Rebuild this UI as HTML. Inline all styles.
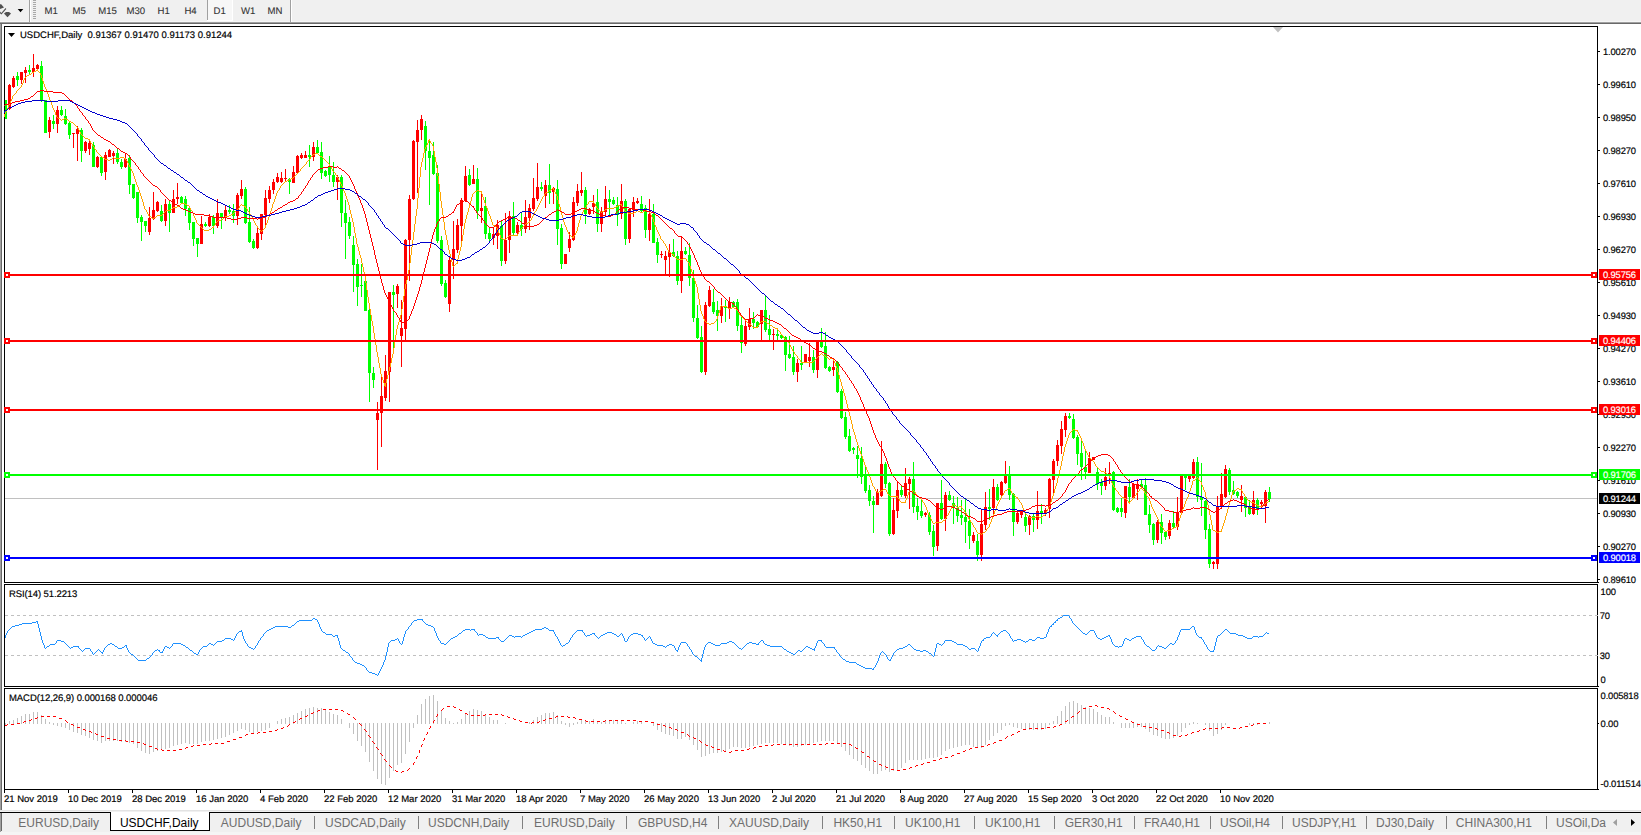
<!DOCTYPE html><html><head><meta charset="utf-8"><title>USDCHF,Daily</title>
<style>
html,body{margin:0;padding:0;background:#fff;}
body{width:1641px;height:835px;overflow:hidden;position:relative;font-family:"Liberation Sans",sans-serif;}
.t{position:absolute;white-space:nowrap;font-size:9.5px;line-height:11px;color:#000;text-rendering:geometricPrecision;}
.tb{position:absolute;white-space:nowrap;font-size:9.6px;line-height:11px;color:#333;top:6px;text-rendering:geometricPrecision;}
.ax{position:absolute;white-space:nowrap;font-size:9.4px;line-height:11px;color:#000;left:1603px;text-rendering:geometricPrecision;letter-spacing:-0.15px;}
.lb{position:absolute;left:1599px;width:41px;height:11px;color:#fff;font-size:9.4px;line-height:11px;white-space:nowrap;overflow:hidden;text-rendering:geometricPrecision;letter-spacing:-0.15px;}
.lb span{position:absolute;left:4px;top:0;}
.tab{position:absolute;top:816px;white-space:nowrap;font-size:12px;line-height:14px;color:#6e6e6e;}
.dt{position:absolute;top:794px;white-space:nowrap;font-size:9.5px;line-height:11px;color:#000;text-rendering:geometricPrecision;}
svg{position:absolute;left:0;top:0;}
.t,.ax,.dt{-webkit-text-stroke:0.18px #000;}
.lb{-webkit-text-stroke:0.18px #fff;}
.tb{-webkit-text-stroke:0.1px #333;}
</style></head><body>
<svg width="1641" height="835" viewBox="0 0 1641 835" shape-rendering="crispEdges">
<rect x="0" y="0" width="1641" height="22" fill="#f0f0f0"/>
<rect x="0" y="21" width="1641" height="1" fill="#f6f6f6"/>
<rect x="0" y="22" width="1641" height="1" fill="#a0a0a0"/>
<rect x="0" y="23" width="1641" height="1" fill="#696969"/>
<g fill="#505050" shape-rendering="auto"><polygon points="0,4.2 1.2,4.2 4,7.6 0,8.9"/><polygon points="0,11.4 1.3,13.1 5.6,8.1 6.3,8.9 1.4,14.6 0,13.2"/><polygon points="4,13.4 6,12 9,12 11,13.4 7.5,17.2"/></g>
<polygon points="17.7,8.9 23.3,8.9 20.5,12.2" fill="#000" shape-rendering="auto"/>
<rect x="29" y="0" width="1" height="22" fill="#a0a0a0"/><rect x="30" y="0" width="1" height="22" fill="#fff"/>
<rect x="33" y="0" width="3" height="1" fill="#a8a8a8"/>
<rect x="33" y="2" width="3" height="1" fill="#a8a8a8"/>
<rect x="33" y="4" width="3" height="1" fill="#a8a8a8"/>
<rect x="33" y="6" width="3" height="1" fill="#a8a8a8"/>
<rect x="33" y="8" width="3" height="1" fill="#a8a8a8"/>
<rect x="33" y="10" width="3" height="1" fill="#a8a8a8"/>
<rect x="33" y="12" width="3" height="1" fill="#a8a8a8"/>
<rect x="33" y="14" width="3" height="1" fill="#a8a8a8"/>
<rect x="33" y="16" width="3" height="1" fill="#a8a8a8"/>
<rect x="33" y="18" width="3" height="1" fill="#a8a8a8"/>
<rect x="208" y="0" width="24" height="20" fill="#f7f7f7"/><rect x="207" y="0" width="1" height="20" fill="#a0a0a0"/><rect x="207" y="20" width="26" height="1" fill="#fff"/><rect x="232" y="0" width="1" height="20" fill="#fff"/>
<rect x="290" y="0" width="1" height="22" fill="#a0a0a0"/><rect x="291" y="0" width="1" height="22" fill="#fff"/>
<rect x="0" y="24" width="1" height="786" fill="#a0a0a0"/><rect x="1" y="24" width="1" height="786" fill="#696969"/>
<rect x="4" y="26" width="1594" height="1" fill="#000"/>
<rect x="4" y="582" width="1595" height="1" fill="#000"/>
<rect x="4" y="26" width="1" height="557" fill="#000"/>
<rect x="1597" y="26" width="1" height="557" fill="#000"/>
<rect x="4" y="584" width="1594" height="1" fill="#000"/>
<rect x="4" y="686" width="1595" height="1" fill="#000"/>
<rect x="4" y="584" width="1" height="103" fill="#000"/>
<rect x="1597" y="584" width="1" height="103" fill="#000"/>
<rect x="4" y="688" width="1594" height="1" fill="#000"/>
<rect x="4" y="789" width="1595" height="1" fill="#000"/>
<rect x="4" y="688" width="1" height="102" fill="#000"/>
<rect x="1597" y="688" width="1" height="102" fill="#000"/>
<polygon points="1273,27 1283,27 1278,32.5" fill="#c0c0c0" shape-rendering="auto"/>
<rect x="1598" y="51" width="2" height="1" fill="#000"/>
<rect x="1598" y="84" width="2" height="1" fill="#000"/>
<rect x="1598" y="117" width="2" height="1" fill="#000"/>
<rect x="1598" y="150" width="2" height="1" fill="#000"/>
<rect x="1598" y="183" width="2" height="1" fill="#000"/>
<rect x="1598" y="216" width="2" height="1" fill="#000"/>
<rect x="1598" y="249" width="2" height="1" fill="#000"/>
<rect x="1598" y="282" width="2" height="1" fill="#000"/>
<rect x="1598" y="315" width="2" height="1" fill="#000"/>
<rect x="1598" y="348" width="2" height="1" fill="#000"/>
<rect x="1598" y="381" width="2" height="1" fill="#000"/>
<rect x="1598" y="414" width="2" height="1" fill="#000"/>
<rect x="1598" y="447" width="2" height="1" fill="#000"/>
<rect x="1598" y="480" width="2" height="1" fill="#000"/>
<rect x="1598" y="513" width="2" height="1" fill="#000"/>
<rect x="1598" y="546" width="2" height="1" fill="#000"/>
<rect x="1598" y="579" width="2" height="1" fill="#000"/>
<rect x="4" y="790" width="1" height="3" fill="#000"/>
<rect x="68" y="790" width="1" height="3" fill="#000"/>
<rect x="132" y="790" width="1" height="3" fill="#000"/>
<rect x="196" y="790" width="1" height="3" fill="#000"/>
<rect x="260" y="790" width="1" height="3" fill="#000"/>
<rect x="324" y="790" width="1" height="3" fill="#000"/>
<rect x="388" y="790" width="1" height="3" fill="#000"/>
<rect x="452" y="790" width="1" height="3" fill="#000"/>
<rect x="516" y="790" width="1" height="3" fill="#000"/>
<rect x="580" y="790" width="1" height="3" fill="#000"/>
<rect x="644" y="790" width="1" height="3" fill="#000"/>
<rect x="708" y="790" width="1" height="3" fill="#000"/>
<rect x="772" y="790" width="1" height="3" fill="#000"/>
<rect x="836" y="790" width="1" height="3" fill="#000"/>
<rect x="900" y="790" width="1" height="3" fill="#000"/>
<rect x="964" y="790" width="1" height="3" fill="#000"/>
<rect x="1028" y="790" width="1" height="3" fill="#000"/>
<rect x="1092" y="790" width="1" height="3" fill="#000"/>
<rect x="1156" y="790" width="1" height="3" fill="#000"/>
<rect x="1220" y="790" width="1" height="3" fill="#000"/>
<line x1="5" y1="615.5" x2="1598" y2="615.5" stroke="#c0c0c0" stroke-width="1" stroke-dasharray="3,3"/>
<line x1="5" y1="655.5" x2="1598" y2="655.5" stroke="#c0c0c0" stroke-width="1" stroke-dasharray="3,3"/>
<rect x="1598" y="723" width="1" height="1" fill="#000"/>
<rect x="5" y="498" width="1592" height="1" fill="#c0c0c0"/>
<rect x="5" y="100" width="1" height="19" fill="#00ff00"/><rect x="4" y="100" width="3" height="19" fill="#00ff00"/>
<rect x="9" y="84" width="1" height="26" fill="#ff0000"/><rect x="8" y="85" width="3" height="24" fill="#ff0000"/>
<rect x="13" y="76" width="1" height="12" fill="#ff0000"/><rect x="12" y="78" width="3" height="9" fill="#ff0000"/>
<rect x="17" y="72" width="1" height="14" fill="#00ff00"/><rect x="16" y="76" width="3" height="4" fill="#00ff00"/>
<rect x="21" y="72" width="1" height="12" fill="#ff0000"/><rect x="20" y="72" width="3" height="8" fill="#ff0000"/>
<rect x="25" y="67" width="1" height="16" fill="#ff0000"/><rect x="24" y="70" width="3" height="3" fill="#ff0000"/>
<rect x="29" y="65" width="1" height="9" fill="#00ff00"/><rect x="28" y="70" width="3" height="2" fill="#00ff00"/>
<rect x="33" y="54" width="1" height="23" fill="#ff0000"/><rect x="32" y="68" width="3" height="4" fill="#ff0000"/>
<rect x="37" y="64" width="1" height="5" fill="#ff0000"/><rect x="36" y="65" width="3" height="4" fill="#ff0000"/>
<rect x="41" y="61" width="1" height="41" fill="#00ff00"/><rect x="40" y="66" width="3" height="34" fill="#00ff00"/>
<rect x="45" y="100" width="1" height="33" fill="#00ff00"/><rect x="44" y="100" width="3" height="33" fill="#00ff00"/>
<rect x="49" y="117" width="1" height="21" fill="#ff0000"/><rect x="48" y="120" width="3" height="12" fill="#ff0000"/>
<rect x="53" y="115" width="1" height="14" fill="#00ff00"/><rect x="52" y="121" width="3" height="3" fill="#00ff00"/>
<rect x="57" y="106" width="1" height="27" fill="#ff0000"/><rect x="56" y="110" width="3" height="14" fill="#ff0000"/>
<rect x="61" y="106" width="1" height="10" fill="#00ff00"/><rect x="60" y="110" width="3" height="5" fill="#00ff00"/>
<rect x="65" y="109" width="1" height="16" fill="#00ff00"/><rect x="64" y="116" width="3" height="8" fill="#00ff00"/>
<rect x="69" y="122" width="1" height="17" fill="#00ff00"/><rect x="68" y="123" width="3" height="12" fill="#00ff00"/>
<rect x="73" y="133" width="1" height="15" fill="#ff0000"/><rect x="72" y="133" width="3" height="1" fill="#ff0000"/>
<rect x="77" y="126" width="1" height="35" fill="#ff0000"/><rect x="76" y="129" width="3" height="5" fill="#ff0000"/>
<rect x="81" y="128" width="1" height="34" fill="#00ff00"/><rect x="80" y="130" width="3" height="21" fill="#00ff00"/>
<rect x="85" y="141" width="1" height="12" fill="#ff0000"/><rect x="84" y="142" width="3" height="9" fill="#ff0000"/>
<rect x="89" y="140" width="1" height="15" fill="#ff0000"/><rect x="88" y="143" width="3" height="6" fill="#ff0000"/>
<rect x="93" y="142" width="1" height="25" fill="#00ff00"/><rect x="92" y="145" width="3" height="22" fill="#00ff00"/>
<rect x="97" y="156" width="1" height="12" fill="#ff0000"/><rect x="96" y="157" width="3" height="10" fill="#ff0000"/>
<rect x="101" y="157" width="1" height="19" fill="#00ff00"/><rect x="100" y="157" width="3" height="16" fill="#00ff00"/>
<rect x="105" y="152" width="1" height="28" fill="#ff0000"/><rect x="104" y="155" width="3" height="17" fill="#ff0000"/>
<rect x="109" y="149" width="1" height="8" fill="#ff0000"/><rect x="108" y="150" width="3" height="7" fill="#ff0000"/>
<rect x="113" y="151" width="1" height="13" fill="#ff0000"/><rect x="112" y="153" width="3" height="3" fill="#ff0000"/>
<rect x="117" y="149" width="1" height="15" fill="#00ff00"/><rect x="116" y="153" width="3" height="9" fill="#00ff00"/>
<rect x="121" y="159" width="1" height="10" fill="#00ff00"/><rect x="120" y="162" width="3" height="5" fill="#00ff00"/>
<rect x="125" y="154" width="1" height="14" fill="#ff0000"/><rect x="124" y="159" width="3" height="8" fill="#ff0000"/>
<rect x="129" y="155" width="1" height="39" fill="#00ff00"/><rect x="128" y="158" width="3" height="27" fill="#00ff00"/>
<rect x="133" y="184" width="1" height="15" fill="#00ff00"/><rect x="132" y="184" width="3" height="14" fill="#00ff00"/>
<rect x="137" y="192" width="1" height="31" fill="#00ff00"/><rect x="136" y="192" width="3" height="26" fill="#00ff00"/>
<rect x="141" y="215" width="1" height="26" fill="#00ff00"/><rect x="140" y="217" width="3" height="5" fill="#00ff00"/>
<rect x="145" y="221" width="1" height="11" fill="#00ff00"/><rect x="144" y="221" width="3" height="5" fill="#00ff00"/>
<rect x="149" y="207" width="1" height="28" fill="#ff0000"/><rect x="148" y="218" width="3" height="14" fill="#ff0000"/>
<rect x="153" y="192" width="1" height="28" fill="#ff0000"/><rect x="152" y="210" width="3" height="9" fill="#ff0000"/>
<rect x="157" y="201" width="1" height="11" fill="#ff0000"/><rect x="156" y="202" width="3" height="9" fill="#ff0000"/>
<rect x="161" y="205" width="1" height="17" fill="#00ff00"/><rect x="160" y="211" width="3" height="10" fill="#00ff00"/>
<rect x="165" y="199" width="1" height="27" fill="#ff0000"/><rect x="164" y="204" width="3" height="17" fill="#ff0000"/>
<rect x="169" y="200" width="1" height="32" fill="#00ff00"/><rect x="168" y="204" width="3" height="9" fill="#00ff00"/>
<rect x="173" y="190" width="1" height="23" fill="#ff0000"/><rect x="172" y="199" width="3" height="14" fill="#ff0000"/>
<rect x="177" y="183" width="1" height="21" fill="#ff0000"/><rect x="176" y="197" width="3" height="2" fill="#ff0000"/>
<rect x="181" y="196" width="1" height="8" fill="#00ff00"/><rect x="180" y="197" width="3" height="6" fill="#00ff00"/>
<rect x="185" y="196" width="1" height="20" fill="#00ff00"/><rect x="184" y="199" width="3" height="10" fill="#00ff00"/>
<rect x="189" y="208" width="1" height="22" fill="#00ff00"/><rect x="188" y="208" width="3" height="15" fill="#00ff00"/>
<rect x="193" y="222" width="1" height="24" fill="#00ff00"/><rect x="192" y="222" width="3" height="17" fill="#00ff00"/>
<rect x="197" y="238" width="1" height="19" fill="#00ff00"/><rect x="196" y="238" width="3" height="6" fill="#00ff00"/>
<rect x="201" y="216" width="1" height="28" fill="#ff0000"/><rect x="200" y="224" width="3" height="20" fill="#ff0000"/>
<rect x="205" y="222" width="1" height="5" fill="#00ff00"/><rect x="204" y="224" width="3" height="2" fill="#00ff00"/>
<rect x="209" y="214" width="1" height="13" fill="#ff0000"/><rect x="208" y="217" width="3" height="9" fill="#ff0000"/>
<rect x="213" y="215" width="1" height="19" fill="#00ff00"/><rect x="212" y="217" width="3" height="9" fill="#00ff00"/>
<rect x="217" y="199" width="1" height="29" fill="#ff0000"/><rect x="216" y="213" width="3" height="13" fill="#ff0000"/>
<rect x="221" y="213" width="1" height="16" fill="#00ff00"/><rect x="220" y="213" width="3" height="5" fill="#00ff00"/>
<rect x="225" y="205" width="1" height="16" fill="#ff0000"/><rect x="224" y="210" width="3" height="8" fill="#ff0000"/>
<rect x="229" y="205" width="1" height="9" fill="#00ff00"/><rect x="228" y="210" width="3" height="2" fill="#00ff00"/>
<rect x="233" y="204" width="1" height="19" fill="#00ff00"/><rect x="232" y="211" width="3" height="5" fill="#00ff00"/>
<rect x="237" y="193" width="1" height="32" fill="#ff0000"/><rect x="236" y="195" width="3" height="21" fill="#ff0000"/>
<rect x="241" y="180" width="1" height="19" fill="#ff0000"/><rect x="240" y="189" width="3" height="7" fill="#ff0000"/>
<rect x="245" y="187" width="1" height="37" fill="#00ff00"/><rect x="244" y="189" width="3" height="34" fill="#00ff00"/>
<rect x="249" y="207" width="1" height="36" fill="#00ff00"/><rect x="248" y="222" width="3" height="20" fill="#00ff00"/>
<rect x="253" y="239" width="1" height="10" fill="#00ff00"/><rect x="252" y="241" width="3" height="7" fill="#00ff00"/>
<rect x="257" y="228" width="1" height="21" fill="#ff0000"/><rect x="256" y="233" width="3" height="15" fill="#ff0000"/>
<rect x="261" y="214" width="1" height="26" fill="#ff0000"/><rect x="260" y="214" width="3" height="20" fill="#ff0000"/>
<rect x="265" y="190" width="1" height="35" fill="#ff0000"/><rect x="264" y="198" width="3" height="17" fill="#ff0000"/>
<rect x="269" y="186" width="1" height="17" fill="#ff0000"/><rect x="268" y="190" width="3" height="9" fill="#ff0000"/>
<rect x="273" y="179" width="1" height="15" fill="#ff0000"/><rect x="272" y="182" width="3" height="8" fill="#ff0000"/>
<rect x="277" y="173" width="1" height="10" fill="#ff0000"/><rect x="276" y="177" width="3" height="5" fill="#ff0000"/>
<rect x="281" y="172" width="1" height="11" fill="#ff0000"/><rect x="280" y="178" width="3" height="4" fill="#ff0000"/>
<rect x="285" y="169" width="1" height="12" fill="#ff0000"/><rect x="284" y="178" width="3" height="1" fill="#ff0000"/>
<rect x="289" y="178" width="1" height="16" fill="#00ff00"/><rect x="288" y="179" width="3" height="3" fill="#00ff00"/>
<rect x="293" y="166" width="1" height="17" fill="#ff0000"/><rect x="292" y="172" width="3" height="11" fill="#ff0000"/>
<rect x="297" y="155" width="1" height="19" fill="#ff0000"/><rect x="296" y="156" width="3" height="17" fill="#ff0000"/>
<rect x="301" y="153" width="1" height="6" fill="#ff0000"/><rect x="300" y="155" width="3" height="3" fill="#ff0000"/>
<rect x="305" y="151" width="1" height="7" fill="#ff0000"/><rect x="304" y="155" width="3" height="3" fill="#ff0000"/>
<rect x="309" y="145" width="1" height="22" fill="#00ff00"/><rect x="308" y="155" width="3" height="2" fill="#00ff00"/>
<rect x="313" y="142" width="1" height="19" fill="#ff0000"/><rect x="312" y="147" width="3" height="10" fill="#ff0000"/>
<rect x="317" y="140" width="1" height="14" fill="#00ff00"/><rect x="316" y="147" width="3" height="6" fill="#00ff00"/>
<rect x="321" y="142" width="1" height="37" fill="#00ff00"/><rect x="320" y="152" width="3" height="21" fill="#00ff00"/>
<rect x="325" y="170" width="1" height="7" fill="#00ff00"/><rect x="324" y="171" width="3" height="5" fill="#00ff00"/>
<rect x="329" y="156" width="1" height="26" fill="#00ff00"/><rect x="328" y="167" width="3" height="8" fill="#00ff00"/>
<rect x="333" y="162" width="1" height="25" fill="#00ff00"/><rect x="332" y="175" width="3" height="7" fill="#00ff00"/>
<rect x="337" y="175" width="1" height="25" fill="#ff0000"/><rect x="336" y="177" width="3" height="5" fill="#ff0000"/>
<rect x="341" y="175" width="1" height="52" fill="#00ff00"/><rect x="340" y="177" width="3" height="36" fill="#00ff00"/>
<rect x="345" y="200" width="1" height="59" fill="#00ff00"/><rect x="344" y="213" width="3" height="10" fill="#00ff00"/>
<rect x="349" y="217" width="1" height="22" fill="#00ff00"/><rect x="348" y="222" width="3" height="14" fill="#00ff00"/>
<rect x="353" y="236" width="1" height="56" fill="#00ff00"/><rect x="352" y="245" width="3" height="20" fill="#00ff00"/>
<rect x="357" y="259" width="1" height="47" fill="#00ff00"/><rect x="356" y="264" width="3" height="23" fill="#00ff00"/>
<rect x="361" y="264" width="1" height="33" fill="#00ff00"/><rect x="360" y="285" width="3" height="1" fill="#00ff00"/>
<rect x="365" y="280" width="1" height="31" fill="#00ff00"/><rect x="364" y="281" width="3" height="30" fill="#00ff00"/>
<rect x="369" y="309" width="1" height="93" fill="#00ff00"/><rect x="368" y="310" width="3" height="63" fill="#00ff00"/>
<rect x="373" y="367" width="1" height="21" fill="#00ff00"/><rect x="372" y="373" width="3" height="7" fill="#00ff00"/>
<rect x="377" y="402" width="1" height="68" fill="#ff0000"/><rect x="376" y="413" width="3" height="7" fill="#ff0000"/>
<rect x="381" y="376" width="1" height="71" fill="#ff0000"/><rect x="380" y="396" width="3" height="17" fill="#ff0000"/>
<rect x="385" y="355" width="1" height="46" fill="#ff0000"/><rect x="384" y="371" width="3" height="27" fill="#ff0000"/>
<rect x="389" y="292" width="1" height="110" fill="#ff0000"/><rect x="388" y="292" width="3" height="80" fill="#ff0000"/>
<rect x="393" y="285" width="1" height="64" fill="#00ff00"/><rect x="392" y="292" width="3" height="3" fill="#00ff00"/>
<rect x="397" y="284" width="1" height="24" fill="#ff0000"/><rect x="396" y="286" width="3" height="8" fill="#ff0000"/>
<rect x="401" y="300" width="1" height="67" fill="#ff0000"/><rect x="400" y="328" width="3" height="8" fill="#ff0000"/>
<rect x="405" y="239" width="1" height="101" fill="#ff0000"/><rect x="404" y="240" width="3" height="89" fill="#ff0000"/>
<rect x="409" y="195" width="1" height="86" fill="#ff0000"/><rect x="408" y="199" width="3" height="41" fill="#ff0000"/>
<rect x="413" y="140" width="1" height="60" fill="#ff0000"/><rect x="412" y="141" width="3" height="58" fill="#ff0000"/>
<rect x="417" y="120" width="1" height="73" fill="#ff0000"/><rect x="416" y="130" width="3" height="12" fill="#ff0000"/>
<rect x="421" y="115" width="1" height="25" fill="#ff0000"/><rect x="420" y="119" width="3" height="11" fill="#ff0000"/>
<rect x="425" y="121" width="1" height="49" fill="#00ff00"/><rect x="424" y="126" width="3" height="25" fill="#00ff00"/>
<rect x="429" y="140" width="1" height="65" fill="#00ff00"/><rect x="428" y="151" width="3" height="7" fill="#00ff00"/>
<rect x="433" y="142" width="1" height="33" fill="#00ff00"/><rect x="432" y="155" width="3" height="19" fill="#00ff00"/>
<rect x="437" y="165" width="1" height="78" fill="#00ff00"/><rect x="436" y="173" width="3" height="68" fill="#00ff00"/>
<rect x="441" y="236" width="1" height="50" fill="#00ff00"/><rect x="440" y="240" width="3" height="44" fill="#00ff00"/>
<rect x="445" y="280" width="1" height="18" fill="#00ff00"/><rect x="444" y="283" width="3" height="14" fill="#00ff00"/>
<rect x="449" y="257" width="1" height="55" fill="#ff0000"/><rect x="448" y="260" width="3" height="44" fill="#ff0000"/>
<rect x="453" y="221" width="1" height="58" fill="#ff0000"/><rect x="452" y="249" width="3" height="11" fill="#ff0000"/>
<rect x="457" y="219" width="1" height="34" fill="#ff0000"/><rect x="456" y="225" width="3" height="25" fill="#ff0000"/>
<rect x="461" y="198" width="1" height="43" fill="#ff0000"/><rect x="460" y="200" width="3" height="26" fill="#ff0000"/>
<rect x="465" y="166" width="1" height="36" fill="#ff0000"/><rect x="464" y="176" width="3" height="25" fill="#ff0000"/>
<rect x="469" y="169" width="1" height="17" fill="#00ff00"/><rect x="468" y="175" width="3" height="10" fill="#00ff00"/>
<rect x="473" y="165" width="1" height="19" fill="#ff0000"/><rect x="472" y="179" width="3" height="5" fill="#ff0000"/>
<rect x="477" y="168" width="1" height="51" fill="#00ff00"/><rect x="476" y="179" width="3" height="32" fill="#00ff00"/>
<rect x="481" y="193" width="1" height="30" fill="#ff0000"/><rect x="480" y="208" width="3" height="3" fill="#ff0000"/>
<rect x="485" y="197" width="1" height="42" fill="#00ff00"/><rect x="484" y="206" width="3" height="28" fill="#00ff00"/>
<rect x="489" y="228" width="1" height="13" fill="#00ff00"/><rect x="488" y="233" width="3" height="6" fill="#00ff00"/>
<rect x="493" y="227" width="1" height="18" fill="#ff0000"/><rect x="492" y="234" width="3" height="4" fill="#ff0000"/>
<rect x="497" y="220" width="1" height="29" fill="#ff0000"/><rect x="496" y="225" width="3" height="11" fill="#ff0000"/>
<rect x="501" y="221" width="1" height="45" fill="#00ff00"/><rect x="500" y="226" width="3" height="35" fill="#00ff00"/>
<rect x="505" y="213" width="1" height="51" fill="#ff0000"/><rect x="504" y="240" width="3" height="21" fill="#ff0000"/>
<rect x="509" y="211" width="1" height="42" fill="#ff0000"/><rect x="508" y="216" width="3" height="24" fill="#ff0000"/>
<rect x="513" y="202" width="1" height="33" fill="#00ff00"/><rect x="512" y="216" width="3" height="17" fill="#00ff00"/>
<rect x="517" y="222" width="1" height="12" fill="#ff0000"/><rect x="516" y="225" width="3" height="8" fill="#ff0000"/>
<rect x="521" y="213" width="1" height="23" fill="#00ff00"/><rect x="520" y="225" width="3" height="4" fill="#00ff00"/>
<rect x="525" y="200" width="1" height="33" fill="#ff0000"/><rect x="524" y="217" width="3" height="12" fill="#ff0000"/>
<rect x="529" y="204" width="1" height="26" fill="#ff0000"/><rect x="528" y="208" width="3" height="10" fill="#ff0000"/>
<rect x="533" y="178" width="1" height="33" fill="#ff0000"/><rect x="532" y="198" width="3" height="11" fill="#ff0000"/>
<rect x="537" y="163" width="1" height="38" fill="#ff0000"/><rect x="536" y="187" width="3" height="12" fill="#ff0000"/>
<rect x="541" y="182" width="1" height="9" fill="#00ff00"/><rect x="540" y="187" width="3" height="2" fill="#00ff00"/>
<rect x="545" y="180" width="1" height="28" fill="#ff0000"/><rect x="544" y="185" width="3" height="11" fill="#ff0000"/>
<rect x="549" y="164" width="1" height="40" fill="#00ff00"/><rect x="548" y="185" width="3" height="8" fill="#00ff00"/>
<rect x="553" y="187" width="1" height="17" fill="#ff0000"/><rect x="552" y="188" width="3" height="4" fill="#ff0000"/>
<rect x="557" y="180" width="1" height="65" fill="#00ff00"/><rect x="556" y="189" width="3" height="40" fill="#00ff00"/>
<rect x="561" y="224" width="1" height="45" fill="#00ff00"/><rect x="560" y="228" width="3" height="36" fill="#00ff00"/>
<rect x="565" y="254" width="1" height="10" fill="#ff0000"/><rect x="564" y="254" width="3" height="10" fill="#ff0000"/>
<rect x="569" y="232" width="1" height="20" fill="#ff0000"/><rect x="568" y="239" width="3" height="9" fill="#ff0000"/>
<rect x="573" y="197" width="1" height="44" fill="#ff0000"/><rect x="572" y="202" width="3" height="38" fill="#ff0000"/>
<rect x="577" y="184" width="1" height="22" fill="#ff0000"/><rect x="576" y="191" width="3" height="12" fill="#ff0000"/>
<rect x="581" y="172" width="1" height="24" fill="#ff0000"/><rect x="580" y="190" width="3" height="3" fill="#ff0000"/>
<rect x="585" y="187" width="1" height="37" fill="#00ff00"/><rect x="584" y="190" width="3" height="24" fill="#00ff00"/>
<rect x="589" y="208" width="1" height="7" fill="#ff0000"/><rect x="588" y="209" width="3" height="5" fill="#ff0000"/>
<rect x="593" y="195" width="1" height="19" fill="#ff0000"/><rect x="592" y="203" width="3" height="4" fill="#ff0000"/>
<rect x="597" y="189" width="1" height="43" fill="#00ff00"/><rect x="596" y="202" width="3" height="22" fill="#00ff00"/>
<rect x="601" y="207" width="1" height="25" fill="#ff0000"/><rect x="600" y="212" width="3" height="12" fill="#ff0000"/>
<rect x="605" y="186" width="1" height="29" fill="#ff0000"/><rect x="604" y="199" width="3" height="13" fill="#ff0000"/>
<rect x="609" y="190" width="1" height="25" fill="#00ff00"/><rect x="608" y="199" width="3" height="3" fill="#00ff00"/>
<rect x="613" y="197" width="1" height="8" fill="#00ff00"/><rect x="612" y="200" width="3" height="4" fill="#00ff00"/>
<rect x="617" y="197" width="1" height="29" fill="#00ff00"/><rect x="616" y="205" width="3" height="10" fill="#00ff00"/>
<rect x="621" y="184" width="1" height="35" fill="#ff0000"/><rect x="620" y="201" width="3" height="13" fill="#ff0000"/>
<rect x="625" y="199" width="1" height="46" fill="#00ff00"/><rect x="624" y="201" width="3" height="38" fill="#00ff00"/>
<rect x="629" y="208" width="1" height="35" fill="#ff0000"/><rect x="628" y="209" width="3" height="30" fill="#ff0000"/>
<rect x="633" y="197" width="1" height="20" fill="#ff0000"/><rect x="632" y="202" width="3" height="8" fill="#ff0000"/>
<rect x="637" y="198" width="1" height="6" fill="#ff0000"/><rect x="636" y="201" width="3" height="2" fill="#ff0000"/>
<rect x="641" y="196" width="1" height="16" fill="#00ff00"/><rect x="640" y="204" width="3" height="7" fill="#00ff00"/>
<rect x="645" y="205" width="1" height="33" fill="#00ff00"/><rect x="644" y="208" width="3" height="22" fill="#00ff00"/>
<rect x="649" y="199" width="1" height="42" fill="#ff0000"/><rect x="648" y="214" width="3" height="16" fill="#ff0000"/>
<rect x="653" y="204" width="1" height="39" fill="#00ff00"/><rect x="652" y="214" width="3" height="29" fill="#00ff00"/>
<rect x="657" y="238" width="1" height="25" fill="#00ff00"/><rect x="656" y="242" width="3" height="13" fill="#00ff00"/>
<rect x="661" y="251" width="1" height="7" fill="#ff0000"/><rect x="660" y="254" width="3" height="1" fill="#ff0000"/>
<rect x="665" y="251" width="1" height="24" fill="#ff0000"/><rect x="664" y="256" width="3" height="4" fill="#ff0000"/>
<rect x="669" y="244" width="1" height="33" fill="#ff0000"/><rect x="668" y="252" width="3" height="5" fill="#ff0000"/>
<rect x="673" y="239" width="1" height="18" fill="#00ff00"/><rect x="672" y="252" width="3" height="4" fill="#00ff00"/>
<rect x="677" y="251" width="1" height="34" fill="#00ff00"/><rect x="676" y="256" width="3" height="25" fill="#00ff00"/>
<rect x="681" y="237" width="1" height="56" fill="#ff0000"/><rect x="680" y="251" width="3" height="30" fill="#ff0000"/>
<rect x="685" y="247" width="1" height="8" fill="#00ff00"/><rect x="684" y="251" width="3" height="3" fill="#00ff00"/>
<rect x="689" y="243" width="1" height="43" fill="#00ff00"/><rect x="688" y="255" width="3" height="23" fill="#00ff00"/>
<rect x="693" y="270" width="1" height="52" fill="#00ff00"/><rect x="692" y="278" width="3" height="40" fill="#00ff00"/>
<rect x="697" y="305" width="1" height="34" fill="#00ff00"/><rect x="696" y="318" width="3" height="20" fill="#00ff00"/>
<rect x="701" y="326" width="1" height="47" fill="#00ff00"/><rect x="700" y="337" width="3" height="35" fill="#00ff00"/>
<rect x="705" y="302" width="1" height="73" fill="#ff0000"/><rect x="704" y="305" width="3" height="67" fill="#ff0000"/>
<rect x="709" y="286" width="1" height="21" fill="#ff0000"/><rect x="708" y="290" width="3" height="16" fill="#ff0000"/>
<rect x="713" y="289" width="1" height="25" fill="#00ff00"/><rect x="712" y="302" width="3" height="10" fill="#00ff00"/>
<rect x="717" y="301" width="1" height="30" fill="#00ff00"/><rect x="716" y="310" width="3" height="6" fill="#00ff00"/>
<rect x="721" y="298" width="1" height="25" fill="#ff0000"/><rect x="720" y="306" width="3" height="10" fill="#ff0000"/>
<rect x="725" y="300" width="1" height="22" fill="#00ff00"/><rect x="724" y="306" width="3" height="2" fill="#00ff00"/>
<rect x="729" y="297" width="1" height="22" fill="#ff0000"/><rect x="728" y="302" width="3" height="6" fill="#ff0000"/>
<rect x="733" y="301" width="1" height="7" fill="#00ff00"/><rect x="732" y="302" width="3" height="5" fill="#00ff00"/>
<rect x="737" y="299" width="1" height="32" fill="#00ff00"/><rect x="736" y="302" width="3" height="24" fill="#00ff00"/>
<rect x="741" y="316" width="1" height="37" fill="#00ff00"/><rect x="740" y="325" width="3" height="18" fill="#00ff00"/>
<rect x="745" y="319" width="1" height="27" fill="#ff0000"/><rect x="744" y="326" width="3" height="18" fill="#ff0000"/>
<rect x="749" y="308" width="1" height="22" fill="#ff0000"/><rect x="748" y="319" width="3" height="8" fill="#ff0000"/>
<rect x="753" y="312" width="1" height="17" fill="#00ff00"/><rect x="752" y="319" width="3" height="4" fill="#00ff00"/>
<rect x="757" y="321" width="1" height="7" fill="#00ff00"/><rect x="756" y="322" width="3" height="5" fill="#00ff00"/>
<rect x="761" y="310" width="1" height="30" fill="#ff0000"/><rect x="760" y="310" width="3" height="14" fill="#ff0000"/>
<rect x="765" y="295" width="1" height="37" fill="#00ff00"/><rect x="764" y="310" width="3" height="20" fill="#00ff00"/>
<rect x="769" y="315" width="1" height="25" fill="#00ff00"/><rect x="768" y="329" width="3" height="6" fill="#00ff00"/>
<rect x="773" y="329" width="1" height="21" fill="#ff0000"/><rect x="772" y="334" width="3" height="1" fill="#ff0000"/>
<rect x="777" y="328" width="1" height="12" fill="#00ff00"/><rect x="776" y="334" width="3" height="2" fill="#00ff00"/>
<rect x="781" y="334" width="1" height="5" fill="#00ff00"/><rect x="780" y="335" width="3" height="3" fill="#00ff00"/>
<rect x="785" y="336" width="1" height="35" fill="#00ff00"/><rect x="784" y="337" width="3" height="18" fill="#00ff00"/>
<rect x="789" y="336" width="1" height="23" fill="#00ff00"/><rect x="788" y="354" width="3" height="4" fill="#00ff00"/>
<rect x="793" y="346" width="1" height="29" fill="#00ff00"/><rect x="792" y="357" width="3" height="15" fill="#00ff00"/>
<rect x="797" y="359" width="1" height="23" fill="#ff0000"/><rect x="796" y="363" width="3" height="9" fill="#ff0000"/>
<rect x="801" y="346" width="1" height="24" fill="#00ff00"/><rect x="800" y="363" width="3" height="2" fill="#00ff00"/>
<rect x="805" y="354" width="1" height="9" fill="#ff0000"/><rect x="804" y="354" width="3" height="8" fill="#ff0000"/>
<rect x="809" y="343" width="1" height="24" fill="#ff0000"/><rect x="808" y="357" width="3" height="4" fill="#ff0000"/>
<rect x="813" y="350" width="1" height="23" fill="#00ff00"/><rect x="812" y="357" width="3" height="13" fill="#00ff00"/>
<rect x="817" y="341" width="1" height="37" fill="#ff0000"/><rect x="816" y="341" width="3" height="29" fill="#ff0000"/>
<rect x="821" y="328" width="1" height="20" fill="#00ff00"/><rect x="820" y="341" width="3" height="6" fill="#00ff00"/>
<rect x="825" y="332" width="1" height="37" fill="#00ff00"/><rect x="824" y="346" width="3" height="22" fill="#00ff00"/>
<rect x="829" y="366" width="1" height="6" fill="#00ff00"/><rect x="828" y="367" width="3" height="4" fill="#00ff00"/>
<rect x="833" y="359" width="1" height="17" fill="#ff0000"/><rect x="832" y="367" width="3" height="3" fill="#ff0000"/>
<rect x="837" y="361" width="1" height="32" fill="#00ff00"/><rect x="836" y="362" width="3" height="30" fill="#00ff00"/>
<rect x="841" y="389" width="1" height="30" fill="#00ff00"/><rect x="840" y="391" width="3" height="27" fill="#00ff00"/>
<rect x="845" y="412" width="1" height="27" fill="#00ff00"/><rect x="844" y="417" width="3" height="20" fill="#00ff00"/>
<rect x="849" y="429" width="1" height="23" fill="#00ff00"/><rect x="848" y="436" width="3" height="15" fill="#00ff00"/>
<rect x="853" y="447" width="1" height="7" fill="#00ff00"/><rect x="852" y="448" width="3" height="2" fill="#00ff00"/>
<rect x="857" y="446" width="1" height="32" fill="#00ff00"/><rect x="856" y="455" width="3" height="4" fill="#00ff00"/>
<rect x="861" y="447" width="1" height="37" fill="#00ff00"/><rect x="860" y="458" width="3" height="19" fill="#00ff00"/>
<rect x="865" y="467" width="1" height="26" fill="#00ff00"/><rect x="864" y="475" width="3" height="16" fill="#00ff00"/>
<rect x="869" y="485" width="1" height="21" fill="#00ff00"/><rect x="868" y="490" width="3" height="11" fill="#00ff00"/>
<rect x="873" y="496" width="1" height="37" fill="#00ff00"/><rect x="872" y="501" width="3" height="4" fill="#00ff00"/>
<rect x="877" y="489" width="1" height="16" fill="#ff0000"/><rect x="876" y="492" width="3" height="13" fill="#ff0000"/>
<rect x="881" y="441" width="1" height="56" fill="#ff0000"/><rect x="880" y="464" width="3" height="32" fill="#ff0000"/>
<rect x="885" y="462" width="1" height="26" fill="#00ff00"/><rect x="884" y="464" width="3" height="20" fill="#00ff00"/>
<rect x="889" y="482" width="1" height="54" fill="#00ff00"/><rect x="888" y="483" width="3" height="51" fill="#00ff00"/>
<rect x="893" y="498" width="1" height="37" fill="#ff0000"/><rect x="892" y="510" width="3" height="24" fill="#ff0000"/>
<rect x="897" y="481" width="1" height="37" fill="#ff0000"/><rect x="896" y="490" width="3" height="21" fill="#ff0000"/>
<rect x="901" y="486" width="1" height="11" fill="#00ff00"/><rect x="900" y="490" width="3" height="5" fill="#00ff00"/>
<rect x="905" y="468" width="1" height="30" fill="#ff0000"/><rect x="904" y="483" width="3" height="13" fill="#ff0000"/>
<rect x="909" y="477" width="1" height="32" fill="#ff0000"/><rect x="908" y="479" width="3" height="5" fill="#ff0000"/>
<rect x="913" y="462" width="1" height="51" fill="#00ff00"/><rect x="912" y="479" width="3" height="28" fill="#00ff00"/>
<rect x="917" y="498" width="1" height="22" fill="#00ff00"/><rect x="916" y="506" width="3" height="6" fill="#00ff00"/>
<rect x="921" y="499" width="1" height="19" fill="#00ff00"/><rect x="920" y="511" width="3" height="5" fill="#00ff00"/>
<rect x="925" y="512" width="1" height="5" fill="#ff0000"/><rect x="924" y="513" width="3" height="2" fill="#ff0000"/>
<rect x="929" y="512" width="1" height="23" fill="#00ff00"/><rect x="928" y="515" width="3" height="17" fill="#00ff00"/>
<rect x="933" y="525" width="1" height="31" fill="#00ff00"/><rect x="932" y="531" width="3" height="16" fill="#00ff00"/>
<rect x="937" y="503" width="1" height="48" fill="#ff0000"/><rect x="936" y="503" width="3" height="43" fill="#ff0000"/>
<rect x="941" y="480" width="1" height="40" fill="#00ff00"/><rect x="940" y="503" width="3" height="16" fill="#00ff00"/>
<rect x="945" y="492" width="1" height="39" fill="#ff0000"/><rect x="944" y="495" width="3" height="24" fill="#ff0000"/>
<rect x="949" y="491" width="1" height="10" fill="#00ff00"/><rect x="948" y="495" width="3" height="5" fill="#00ff00"/>
<rect x="953" y="496" width="1" height="28" fill="#00ff00"/><rect x="952" y="503" width="3" height="4" fill="#00ff00"/>
<rect x="957" y="497" width="1" height="25" fill="#00ff00"/><rect x="956" y="508" width="3" height="8" fill="#00ff00"/>
<rect x="961" y="500" width="1" height="25" fill="#00ff00"/><rect x="960" y="515" width="3" height="3" fill="#00ff00"/>
<rect x="965" y="499" width="1" height="44" fill="#00ff00"/><rect x="964" y="517" width="3" height="5" fill="#00ff00"/>
<rect x="969" y="509" width="1" height="40" fill="#00ff00"/><rect x="968" y="521" width="3" height="15" fill="#00ff00"/>
<rect x="973" y="532" width="1" height="11" fill="#ff0000"/><rect x="972" y="535" width="3" height="6" fill="#ff0000"/>
<rect x="977" y="534" width="1" height="27" fill="#00ff00"/><rect x="976" y="541" width="3" height="14" fill="#00ff00"/>
<rect x="981" y="509" width="1" height="52" fill="#ff0000"/><rect x="980" y="524" width="3" height="31" fill="#ff0000"/>
<rect x="985" y="492" width="1" height="38" fill="#ff0000"/><rect x="984" y="507" width="3" height="18" fill="#ff0000"/>
<rect x="989" y="489" width="1" height="31" fill="#00ff00"/><rect x="988" y="507" width="3" height="2" fill="#00ff00"/>
<rect x="993" y="479" width="1" height="36" fill="#ff0000"/><rect x="992" y="487" width="3" height="21" fill="#ff0000"/>
<rect x="997" y="484" width="1" height="17" fill="#00ff00"/><rect x="996" y="487" width="3" height="13" fill="#00ff00"/>
<rect x="1001" y="481" width="1" height="15" fill="#ff0000"/><rect x="1000" y="482" width="3" height="13" fill="#ff0000"/>
<rect x="1005" y="461" width="1" height="23" fill="#ff0000"/><rect x="1004" y="476" width="3" height="7" fill="#ff0000"/>
<rect x="1009" y="466" width="1" height="34" fill="#00ff00"/><rect x="1008" y="476" width="3" height="19" fill="#00ff00"/>
<rect x="1013" y="493" width="1" height="43" fill="#00ff00"/><rect x="1012" y="494" width="3" height="28" fill="#00ff00"/>
<rect x="1017" y="511" width="1" height="13" fill="#ff0000"/><rect x="1016" y="513" width="3" height="9" fill="#ff0000"/>
<rect x="1021" y="510" width="1" height="8" fill="#ff0000"/><rect x="1020" y="511" width="3" height="4" fill="#ff0000"/>
<rect x="1025" y="514" width="1" height="18" fill="#00ff00"/><rect x="1024" y="517" width="3" height="9" fill="#00ff00"/>
<rect x="1029" y="515" width="1" height="20" fill="#ff0000"/><rect x="1028" y="516" width="3" height="9" fill="#ff0000"/>
<rect x="1033" y="513" width="1" height="19" fill="#00ff00"/><rect x="1032" y="516" width="3" height="4" fill="#00ff00"/>
<rect x="1037" y="491" width="1" height="38" fill="#ff0000"/><rect x="1036" y="511" width="3" height="9" fill="#ff0000"/>
<rect x="1041" y="504" width="1" height="20" fill="#00ff00"/><rect x="1040" y="511" width="3" height="3" fill="#00ff00"/>
<rect x="1045" y="508" width="1" height="8" fill="#ff0000"/><rect x="1044" y="510" width="3" height="3" fill="#ff0000"/>
<rect x="1049" y="478" width="1" height="40" fill="#ff0000"/><rect x="1048" y="479" width="3" height="30" fill="#ff0000"/>
<rect x="1053" y="459" width="1" height="35" fill="#ff0000"/><rect x="1052" y="461" width="3" height="19" fill="#ff0000"/>
<rect x="1057" y="440" width="1" height="26" fill="#ff0000"/><rect x="1056" y="445" width="3" height="16" fill="#ff0000"/>
<rect x="1061" y="421" width="1" height="33" fill="#ff0000"/><rect x="1060" y="429" width="3" height="17" fill="#ff0000"/>
<rect x="1065" y="413" width="1" height="24" fill="#ff0000"/><rect x="1064" y="416" width="3" height="14" fill="#ff0000"/>
<rect x="1069" y="413" width="1" height="6" fill="#00ff00"/><rect x="1068" y="416" width="3" height="2" fill="#00ff00"/>
<rect x="1073" y="414" width="1" height="25" fill="#00ff00"/><rect x="1072" y="419" width="3" height="19" fill="#00ff00"/>
<rect x="1077" y="435" width="1" height="30" fill="#00ff00"/><rect x="1076" y="437" width="3" height="17" fill="#00ff00"/>
<rect x="1081" y="440" width="1" height="40" fill="#00ff00"/><rect x="1080" y="453" width="3" height="14" fill="#00ff00"/>
<rect x="1085" y="451" width="1" height="28" fill="#00ff00"/><rect x="1084" y="467" width="3" height="5" fill="#00ff00"/>
<rect x="1089" y="452" width="1" height="21" fill="#ff0000"/><rect x="1088" y="458" width="3" height="15" fill="#ff0000"/>
<rect x="1093" y="457" width="1" height="3" fill="#ff0000"/><rect x="1092" y="457" width="3" height="3" fill="#ff0000"/>
<rect x="1097" y="468" width="1" height="22" fill="#00ff00"/><rect x="1096" y="472" width="3" height="12" fill="#00ff00"/>
<rect x="1101" y="479" width="1" height="16" fill="#00ff00"/><rect x="1100" y="482" width="3" height="4" fill="#00ff00"/>
<rect x="1105" y="468" width="1" height="22" fill="#ff0000"/><rect x="1104" y="477" width="3" height="9" fill="#ff0000"/>
<rect x="1109" y="462" width="1" height="22" fill="#ff0000"/><rect x="1108" y="473" width="3" height="3" fill="#ff0000"/>
<rect x="1113" y="471" width="1" height="40" fill="#00ff00"/><rect x="1112" y="472" width="3" height="38" fill="#00ff00"/>
<rect x="1117" y="507" width="1" height="6" fill="#00ff00"/><rect x="1116" y="508" width="3" height="4" fill="#00ff00"/>
<rect x="1121" y="498" width="1" height="19" fill="#00ff00"/><rect x="1120" y="508" width="3" height="4" fill="#00ff00"/>
<rect x="1125" y="486" width="1" height="32" fill="#ff0000"/><rect x="1124" y="486" width="3" height="27" fill="#ff0000"/>
<rect x="1129" y="479" width="1" height="25" fill="#00ff00"/><rect x="1128" y="487" width="3" height="10" fill="#00ff00"/>
<rect x="1133" y="483" width="1" height="16" fill="#ff0000"/><rect x="1132" y="484" width="3" height="14" fill="#ff0000"/>
<rect x="1137" y="479" width="1" height="21" fill="#ff0000"/><rect x="1136" y="484" width="3" height="5" fill="#ff0000"/>
<rect x="1141" y="479" width="1" height="9" fill="#00ff00"/><rect x="1140" y="484" width="3" height="3" fill="#00ff00"/>
<rect x="1145" y="478" width="1" height="37" fill="#00ff00"/><rect x="1144" y="485" width="3" height="30" fill="#00ff00"/>
<rect x="1149" y="505" width="1" height="28" fill="#00ff00"/><rect x="1148" y="514" width="3" height="11" fill="#00ff00"/>
<rect x="1153" y="523" width="1" height="22" fill="#00ff00"/><rect x="1152" y="524" width="3" height="16" fill="#00ff00"/>
<rect x="1157" y="520" width="1" height="23" fill="#ff0000"/><rect x="1156" y="522" width="3" height="18" fill="#ff0000"/>
<rect x="1161" y="514" width="1" height="30" fill="#00ff00"/><rect x="1160" y="522" width="3" height="11" fill="#00ff00"/>
<rect x="1165" y="531" width="1" height="9" fill="#00ff00"/><rect x="1164" y="532" width="3" height="5" fill="#00ff00"/>
<rect x="1169" y="520" width="1" height="19" fill="#ff0000"/><rect x="1168" y="523" width="3" height="13" fill="#ff0000"/>
<rect x="1173" y="511" width="1" height="17" fill="#00ff00"/><rect x="1172" y="523" width="3" height="4" fill="#00ff00"/>
<rect x="1177" y="497" width="1" height="33" fill="#ff0000"/><rect x="1176" y="512" width="3" height="15" fill="#ff0000"/>
<rect x="1181" y="475" width="1" height="39" fill="#ff0000"/><rect x="1180" y="475" width="3" height="38" fill="#ff0000"/>
<rect x="1185" y="475" width="1" height="15" fill="#00ff00"/><rect x="1184" y="475" width="3" height="3" fill="#00ff00"/>
<rect x="1189" y="475" width="1" height="7" fill="#ff0000"/><rect x="1188" y="476" width="3" height="3" fill="#ff0000"/>
<rect x="1193" y="459" width="1" height="20" fill="#ff0000"/><rect x="1192" y="462" width="3" height="16" fill="#ff0000"/>
<rect x="1197" y="457" width="1" height="45" fill="#00ff00"/><rect x="1196" y="462" width="3" height="35" fill="#00ff00"/>
<rect x="1201" y="463" width="1" height="53" fill="#00ff00"/><rect x="1200" y="497" width="3" height="3" fill="#00ff00"/>
<rect x="1205" y="500" width="1" height="39" fill="#00ff00"/><rect x="1204" y="501" width="3" height="29" fill="#00ff00"/>
<rect x="1209" y="524" width="1" height="44" fill="#00ff00"/><rect x="1208" y="529" width="3" height="35" fill="#00ff00"/>
<rect x="1213" y="561" width="1" height="8" fill="#ff0000"/><rect x="1212" y="562" width="3" height="2" fill="#ff0000"/>
<rect x="1217" y="496" width="1" height="73" fill="#ff0000"/><rect x="1216" y="506" width="3" height="58" fill="#ff0000"/>
<rect x="1221" y="473" width="1" height="36" fill="#ff0000"/><rect x="1220" y="494" width="3" height="13" fill="#ff0000"/>
<rect x="1225" y="465" width="1" height="33" fill="#ff0000"/><rect x="1224" y="469" width="3" height="28" fill="#ff0000"/>
<rect x="1229" y="468" width="1" height="27" fill="#00ff00"/><rect x="1228" y="470" width="3" height="22" fill="#00ff00"/>
<rect x="1233" y="481" width="1" height="14" fill="#00ff00"/><rect x="1232" y="490" width="3" height="4" fill="#00ff00"/>
<rect x="1237" y="491" width="1" height="7" fill="#00ff00"/><rect x="1236" y="492" width="3" height="4" fill="#00ff00"/>
<rect x="1241" y="485" width="1" height="27" fill="#ff0000"/><rect x="1240" y="496" width="3" height="4" fill="#ff0000"/>
<rect x="1245" y="496" width="1" height="21" fill="#00ff00"/><rect x="1244" y="497" width="3" height="11" fill="#00ff00"/>
<rect x="1249" y="500" width="1" height="15" fill="#00ff00"/><rect x="1248" y="507" width="3" height="7" fill="#00ff00"/>
<rect x="1253" y="491" width="1" height="24" fill="#ff0000"/><rect x="1252" y="500" width="3" height="14" fill="#ff0000"/>
<rect x="1257" y="498" width="1" height="17" fill="#00ff00"/><rect x="1256" y="500" width="3" height="10" fill="#00ff00"/>
<rect x="1261" y="500" width="1" height="9" fill="#ff0000"/><rect x="1260" y="502" width="3" height="2" fill="#ff0000"/>
<rect x="1265" y="490" width="1" height="33" fill="#ff0000"/><rect x="1264" y="492" width="3" height="14" fill="#ff0000"/>
<rect x="1269" y="487" width="1" height="15" fill="#00ff00"/><rect x="1268" y="492" width="3" height="7" fill="#00ff00"/>
<rect x="4" y="26" width="1" height="557" fill="#000"/>
<path d="M4 114h1v3h-1zM5 112h1v2h-1zM6 110h1v2h-1zM7 108h1v2h-1zM8 105h1v3h-1zM9 103h1v2h-1zM10 101h1v2h-1zM11 99h1v2h-1zM12 96h1v3h-1zM13 95h1v1h-1zM14 94h1v1h-1zM15 93h1v1h-1zM16 91h1v2h-1zM17 90h1v1h-1zM18 89h1v1h-1zM19 88h1v1h-1zM20 87h1v1h-1zM21 85h1v2h-1zM22 83h1v2h-1zM23 80h1v3h-1zM24 78h1v2h-1zM25 77h1v1h-1zM26 76h1v1h-1zM27 75h1v1h-1zM28 75h1v1h-1zM29 74h1v1h-1zM30 74h1v1h-1zM31 73h1v1h-1zM32 72h1v1h-1zM33 72h1v1h-1zM34 71h1v1h-1zM35 71h1v1h-1zM36 70h1v1h-1zM37 69h1v2h-1zM38 71h1v1h-1zM39 72h1v1h-1zM40 73h1v2h-1zM41 75h1v3h-1zM42 78h1v3h-1zM43 81h1v3h-1zM44 84h1v3h-1zM45 87h1v2h-1zM46 89h1v3h-1zM47 92h1v2h-1zM48 94h1v3h-1zM49 97h1v3h-1zM50 100h1v2h-1zM51 102h1v3h-1zM52 105h1v3h-1zM53 108h1v2h-1zM54 110h1v2h-1zM55 112h1v3h-1zM56 115h1v2h-1zM57 117h1v1h-1zM58 118h1v1h-1zM59 118h1v1h-1zM60 119h1v1h-1zM61 120h1v1h-1zM62 119h1v1h-1zM63 119h1v1h-1zM64 118h1v1h-1zM65 118h1v1h-1zM66 119h1v1h-1zM67 119h1v1h-1zM68 120h1v1h-1zM69 121h1v1h-1zM70 121h1v1h-1zM71 122h1v1h-1zM72 122h1v1h-1zM73 123h1v1h-1zM74 124h1v1h-1zM75 125h1v1h-1zM76 126h1v1h-1zM77 127h1v1h-1zM78 128h1v2h-1zM79 130h1v2h-1zM80 132h1v2h-1zM81 134h1v1h-1zM82 135h1v1h-1zM83 136h1v1h-1zM84 137h1v1h-1zM85 138h1v1h-1zM86 138h1v1h-1zM87 138h1v1h-1zM88 139h1v1h-1zM89 139h1v2h-1zM90 141h1v2h-1zM91 143h1v1h-1zM92 144h1v2h-1zM93 146h1v1h-1zM94 147h1v2h-1zM95 149h1v1h-1zM96 150h1v2h-1zM97 152h1v1h-1zM98 153h1v1h-1zM99 154h1v1h-1zM100 155h1v1h-1zM101 156h1v1h-1zM102 157h1v1h-1zM103 157h1v1h-1zM104 158h1v1h-1zM105 159h1v1h-1zM106 159h1v1h-1zM107 159h1v1h-1zM108 160h1v1h-1zM109 160h1v1h-1zM110 159h1v1h-1zM111 159h1v1h-1zM112 158h1v1h-1zM113 157h1v1h-1zM114 158h1v1h-1zM115 158h1v1h-1zM116 158h1v1h-1zM117 158h1v1h-1zM118 158h1v1h-1zM119 158h1v1h-1zM120 157h1v1h-1zM121 157h1v1h-1zM122 157h1v1h-1zM123 157h1v1h-1zM124 158h1v1h-1zM125 158h1v2h-1zM126 160h1v1h-1zM127 161h1v2h-1zM128 163h1v2h-1zM129 165h1v2h-1zM130 167h1v2h-1zM131 169h1v2h-1zM132 171h1v2h-1zM133 173h1v3h-1zM134 176h1v3h-1zM135 179h1v3h-1zM136 182h1v3h-1zM137 185h1v2h-1zM138 187h1v3h-1zM139 190h1v3h-1zM140 193h1v3h-1zM141 196h1v3h-1zM142 199h1v3h-1zM143 202h1v4h-1zM144 206h1v3h-1zM145 209h1v1h-1zM146 210h1v2h-1zM147 212h1v2h-1zM148 214h1v2h-1zM149 216h1v1h-1zM150 216h1v1h-1zM151 217h1v1h-1zM152 218h1v1h-1zM153 218h1v1h-1zM154 217h1v1h-1zM155 217h1v1h-1zM156 216h1v1h-1zM157 215h1v1h-1zM158 215h1v1h-1zM159 215h1v1h-1zM160 215h1v1h-1zM161 215h1v1h-1zM162 214h1v1h-1zM163 213h1v1h-1zM164 212h1v1h-1zM165 211h1v1h-1zM166 210h1v1h-1zM167 210h1v1h-1zM168 210h1v1h-1zM169 210h1v1h-1zM170 209h1v1h-1zM171 209h1v1h-1zM172 208h1v1h-1zM173 207h1v1h-1zM174 207h1v1h-1zM175 207h1v1h-1zM176 207h1v1h-1zM177 206h1v1h-1zM178 206h1v1h-1zM179 205h1v1h-1zM180 204h1v1h-1zM181 203h1v1h-1zM182 203h1v1h-1zM183 203h1v1h-1zM184 203h1v1h-1zM185 204h1v1h-1zM186 204h1v1h-1zM187 205h1v1h-1zM188 205h1v1h-1zM189 206h1v2h-1zM190 208h1v2h-1zM191 210h1v1h-1zM192 211h1v2h-1zM193 213h1v3h-1zM194 216h1v2h-1zM195 218h1v2h-1zM196 220h1v3h-1zM197 223h1v1h-1zM198 224h1v1h-1zM199 225h1v1h-1zM200 226h1v1h-1zM201 227h1v1h-1zM202 228h1v1h-1zM203 229h1v1h-1zM204 230h1v1h-1zM205 230h1v1h-1zM206 230h1v1h-1zM207 230h1v1h-1zM208 230h1v1h-1zM209 229h1v1h-1zM210 229h1v1h-1zM211 228h1v1h-1zM212 227h1v1h-1zM213 226h1v2h-1zM214 225h1v1h-1zM215 223h1v2h-1zM216 222h1v1h-1zM217 221h1v1h-1zM218 220h1v1h-1zM219 220h1v1h-1zM220 220h1v1h-1zM221 219h1v1h-1zM222 219h1v1h-1zM223 218h1v1h-1zM224 217h1v1h-1zM225 216h1v1h-1zM226 216h1v1h-1zM227 216h1v1h-1zM228 216h1v1h-1zM229 215h1v1h-1zM230 215h1v1h-1zM231 214h1v1h-1zM232 214h1v1h-1zM233 213h1v1h-1zM234 212h1v1h-1zM235 211h1v1h-1zM236 210h1v1h-1zM237 209h1v2h-1zM238 208h1v1h-1zM239 206h1v2h-1zM240 205h1v1h-1zM241 204h1v1h-1zM242 205h1v1h-1zM243 205h1v1h-1zM244 206h1v1h-1zM245 206h1v2h-1zM246 208h1v1h-1zM247 209h1v2h-1zM248 211h1v1h-1zM249 212h1v2h-1zM250 214h1v2h-1zM251 216h1v1h-1zM252 217h1v2h-1zM253 219h1v2h-1zM254 221h1v2h-1zM255 223h1v2h-1zM256 225h1v1h-1zM257 226h1v2h-1zM258 228h1v1h-1zM259 229h1v1h-1zM260 230h1v1h-1zM261 231h1v1h-1zM262 230h1v1h-1zM263 229h1v1h-1zM264 228h1v1h-1zM265 225h1v3h-1zM266 223h1v2h-1zM267 220h1v3h-1zM268 217h1v3h-1zM269 214h1v3h-1zM270 211h1v3h-1zM271 208h1v3h-1zM272 204h1v4h-1zM273 202h1v2h-1zM274 199h1v3h-1zM275 196h1v3h-1zM276 193h1v3h-1zM277 191h1v2h-1zM278 190h1v1h-1zM279 188h1v2h-1zM280 186h1v2h-1zM281 185h1v1h-1zM282 184h1v1h-1zM283 183h1v1h-1zM284 182h1v1h-1zM285 181h1v1h-1zM286 181h1v1h-1zM287 180h1v1h-1zM288 180h1v1h-1zM289 179h1v1h-1zM290 179h1v1h-1zM291 178h1v1h-1zM292 178h1v1h-1zM293 177h1v1h-1zM294 176h1v1h-1zM295 175h1v1h-1zM296 174h1v1h-1zM297 173h1v1h-1zM298 172h1v1h-1zM299 171h1v1h-1zM300 169h1v2h-1zM301 168h1v1h-1zM302 167h1v1h-1zM303 166h1v1h-1zM304 165h1v1h-1zM305 164h1v1h-1zM306 162h1v2h-1zM307 161h1v1h-1zM308 160h1v1h-1zM309 159h1v1h-1zM310 157h1v2h-1zM311 156h1v1h-1zM312 155h1v1h-1zM313 154h1v1h-1zM314 154h1v1h-1zM315 153h1v1h-1zM316 153h1v1h-1zM317 153h1v1h-1zM318 154h1v1h-1zM319 155h1v1h-1zM320 156h1v1h-1zM321 156h1v1h-1zM322 157h1v1h-1zM323 158h1v1h-1zM324 159h1v1h-1zM325 160h1v1h-1zM326 161h1v1h-1zM327 162h1v1h-1zM328 163h1v1h-1zM329 164h1v2h-1zM330 166h1v1h-1zM331 167h1v2h-1zM332 169h1v2h-1zM333 171h1v1h-1zM334 172h1v1h-1zM335 173h1v2h-1zM336 175h1v1h-1zM337 176h1v2h-1zM338 178h1v2h-1zM339 180h1v2h-1zM340 182h1v2h-1zM341 184h1v2h-1zM342 186h1v2h-1zM343 188h1v3h-1zM344 191h1v2h-1zM345 193h1v3h-1zM346 196h1v3h-1zM347 199h1v3h-1zM348 202h1v3h-1zM349 205h1v5h-1zM350 210h1v4h-1zM351 214h1v4h-1zM352 218h1v4h-1zM353 222h1v5h-1zM354 227h1v6h-1zM355 233h1v5h-1zM356 238h1v6h-1zM357 244h1v3h-1zM358 247h1v4h-1zM359 251h1v4h-1zM360 255h1v3h-1zM361 258h1v5h-1zM362 263h1v4h-1zM363 267h1v5h-1zM364 272h1v4h-1zM365 276h1v7h-1zM366 283h1v7h-1zM367 290h1v7h-1zM368 297h1v6h-1zM369 303h1v6h-1zM370 309h1v6h-1zM371 315h1v6h-1zM372 321h1v5h-1zM373 326h1v7h-1zM374 333h1v6h-1zM375 339h1v6h-1zM376 345h1v7h-1zM377 352h1v5h-1zM378 357h1v6h-1zM379 363h1v5h-1zM380 368h1v6h-1zM381 374h1v3h-1zM382 377h1v3h-1zM383 380h1v3h-1zM384 383h1v3h-1zM385 383h1v4h-1zM386 379h1v4h-1zM387 375h1v4h-1zM388 371h1v4h-1zM389 367h1v4h-1zM390 363h1v4h-1zM391 358h1v5h-1zM392 354h1v4h-1zM393 348h1v6h-1zM394 341h1v7h-1zM395 335h1v6h-1zM396 329h1v6h-1zM397 325h1v4h-1zM398 322h1v3h-1zM399 319h1v3h-1zM400 315h1v4h-1zM401 309h1v6h-1zM402 302h1v7h-1zM403 296h1v6h-1zM404 289h1v7h-1zM405 284h1v5h-1zM406 280h1v4h-1zM407 275h1v5h-1zM408 270h1v5h-1zM409 263h1v7h-1zM410 255h1v8h-1zM411 247h1v8h-1zM412 240h1v7h-1zM413 232h1v8h-1zM414 224h1v8h-1zM415 216h1v8h-1zM416 209h1v7h-1zM417 198h1v11h-1zM418 188h1v10h-1zM419 177h1v11h-1zM420 167h1v10h-1zM421 162h1v5h-1zM422 158h1v4h-1zM423 153h1v5h-1zM424 149h1v4h-1zM425 147h1v2h-1zM426 145h1v2h-1zM427 143h1v2h-1zM428 140h1v3h-1zM429 139h1v2h-1zM430 141h1v2h-1zM431 143h1v1h-1zM432 144h1v2h-1zM433 146h1v5h-1zM434 151h1v6h-1zM435 157h1v5h-1zM436 162h1v6h-1zM437 168h1v8h-1zM438 176h1v8h-1zM439 184h1v8h-1zM440 192h1v9h-1zM441 201h1v7h-1zM442 208h1v7h-1zM443 215h1v7h-1zM444 222h1v8h-1zM445 230h1v5h-1zM446 235h1v5h-1zM447 240h1v5h-1zM448 245h1v5h-1zM449 250h1v4h-1zM450 254h1v4h-1zM451 258h1v4h-1zM452 262h1v4h-1zM453 266h1v1h-1zM454 265h1v1h-1zM455 264h1v1h-1zM456 263h1v1h-1zM457 259h1v5h-1zM458 255h1v4h-1zM459 251h1v4h-1zM460 247h1v4h-1zM461 241h1v6h-1zM462 235h1v6h-1zM463 229h1v6h-1zM464 223h1v6h-1zM465 219h1v4h-1zM466 215h1v4h-1zM467 212h1v3h-1zM468 208h1v4h-1zM469 204h1v4h-1zM470 201h1v3h-1zM471 197h1v4h-1zM472 194h1v3h-1zM473 193h1v1h-1zM474 192h1v1h-1zM475 191h1v1h-1zM476 191h1v1h-1zM477 190h1v1h-1zM478 190h1v1h-1zM479 191h1v1h-1zM480 191h1v1h-1zM481 191h1v3h-1zM482 194h1v3h-1zM483 197h1v3h-1zM484 200h1v3h-1zM485 203h1v3h-1zM486 206h1v2h-1zM487 208h1v3h-1zM488 211h1v3h-1zM489 214h1v2h-1zM490 216h1v3h-1zM491 219h1v3h-1zM492 222h1v3h-1zM493 225h1v1h-1zM494 225h1v1h-1zM495 226h1v1h-1zM496 227h1v1h-1zM497 228h1v2h-1zM498 230h1v3h-1zM499 233h1v2h-1zM500 235h1v3h-1zM501 238h1v1h-1zM502 238h1v1h-1zM503 239h1v1h-1zM504 239h1v1h-1zM505 239h1v1h-1zM506 238h1v1h-1zM507 237h1v1h-1zM508 236h1v1h-1zM509 235h1v1h-1zM510 235h1v1h-1zM511 235h1v1h-1zM512 235h1v1h-1zM513 235h1v1h-1zM514 235h1v1h-1zM515 235h1v1h-1zM516 235h1v1h-1zM517 234h1v2h-1zM518 232h1v2h-1zM519 231h1v1h-1zM520 229h1v2h-1zM521 228h1v1h-1zM522 227h1v1h-1zM523 226h1v1h-1zM524 225h1v1h-1zM525 224h1v1h-1zM526 223h1v1h-1zM527 223h1v1h-1zM528 222h1v1h-1zM529 221h1v2h-1zM530 220h1v1h-1zM531 218h1v2h-1zM532 216h1v2h-1zM533 214h1v2h-1zM534 212h1v2h-1zM535 211h1v1h-1zM536 209h1v2h-1zM537 207h1v2h-1zM538 205h1v2h-1zM539 203h1v2h-1zM540 201h1v2h-1zM541 199h1v2h-1zM542 197h1v2h-1zM543 196h1v1h-1zM544 194h1v2h-1zM545 193h1v1h-1zM546 192h1v1h-1zM547 192h1v1h-1zM548 191h1v1h-1zM549 190h1v1h-1zM550 190h1v1h-1zM551 189h1v1h-1zM552 188h1v1h-1zM553 188h1v2h-1zM554 190h1v2h-1zM555 192h1v2h-1zM556 194h1v2h-1zM557 196h1v4h-1zM558 200h1v4h-1zM559 204h1v3h-1zM560 207h1v4h-1zM561 211h1v4h-1zM562 215h1v3h-1zM563 218h1v4h-1zM564 222h1v3h-1zM565 225h1v2h-1zM566 227h1v3h-1zM567 230h1v2h-1zM568 232h1v2h-1zM569 234h1v1h-1zM570 235h1v1h-1zM571 236h1v1h-1zM572 237h1v1h-1zM573 236h1v2h-1zM574 235h1v1h-1zM575 233h1v2h-1zM576 231h1v2h-1zM577 227h1v4h-1zM578 223h1v4h-1zM579 220h1v3h-1zM580 216h1v4h-1zM581 214h1v2h-1zM582 212h1v2h-1zM583 210h1v2h-1zM584 208h1v2h-1zM585 207h1v1h-1zM586 205h1v2h-1zM587 204h1v1h-1zM588 202h1v2h-1zM589 201h1v1h-1zM590 201h1v1h-1zM591 201h1v1h-1zM592 201h1v1h-1zM593 201h1v2h-1zM594 203h1v1h-1zM595 204h1v2h-1zM596 206h1v2h-1zM597 208h1v1h-1zM598 209h1v1h-1zM599 210h1v1h-1zM600 211h1v1h-1zM601 212h1v1h-1zM602 211h1v1h-1zM603 211h1v1h-1zM604 210h1v1h-1zM605 209h1v1h-1zM606 209h1v1h-1zM607 208h1v1h-1zM608 208h1v1h-1zM609 208h1v1h-1zM610 208h1v1h-1zM611 208h1v1h-1zM612 208h1v1h-1zM613 208h1v1h-1zM614 207h1v1h-1zM615 207h1v1h-1zM616 206h1v1h-1zM617 206h1v1h-1zM618 205h1v1h-1zM619 205h1v1h-1zM620 204h1v1h-1zM621 204h1v2h-1zM622 206h1v2h-1zM623 208h1v1h-1zM624 209h1v2h-1zM625 211h1v1h-1zM626 212h1v1h-1zM627 212h1v1h-1zM628 213h1v1h-1zM629 213h1v1h-1zM630 213h1v1h-1zM631 213h1v1h-1zM632 213h1v1h-1zM633 213h1v1h-1zM634 212h1v1h-1zM635 212h1v1h-1zM636 211h1v1h-1zM637 210h1v1h-1zM638 211h1v1h-1zM639 211h1v1h-1zM640 212h1v1h-1zM641 212h1v1h-1zM642 212h1v1h-1zM643 211h1v1h-1zM644 211h1v1h-1zM645 210h1v1h-1zM646 210h1v1h-1zM647 211h1v1h-1zM648 211h1v1h-1zM649 211h1v2h-1zM650 213h1v2h-1zM651 215h1v2h-1zM652 217h1v2h-1zM653 219h1v3h-1zM654 222h1v3h-1zM655 225h1v2h-1zM656 227h1v3h-1zM657 230h1v2h-1zM658 232h1v2h-1zM659 234h1v2h-1zM660 236h1v3h-1zM661 239h1v1h-1zM662 240h1v1h-1zM663 241h1v2h-1zM664 243h1v1h-1zM665 244h1v2h-1zM666 246h1v2h-1zM667 248h1v2h-1zM668 250h1v2h-1zM669 252h1v1h-1zM670 252h1v1h-1zM671 253h1v1h-1zM672 254h1v1h-1zM673 254h1v2h-1zM674 256h1v1h-1zM675 257h1v1h-1zM676 258h1v1h-1zM677 259h1v1h-1zM678 259h1v1h-1zM679 259h1v1h-1zM680 259h1v1h-1zM681 259h1v1h-1zM682 259h1v1h-1zM683 258h1v1h-1zM684 258h1v1h-1zM685 258h1v1h-1zM686 259h1v2h-1zM687 261h1v1h-1zM688 262h1v1h-1zM689 263h1v3h-1zM690 266h1v3h-1zM691 269h1v3h-1zM692 272h1v4h-1zM693 276h1v2h-1zM694 278h1v3h-1zM695 281h1v3h-1zM696 284h1v3h-1zM697 287h1v6h-1zM698 293h1v6h-1zM699 299h1v6h-1zM700 305h1v6h-1zM701 311h1v3h-1zM702 314h1v2h-1zM703 316h1v3h-1zM704 319h1v2h-1zM705 321h1v1h-1zM706 322h1v1h-1zM707 323h1v1h-1zM708 323h1v1h-1zM709 324h1v1h-1zM710 324h1v1h-1zM711 323h1v1h-1zM712 323h1v1h-1zM713 323h1v1h-1zM714 322h1v1h-1zM715 321h1v1h-1zM716 319h1v2h-1zM717 316h1v3h-1zM718 313h1v3h-1zM719 310h1v3h-1zM720 306h1v4h-1zM721 305h1v1h-1zM722 306h1v1h-1zM723 306h1v1h-1zM724 306h1v1h-1zM725 306h1v1h-1zM726 306h1v1h-1zM727 307h1v1h-1zM728 308h1v1h-1zM729 308h1v1h-1zM730 308h1v1h-1zM731 308h1v1h-1zM732 307h1v1h-1zM733 307h1v1h-1zM734 308h1v1h-1zM735 308h1v1h-1zM736 309h1v1h-1zM737 309h1v2h-1zM738 311h1v2h-1zM739 313h1v2h-1zM740 315h1v1h-1zM741 316h1v1h-1zM742 317h1v1h-1zM743 318h1v1h-1zM744 319h1v1h-1zM745 320h1v1h-1zM746 321h1v1h-1zM747 322h1v1h-1zM748 323h1v1h-1zM749 324h1v1h-1zM750 324h1v1h-1zM751 325h1v1h-1zM752 326h1v1h-1zM753 327h1v1h-1zM754 327h1v1h-1zM755 327h1v1h-1zM756 327h1v1h-1zM757 326h1v2h-1zM758 325h1v1h-1zM759 323h1v2h-1zM760 322h1v1h-1zM761 321h1v1h-1zM762 321h1v1h-1zM763 321h1v1h-1zM764 321h1v1h-1zM765 321h1v1h-1zM766 322h1v1h-1zM767 323h1v1h-1zM768 323h1v1h-1zM769 324h1v1h-1zM770 325h1v1h-1zM771 325h1v1h-1zM772 326h1v1h-1zM773 327h1v1h-1zM774 327h1v1h-1zM775 328h1v1h-1zM776 328h1v1h-1zM777 328h1v2h-1zM778 330h1v1h-1zM779 331h1v1h-1zM780 332h1v2h-1zM781 334h1v1h-1zM782 335h1v1h-1zM783 336h1v2h-1zM784 338h1v1h-1zM785 339h1v1h-1zM786 340h1v1h-1zM787 341h1v1h-1zM788 342h1v1h-1zM789 343h1v2h-1zM790 345h1v2h-1zM791 347h1v2h-1zM792 349h1v2h-1zM793 351h1v1h-1zM794 352h1v2h-1zM795 354h1v1h-1zM796 355h1v1h-1zM797 356h1v2h-1zM798 358h1v1h-1zM799 359h1v1h-1zM800 360h1v2h-1zM801 362h1v1h-1zM802 362h1v1h-1zM803 362h1v1h-1zM804 362h1v1h-1zM805 362h1v1h-1zM806 362h1v1h-1zM807 362h1v1h-1zM808 362h1v1h-1zM809 362h1v1h-1zM810 362h1v1h-1zM811 362h1v1h-1zM812 362h1v1h-1zM813 361h1v1h-1zM814 360h1v1h-1zM815 359h1v1h-1zM816 358h1v1h-1zM817 357h1v1h-1zM818 356h1v1h-1zM819 355h1v1h-1zM820 354h1v1h-1zM821 353h1v1h-1zM822 354h1v1h-1zM823 355h1v1h-1zM824 355h1v1h-1zM825 356h1v1h-1zM826 357h1v1h-1zM827 357h1v1h-1zM828 358h1v1h-1zM829 359h1v1h-1zM830 358h1v1h-1zM831 358h1v1h-1zM832 358h1v1h-1zM833 358h1v3h-1zM834 361h1v2h-1zM835 363h1v3h-1zM836 366h1v2h-1zM837 368h1v4h-1zM838 372h1v3h-1zM839 375h1v4h-1zM840 379h1v3h-1zM841 382h1v4h-1zM842 386h1v3h-1zM843 389h1v4h-1zM844 393h1v3h-1zM845 396h1v4h-1zM846 400h1v4h-1zM847 404h1v4h-1zM848 408h1v4h-1zM849 412h1v4h-1zM850 416h1v4h-1zM851 420h1v4h-1zM852 424h1v5h-1zM853 429h1v3h-1zM854 432h1v3h-1zM855 435h1v4h-1zM856 439h1v3h-1zM857 442h1v3h-1zM858 445h1v3h-1zM859 448h1v3h-1zM860 451h1v3h-1zM861 454h1v2h-1zM862 456h1v3h-1zM863 459h1v3h-1zM864 462h1v3h-1zM865 465h1v2h-1zM866 467h1v3h-1zM867 470h1v2h-1zM868 472h1v3h-1zM869 475h1v2h-1zM870 477h1v3h-1zM871 480h1v3h-1zM872 483h1v3h-1zM873 486h1v1h-1zM874 487h1v2h-1zM875 489h1v2h-1zM876 491h1v1h-1zM877 492h1v1h-1zM878 492h1v1h-1zM879 491h1v1h-1zM880 491h1v1h-1zM881 490h1v1h-1zM882 490h1v1h-1zM883 489h1v1h-1zM884 489h1v1h-1zM885 489h1v1h-1zM886 490h1v2h-1zM887 492h1v2h-1zM888 494h1v1h-1zM889 495h1v1h-1zM890 496h1v1h-1zM891 496h1v1h-1zM892 496h1v1h-1zM893 496h1v1h-1zM894 496h1v1h-1zM895 496h1v1h-1zM896 496h1v1h-1zM897 496h1v2h-1zM898 498h1v1h-1zM899 499h1v2h-1zM900 501h1v1h-1zM901 502h1v1h-1zM902 502h1v1h-1zM903 502h1v1h-1zM904 502h1v1h-1zM905 500h1v3h-1zM906 498h1v2h-1zM907 495h1v3h-1zM908 492h1v3h-1zM909 491h1v1h-1zM910 491h1v1h-1zM911 491h1v1h-1zM912 491h1v1h-1zM913 490h1v1h-1zM914 491h1v1h-1zM915 492h1v2h-1zM916 494h1v1h-1zM917 495h1v1h-1zM918 496h1v1h-1zM919 497h1v1h-1zM920 498h1v1h-1zM921 499h1v1h-1zM922 500h1v2h-1zM923 502h1v1h-1zM924 503h1v2h-1zM925 505h1v2h-1zM926 507h1v3h-1zM927 510h1v3h-1zM928 513h1v2h-1zM929 515h1v2h-1zM930 517h1v2h-1zM931 519h1v2h-1zM932 521h1v2h-1zM933 523h1v1h-1zM934 523h1v1h-1zM935 522h1v1h-1zM936 522h1v1h-1zM937 522h1v1h-1zM938 522h1v1h-1zM939 522h1v1h-1zM940 522h1v1h-1zM941 522h1v1h-1zM942 521h1v1h-1zM943 520h1v1h-1zM944 520h1v1h-1zM945 518h1v2h-1zM946 516h1v2h-1zM947 515h1v1h-1zM948 513h1v2h-1zM949 511h1v2h-1zM950 509h1v2h-1zM951 507h1v2h-1zM952 505h1v2h-1zM953 504h1v1h-1zM954 505h1v1h-1zM955 505h1v1h-1zM956 506h1v1h-1zM957 507h1v1h-1zM958 507h1v1h-1zM959 506h1v1h-1zM960 506h1v1h-1zM961 506h1v2h-1zM962 508h1v1h-1zM963 509h1v1h-1zM964 510h1v2h-1zM965 512h1v1h-1zM966 513h1v2h-1zM967 515h1v2h-1zM968 517h1v2h-1zM969 519h1v1h-1zM970 520h1v2h-1zM971 522h1v1h-1zM972 523h1v2h-1zM973 525h1v2h-1zM974 527h1v1h-1zM975 528h1v2h-1zM976 530h1v2h-1zM977 532h1v1h-1zM978 533h1v1h-1zM979 533h1v1h-1zM980 533h1v1h-1zM981 534h1v1h-1zM982 533h1v1h-1zM983 532h1v1h-1zM984 532h1v1h-1zM985 531h1v1h-1zM986 529h1v2h-1zM987 528h1v1h-1zM988 527h1v1h-1zM989 524h1v3h-1zM990 522h1v2h-1zM991 519h1v3h-1zM992 517h1v2h-1zM993 514h1v3h-1zM994 511h1v3h-1zM995 509h1v2h-1zM996 506h1v3h-1zM997 504h1v2h-1zM998 502h1v2h-1zM999 500h1v2h-1zM1000 498h1v2h-1zM1001 496h1v2h-1zM1002 495h1v1h-1zM1003 493h1v2h-1zM1004 491h1v2h-1zM1005 490h1v1h-1zM1006 490h1v1h-1zM1007 489h1v1h-1zM1008 488h1v1h-1zM1009 488h1v1h-1zM1010 489h1v2h-1zM1011 491h1v2h-1zM1012 493h1v1h-1zM1013 494h1v1h-1zM1014 495h1v1h-1zM1015 496h1v1h-1zM1016 497h1v1h-1zM1017 497h1v2h-1zM1018 499h1v1h-1zM1019 500h1v2h-1zM1020 502h1v1h-1zM1021 503h1v2h-1zM1022 505h1v3h-1zM1023 508h1v2h-1zM1024 510h1v3h-1zM1025 513h1v1h-1zM1026 514h1v1h-1zM1027 515h1v1h-1zM1028 516h1v1h-1zM1029 517h1v1h-1zM1030 517h1v1h-1zM1031 517h1v1h-1zM1032 517h1v1h-1zM1033 517h1v1h-1zM1034 517h1v1h-1zM1035 517h1v1h-1zM1036 516h1v1h-1zM1037 516h1v1h-1zM1038 516h1v1h-1zM1039 517h1v1h-1zM1040 517h1v1h-1zM1041 517h1v1h-1zM1042 516h1v1h-1zM1043 515h1v1h-1zM1044 515h1v1h-1zM1045 513h1v2h-1zM1046 511h1v2h-1zM1047 509h1v2h-1zM1048 507h1v2h-1zM1049 505h1v2h-1zM1050 502h1v3h-1zM1051 499h1v3h-1zM1052 496h1v3h-1zM1053 493h1v3h-1zM1054 489h1v4h-1zM1055 486h1v3h-1zM1056 483h1v3h-1zM1057 478h1v5h-1zM1058 474h1v4h-1zM1059 470h1v4h-1zM1060 466h1v4h-1zM1061 461h1v5h-1zM1062 456h1v5h-1zM1063 452h1v4h-1zM1064 447h1v5h-1zM1065 444h1v3h-1zM1066 441h1v3h-1zM1067 438h1v3h-1zM1068 435h1v3h-1zM1069 433h1v2h-1zM1070 432h1v1h-1zM1071 431h1v1h-1zM1072 430h1v1h-1zM1073 429h1v1h-1zM1074 429h1v1h-1zM1075 430h1v1h-1zM1076 430h1v1h-1zM1077 430h1v2h-1zM1078 432h1v2h-1zM1079 434h1v2h-1zM1080 436h1v2h-1zM1081 438h1v3h-1zM1082 441h1v2h-1zM1083 443h1v3h-1zM1084 446h1v3h-1zM1085 449h1v2h-1zM1086 451h1v2h-1zM1087 453h1v2h-1zM1088 455h1v2h-1zM1089 457h1v1h-1zM1090 458h1v1h-1zM1091 459h1v1h-1zM1092 460h1v1h-1zM1093 461h1v1h-1zM1094 462h1v2h-1zM1095 464h1v2h-1zM1096 466h1v1h-1zM1097 467h1v1h-1zM1098 468h1v1h-1zM1099 469h1v1h-1zM1100 470h1v1h-1zM1101 471h1v1h-1zM1102 471h1v1h-1zM1103 471h1v1h-1zM1104 472h1v1h-1zM1105 472h1v1h-1zM1106 473h1v1h-1zM1107 474h1v1h-1zM1108 474h1v1h-1zM1109 475h1v3h-1zM1110 478h1v2h-1zM1111 480h1v3h-1zM1112 483h1v2h-1zM1113 485h1v2h-1zM1114 487h1v1h-1zM1115 488h1v2h-1zM1116 490h1v1h-1zM1117 491h1v1h-1zM1118 492h1v2h-1zM1119 494h1v1h-1zM1120 495h1v1h-1zM1121 496h1v1h-1zM1122 497h1v1h-1zM1123 497h1v1h-1zM1124 498h1v1h-1zM1125 498h1v1h-1zM1126 499h1v1h-1zM1127 500h1v1h-1zM1128 501h1v2h-1zM1129 502h1v2h-1zM1130 501h1v1h-1zM1131 500h1v1h-1zM1132 499h1v1h-1zM1133 497h1v2h-1zM1134 496h1v1h-1zM1135 495h1v1h-1zM1136 493h1v2h-1zM1137 492h1v1h-1zM1138 491h1v1h-1zM1139 489h1v2h-1zM1140 488h1v1h-1zM1141 487h1v2h-1zM1142 489h1v1h-1zM1143 490h1v1h-1zM1144 491h1v2h-1zM1145 493h1v1h-1zM1146 494h1v2h-1zM1147 496h1v1h-1zM1148 497h1v1h-1zM1149 498h1v3h-1zM1150 501h1v3h-1zM1151 504h1v3h-1zM1152 507h1v2h-1zM1153 509h1v2h-1zM1154 511h1v2h-1zM1155 513h1v2h-1zM1156 515h1v2h-1zM1157 517h1v2h-1zM1158 519h1v3h-1zM1159 522h1v2h-1zM1160 524h1v2h-1zM1161 526h1v1h-1zM1162 527h1v1h-1zM1163 528h1v2h-1zM1164 530h1v1h-1zM1165 531h1v1h-1zM1166 531h1v1h-1zM1167 530h1v1h-1zM1168 530h1v1h-1zM1169 530h1v1h-1zM1170 530h1v1h-1zM1171 529h1v1h-1zM1172 528h1v1h-1zM1173 528h1v1h-1zM1174 527h1v1h-1zM1175 527h1v1h-1zM1176 526h1v1h-1zM1177 524h1v3h-1zM1178 521h1v3h-1zM1179 518h1v3h-1zM1180 515h1v3h-1zM1181 512h1v3h-1zM1182 509h1v3h-1zM1183 507h1v2h-1zM1184 504h1v3h-1zM1185 501h1v3h-1zM1186 499h1v2h-1zM1187 497h1v2h-1zM1188 494h1v3h-1zM1189 491h1v3h-1zM1190 488h1v3h-1zM1191 485h1v3h-1zM1192 481h1v4h-1zM1193 480h1v1h-1zM1194 480h1v1h-1zM1195 479h1v1h-1zM1196 478h1v1h-1zM1197 477h1v1h-1zM1198 478h1v2h-1zM1199 480h1v1h-1zM1200 481h1v1h-1zM1201 482h1v3h-1zM1202 485h1v2h-1zM1203 487h1v3h-1zM1204 490h1v2h-1zM1205 492h1v5h-1zM1206 497h1v4h-1zM1207 501h1v4h-1zM1208 505h1v5h-1zM1209 510h1v5h-1zM1210 515h1v5h-1zM1211 520h1v5h-1zM1212 525h1v5h-1zM1213 530h1v1h-1zM1214 530h1v1h-1zM1215 531h1v1h-1zM1216 531h1v1h-1zM1217 532h1v1h-1zM1218 532h1v1h-1zM1219 531h1v1h-1zM1220 531h1v1h-1zM1221 529h1v3h-1zM1222 526h1v3h-1zM1223 523h1v3h-1zM1224 520h1v3h-1zM1225 516h1v4h-1zM1226 513h1v3h-1zM1227 509h1v4h-1zM1228 505h1v4h-1zM1229 502h1v3h-1zM1230 499h1v3h-1zM1231 495h1v4h-1zM1232 492h1v3h-1zM1233 491h1v1h-1zM1234 490h1v1h-1zM1235 490h1v1h-1zM1236 489h1v1h-1zM1237 488h1v1h-1zM1238 488h1v1h-1zM1239 489h1v1h-1zM1240 489h1v1h-1zM1241 489h1v2h-1zM1242 491h1v2h-1zM1243 493h1v1h-1zM1244 494h1v2h-1zM1245 496h1v2h-1zM1246 498h1v1h-1zM1247 499h1v1h-1zM1248 500h1v1h-1zM1249 501h1v1h-1zM1250 501h1v1h-1zM1251 502h1v1h-1zM1252 502h1v1h-1zM1253 502h1v1h-1zM1254 503h1v1h-1zM1255 504h1v1h-1zM1256 504h1v1h-1zM1257 505h1v1h-1zM1258 505h1v1h-1zM1259 506h1v1h-1zM1260 506h1v1h-1zM1261 506h1v1h-1zM1262 505h1v1h-1zM1263 505h1v1h-1zM1264 504h1v1h-1zM1265 503h1v1h-1zM1266 502h1v1h-1zM1267 502h1v1h-1zM1268 501h1v1h-1z" fill="#ffa500"/>
<path d="M4 105h1v1h-1zM5 104h1v1h-1zM6 104h1v1h-1zM7 104h1v1h-1zM8 103h1v1h-1zM9 103h1v1h-1zM10 103h1v1h-1zM11 103h1v1h-1zM12 102h1v1h-1zM13 102h1v1h-1zM14 102h1v1h-1zM15 101h1v1h-1zM16 101h1v1h-1zM17 101h1v1h-1zM18 101h1v1h-1zM19 101h1v1h-1zM20 100h1v1h-1zM21 100h1v1h-1zM22 100h1v1h-1zM23 100h1v1h-1zM24 99h1v1h-1zM25 99h1v1h-1zM26 99h1v1h-1zM27 99h1v1h-1zM28 98h1v1h-1zM29 98h1v1h-1zM30 97h1v1h-1zM31 96h1v1h-1zM32 96h1v1h-1zM33 95h1v1h-1zM34 94h1v1h-1zM35 93h1v1h-1zM36 92h1v1h-1zM37 91h1v1h-1zM38 91h1v1h-1zM39 91h1v1h-1zM40 90h1v1h-1zM41 90h1v1h-1zM42 90h1v1h-1zM43 90h1v1h-1zM44 91h1v1h-1zM45 91h1v1h-1zM46 91h1v1h-1zM47 91h1v1h-1zM48 91h1v1h-1zM49 91h1v1h-1zM50 91h1v1h-1zM51 91h1v1h-1zM52 91h1v1h-1zM53 92h1v1h-1zM54 92h1v1h-1zM55 92h1v1h-1zM56 92h1v1h-1zM57 92h1v1h-1zM58 92h1v1h-1zM59 92h1v1h-1zM60 92h1v1h-1zM61 92h1v1h-1zM62 93h1v1h-1zM63 93h1v1h-1zM64 94h1v1h-1zM65 95h1v1h-1zM66 96h1v1h-1zM67 97h1v1h-1zM68 98h1v1h-1zM69 99h1v1h-1zM70 100h1v1h-1zM71 100h1v1h-1zM72 101h1v1h-1zM73 102h1v1h-1zM74 103h1v1h-1zM75 104h1v1h-1zM76 105h1v1h-1zM77 106h1v2h-1zM78 108h1v1h-1zM79 109h1v2h-1zM80 111h1v1h-1zM81 112h1v1h-1zM82 113h1v2h-1zM83 115h1v1h-1zM84 116h1v1h-1zM85 117h1v2h-1zM86 119h1v1h-1zM87 120h1v1h-1zM88 121h1v2h-1zM89 123h1v1h-1zM90 124h1v2h-1zM91 126h1v2h-1zM92 128h1v2h-1zM93 130h1v1h-1zM94 131h1v1h-1zM95 132h1v1h-1zM96 133h1v1h-1zM97 134h1v1h-1zM98 135h1v1h-1zM99 135h1v1h-1zM100 136h1v1h-1zM101 137h1v1h-1zM102 137h1v1h-1zM103 138h1v1h-1zM104 139h1v1h-1zM105 139h1v1h-1zM106 140h1v1h-1zM107 140h1v1h-1zM108 141h1v1h-1zM109 141h1v1h-1zM110 142h1v1h-1zM111 143h1v1h-1zM112 144h1v1h-1zM113 144h1v1h-1zM114 145h1v1h-1zM115 146h1v1h-1zM116 147h1v1h-1zM117 148h1v1h-1zM118 148h1v1h-1zM119 149h1v1h-1zM120 150h1v1h-1zM121 151h1v1h-1zM122 151h1v1h-1zM123 152h1v1h-1zM124 152h1v1h-1zM125 153h1v1h-1zM126 153h1v1h-1zM127 154h1v1h-1zM128 155h1v1h-1zM129 156h1v1h-1zM130 157h1v2h-1zM131 159h1v1h-1zM132 160h1v1h-1zM133 161h1v1h-1zM134 162h1v1h-1zM135 163h1v2h-1zM136 165h1v1h-1zM137 166h1v1h-1zM138 167h1v2h-1zM139 169h1v1h-1zM140 170h1v2h-1zM141 172h1v1h-1zM142 173h1v1h-1zM143 174h1v2h-1zM144 176h1v1h-1zM145 177h1v1h-1zM146 178h1v1h-1zM147 179h1v1h-1zM148 180h1v1h-1zM149 181h1v1h-1zM150 182h1v1h-1zM151 183h1v1h-1zM152 184h1v1h-1zM153 185h1v1h-1zM154 185h1v1h-1zM155 186h1v1h-1zM156 186h1v1h-1zM157 187h1v1h-1zM158 188h1v1h-1zM159 189h1v1h-1zM160 190h1v2h-1zM161 192h1v1h-1zM162 193h1v1h-1zM163 194h1v1h-1zM164 195h1v1h-1zM165 196h1v1h-1zM166 197h1v1h-1zM167 198h1v1h-1zM168 199h1v1h-1zM169 200h1v1h-1zM170 200h1v1h-1zM171 201h1v1h-1zM172 202h1v1h-1zM173 202h1v1h-1zM174 203h1v1h-1zM175 204h1v1h-1zM176 204h1v1h-1zM177 205h1v1h-1zM178 205h1v1h-1zM179 206h1v1h-1zM180 207h1v1h-1zM181 208h1v1h-1zM182 208h1v1h-1zM183 209h1v1h-1zM184 209h1v1h-1zM185 209h1v1h-1zM186 210h1v1h-1zM187 210h1v1h-1zM188 211h1v1h-1zM189 211h1v1h-1zM190 212h1v1h-1zM191 212h1v1h-1zM192 212h1v1h-1zM193 213h1v1h-1zM194 213h1v1h-1zM195 214h1v1h-1zM196 214h1v1h-1zM197 214h1v1h-1zM198 214h1v1h-1zM199 214h1v1h-1zM200 214h1v1h-1zM201 214h1v1h-1zM202 214h1v1h-1zM203 214h1v1h-1zM204 215h1v1h-1zM205 215h1v1h-1zM206 215h1v1h-1zM207 215h1v1h-1zM208 215h1v1h-1zM209 215h1v1h-1zM210 216h1v1h-1zM211 216h1v1h-1zM212 216h1v1h-1zM213 217h1v1h-1zM214 217h1v1h-1zM215 217h1v1h-1zM216 216h1v1h-1zM217 216h1v1h-1zM218 217h1v1h-1zM219 217h1v1h-1zM220 217h1v1h-1zM221 217h1v1h-1zM222 217h1v1h-1zM223 217h1v1h-1zM224 217h1v1h-1zM225 217h1v1h-1zM226 217h1v1h-1zM227 218h1v1h-1zM228 218h1v1h-1zM229 218h1v1h-1zM230 218h1v1h-1zM231 219h1v1h-1zM232 219h1v1h-1zM233 219h1v1h-1zM234 219h1v1h-1zM235 219h1v1h-1zM236 219h1v1h-1zM237 219h1v1h-1zM238 218h1v1h-1zM239 218h1v1h-1zM240 218h1v1h-1zM241 217h1v1h-1zM242 217h1v1h-1zM243 217h1v1h-1zM244 217h1v1h-1zM245 217h1v1h-1zM246 217h1v1h-1zM247 218h1v1h-1zM248 218h1v1h-1zM249 218h1v1h-1zM250 218h1v1h-1zM251 218h1v1h-1zM252 218h1v1h-1zM253 218h1v1h-1zM254 218h1v1h-1zM255 218h1v1h-1zM256 218h1v1h-1zM257 219h1v1h-1zM258 218h1v1h-1zM259 218h1v1h-1zM260 218h1v1h-1zM261 218h1v1h-1zM262 217h1v1h-1zM263 217h1v1h-1zM264 217h1v1h-1zM265 216h1v1h-1zM266 216h1v1h-1zM267 215h1v1h-1zM268 215h1v1h-1zM269 214h1v1h-1zM270 213h1v1h-1zM271 213h1v1h-1zM272 212h1v1h-1zM273 212h1v1h-1zM274 211h1v1h-1zM275 210h1v1h-1zM276 210h1v1h-1zM277 209h1v1h-1zM278 208h1v1h-1zM279 208h1v1h-1zM280 207h1v1h-1zM281 207h1v1h-1zM282 206h1v1h-1zM283 205h1v1h-1zM284 205h1v1h-1zM285 204h1v1h-1zM286 204h1v1h-1zM287 203h1v1h-1zM288 202h1v1h-1zM289 202h1v1h-1zM290 201h1v1h-1zM291 201h1v1h-1zM292 201h1v1h-1zM293 200h1v1h-1zM294 200h1v1h-1zM295 199h1v1h-1zM296 198h1v1h-1zM297 198h1v1h-1zM298 196h1v2h-1zM299 195h1v1h-1zM300 194h1v1h-1zM301 192h1v2h-1zM302 191h1v1h-1zM303 189h1v2h-1zM304 188h1v1h-1zM305 186h1v2h-1zM306 185h1v1h-1zM307 183h1v2h-1zM308 181h1v2h-1zM309 180h1v1h-1zM310 178h1v2h-1zM311 177h1v1h-1zM312 175h1v2h-1zM313 174h1v1h-1zM314 173h1v1h-1zM315 172h1v1h-1zM316 171h1v1h-1zM317 170h1v1h-1zM318 169h1v1h-1zM319 169h1v1h-1zM320 168h1v1h-1zM321 168h1v1h-1zM322 168h1v1h-1zM323 167h1v1h-1zM324 167h1v1h-1zM325 167h1v1h-1zM326 167h1v1h-1zM327 167h1v1h-1zM328 166h1v1h-1zM329 166h1v1h-1zM330 166h1v1h-1zM331 166h1v1h-1zM332 166h1v1h-1zM333 167h1v1h-1zM334 167h1v1h-1zM335 167h1v1h-1zM336 167h1v1h-1zM337 166h1v1h-1zM338 167h1v1h-1zM339 168h1v1h-1zM340 168h1v1h-1zM341 169h1v1h-1zM342 170h1v1h-1zM343 170h1v1h-1zM344 171h1v1h-1zM345 172h1v1h-1zM346 173h1v1h-1zM347 174h1v1h-1zM348 175h1v1h-1zM349 176h1v2h-1zM350 178h1v2h-1zM351 180h1v2h-1zM352 182h1v2h-1zM353 184h1v2h-1zM354 186h1v3h-1zM355 189h1v2h-1zM356 191h1v2h-1zM357 193h1v3h-1zM358 196h1v2h-1zM359 198h1v2h-1zM360 200h1v3h-1zM361 203h1v2h-1zM362 205h1v3h-1zM363 208h1v3h-1zM364 211h1v3h-1zM365 214h1v4h-1zM366 218h1v4h-1zM367 222h1v4h-1zM368 226h1v4h-1zM369 230h1v4h-1zM370 234h1v4h-1zM371 238h1v4h-1zM372 242h1v4h-1zM373 246h1v4h-1zM374 250h1v5h-1zM375 255h1v4h-1zM376 259h1v4h-1zM377 263h1v4h-1zM378 267h1v4h-1zM379 271h1v4h-1zM380 275h1v4h-1zM381 279h1v4h-1zM382 283h1v3h-1zM383 286h1v4h-1zM384 290h1v3h-1zM385 293h1v2h-1zM386 295h1v2h-1zM387 297h1v2h-1zM388 299h1v2h-1zM389 301h1v2h-1zM390 303h1v2h-1zM391 305h1v2h-1zM392 307h1v2h-1zM393 309h1v2h-1zM394 311h1v1h-1zM395 312h1v1h-1zM396 313h1v2h-1zM397 315h1v2h-1zM398 317h1v1h-1zM399 318h1v2h-1zM400 320h1v2h-1zM401 322h1v1h-1zM402 322h1v1h-1zM403 322h1v1h-1zM404 322h1v1h-1zM405 322h1v2h-1zM406 321h1v1h-1zM407 320h1v1h-1zM408 319h1v1h-1zM409 316h1v3h-1zM410 314h1v2h-1zM411 311h1v3h-1zM412 309h1v2h-1zM413 306h1v3h-1zM414 303h1v3h-1zM415 300h1v3h-1zM416 297h1v3h-1zM417 294h1v3h-1zM418 291h1v3h-1zM419 287h1v4h-1zM420 284h1v3h-1zM421 280h1v4h-1zM422 276h1v4h-1zM423 272h1v4h-1zM424 268h1v4h-1zM425 264h1v4h-1zM426 260h1v4h-1zM427 256h1v4h-1zM428 252h1v4h-1zM429 248h1v4h-1zM430 244h1v4h-1zM431 239h1v5h-1zM432 235h1v4h-1zM433 232h1v3h-1zM434 229h1v3h-1zM435 227h1v2h-1zM436 224h1v3h-1zM437 222h1v2h-1zM438 221h1v1h-1zM439 219h1v2h-1zM440 218h1v1h-1zM441 217h1v1h-1zM442 217h1v1h-1zM443 217h1v1h-1zM444 217h1v1h-1zM445 217h1v1h-1zM446 216h1v1h-1zM447 216h1v1h-1zM448 215h1v1h-1zM449 214h1v1h-1zM450 214h1v1h-1zM451 213h1v1h-1zM452 212h1v1h-1zM453 211h1v2h-1zM454 209h1v2h-1zM455 207h1v2h-1zM456 205h1v2h-1zM457 204h1v1h-1zM458 204h1v1h-1zM459 203h1v1h-1zM460 202h1v1h-1zM461 202h1v1h-1zM462 201h1v1h-1zM463 201h1v1h-1zM464 200h1v1h-1zM465 200h1v1h-1zM466 201h1v1h-1zM467 201h1v1h-1zM468 202h1v1h-1zM469 203h1v1h-1zM470 204h1v1h-1zM471 205h1v1h-1zM472 206h1v1h-1zM473 206h1v2h-1zM474 208h1v2h-1zM475 210h1v1h-1zM476 211h1v2h-1zM477 213h1v1h-1zM478 214h1v1h-1zM479 215h1v1h-1zM480 216h1v1h-1zM481 217h1v1h-1zM482 218h1v2h-1zM483 220h1v1h-1zM484 221h1v2h-1zM485 223h1v1h-1zM486 224h1v1h-1zM487 225h1v1h-1zM488 226h1v1h-1zM489 227h1v1h-1zM490 227h1v1h-1zM491 227h1v1h-1zM492 227h1v1h-1zM493 227h1v1h-1zM494 226h1v1h-1zM495 225h1v1h-1zM496 224h1v1h-1zM497 223h1v1h-1zM498 222h1v1h-1zM499 221h1v1h-1zM500 221h1v1h-1zM501 220h1v1h-1zM502 220h1v1h-1zM503 219h1v1h-1zM504 219h1v1h-1zM505 219h1v1h-1zM506 218h1v1h-1zM507 217h1v1h-1zM508 217h1v1h-1zM509 216h1v1h-1zM510 216h1v1h-1zM511 217h1v1h-1zM512 217h1v1h-1zM513 217h1v1h-1zM514 217h1v1h-1zM515 218h1v1h-1zM516 218h1v1h-1zM517 219h1v1h-1zM518 220h1v1h-1zM519 220h1v1h-1zM520 221h1v1h-1zM521 222h1v1h-1zM522 223h1v1h-1zM523 223h1v1h-1zM524 224h1v1h-1zM525 225h1v1h-1zM526 225h1v1h-1zM527 226h1v1h-1zM528 226h1v1h-1zM529 227h1v1h-1zM530 226h1v1h-1zM531 226h1v1h-1zM532 226h1v1h-1zM533 226h1v1h-1zM534 225h1v1h-1zM535 225h1v1h-1zM536 225h1v1h-1zM537 224h1v1h-1zM538 224h1v1h-1zM539 223h1v1h-1zM540 222h1v1h-1zM541 221h1v1h-1zM542 220h1v1h-1zM543 219h1v1h-1zM544 218h1v1h-1zM545 217h1v1h-1zM546 217h1v1h-1zM547 216h1v1h-1zM548 215h1v1h-1zM549 214h1v1h-1zM550 214h1v1h-1zM551 213h1v1h-1zM552 212h1v1h-1zM553 212h1v1h-1zM554 211h1v1h-1zM555 211h1v1h-1zM556 210h1v1h-1zM557 209h1v1h-1zM558 210h1v1h-1zM559 210h1v1h-1zM560 211h1v1h-1zM561 211h1v1h-1zM562 212h1v1h-1zM563 212h1v1h-1zM564 213h1v1h-1zM565 214h1v1h-1zM566 214h1v1h-1zM567 214h1v1h-1zM568 214h1v1h-1zM569 214h1v1h-1zM570 214h1v1h-1zM571 213h1v1h-1zM572 213h1v1h-1zM573 213h1v1h-1zM574 212h1v1h-1zM575 211h1v1h-1zM576 211h1v1h-1zM577 210h1v1h-1zM578 210h1v1h-1zM579 209h1v1h-1zM580 209h1v1h-1zM581 208h1v1h-1zM582 208h1v1h-1zM583 208h1v1h-1zM584 208h1v1h-1zM585 208h1v1h-1zM586 209h1v1h-1zM587 209h1v1h-1zM588 209h1v1h-1zM589 209h1v1h-1zM590 209h1v1h-1zM591 210h1v1h-1zM592 210h1v1h-1zM593 210h1v1h-1zM594 211h1v1h-1zM595 212h1v1h-1zM596 212h1v1h-1zM597 213h1v1h-1zM598 213h1v1h-1zM599 214h1v1h-1zM600 214h1v1h-1zM601 215h1v1h-1zM602 215h1v1h-1zM603 215h1v1h-1zM604 215h1v1h-1zM605 215h1v1h-1zM606 216h1v1h-1zM607 216h1v1h-1zM608 216h1v1h-1zM609 216h1v1h-1zM610 216h1v1h-1zM611 215h1v1h-1zM612 215h1v1h-1zM613 214h1v1h-1zM614 214h1v1h-1zM615 213h1v1h-1zM616 212h1v1h-1zM617 211h1v1h-1zM618 210h1v1h-1zM619 209h1v1h-1zM620 208h1v1h-1zM621 207h1v1h-1zM622 207h1v1h-1zM623 207h1v1h-1zM624 207h1v1h-1zM625 207h1v1h-1zM626 207h1v1h-1zM627 207h1v1h-1zM628 207h1v1h-1zM629 208h1v1h-1zM630 208h1v1h-1zM631 208h1v1h-1zM632 208h1v1h-1zM633 208h1v1h-1zM634 209h1v1h-1zM635 209h1v1h-1zM636 209h1v1h-1zM637 209h1v1h-1zM638 209h1v1h-1zM639 209h1v1h-1zM640 209h1v1h-1zM641 209h1v1h-1zM642 209h1v1h-1zM643 210h1v1h-1zM644 210h1v1h-1zM645 210h1v1h-1zM646 211h1v1h-1zM647 211h1v1h-1zM648 211h1v1h-1zM649 211h1v1h-1zM650 211h1v1h-1zM651 212h1v1h-1zM652 212h1v1h-1zM653 212h1v1h-1zM654 213h1v1h-1zM655 214h1v1h-1zM656 215h1v1h-1zM657 215h1v1h-1zM658 216h1v1h-1zM659 217h1v1h-1zM660 218h1v1h-1zM661 219h1v1h-1zM662 220h1v1h-1zM663 221h1v1h-1zM664 222h1v1h-1zM665 223h1v1h-1zM666 224h1v1h-1zM667 225h1v1h-1zM668 226h1v1h-1zM669 227h1v1h-1zM670 228h1v1h-1zM671 228h1v1h-1zM672 229h1v1h-1zM673 230h1v1h-1zM674 231h1v2h-1zM675 233h1v1h-1zM676 234h1v1h-1zM677 235h1v1h-1zM678 236h1v1h-1zM679 236h1v1h-1zM680 236h1v1h-1zM681 236h1v1h-1zM682 237h1v1h-1zM683 238h1v1h-1zM684 239h1v1h-1zM685 240h1v1h-1zM686 241h1v1h-1zM687 242h1v2h-1zM688 244h1v1h-1zM689 245h1v2h-1zM690 247h1v2h-1zM691 249h1v2h-1zM692 251h1v2h-1zM693 253h1v2h-1zM694 255h1v3h-1zM695 258h1v2h-1zM696 260h1v2h-1zM697 262h1v3h-1zM698 265h1v2h-1zM699 267h1v3h-1zM700 270h1v2h-1zM701 272h1v2h-1zM702 274h1v2h-1zM703 276h1v1h-1zM704 277h1v2h-1zM705 279h1v1h-1zM706 280h1v1h-1zM707 281h1v1h-1zM708 281h1v1h-1zM709 282h1v1h-1zM710 283h1v1h-1zM711 284h1v1h-1zM712 285h1v1h-1zM713 286h1v1h-1zM714 287h1v2h-1zM715 289h1v1h-1zM716 290h1v1h-1zM717 291h1v1h-1zM718 292h1v1h-1zM719 292h1v1h-1zM720 293h1v1h-1zM721 294h1v1h-1zM722 295h1v1h-1zM723 296h1v1h-1zM724 297h1v1h-1zM725 298h1v1h-1zM726 299h1v1h-1zM727 300h1v1h-1zM728 301h1v1h-1zM729 302h1v1h-1zM730 302h1v1h-1zM731 302h1v1h-1zM732 303h1v1h-1zM733 303h1v2h-1zM734 305h1v1h-1zM735 306h1v1h-1zM736 307h1v2h-1zM737 309h1v1h-1zM738 310h1v2h-1zM739 312h1v1h-1zM740 313h1v2h-1zM741 315h1v1h-1zM742 316h1v1h-1zM743 317h1v1h-1zM744 318h1v1h-1zM745 319h1v1h-1zM746 319h1v1h-1zM747 319h1v1h-1zM748 319h1v1h-1zM749 319h1v1h-1zM750 318h1v1h-1zM751 318h1v1h-1zM752 318h1v1h-1zM753 318h1v1h-1zM754 317h1v1h-1zM755 316h1v1h-1zM756 315h1v1h-1zM757 314h1v1h-1zM758 315h1v1h-1zM759 315h1v1h-1zM760 315h1v1h-1zM761 315h1v1h-1zM762 315h1v1h-1zM763 316h1v1h-1zM764 317h1v1h-1zM765 318h1v1h-1zM766 318h1v1h-1zM767 318h1v1h-1zM768 319h1v1h-1zM769 319h1v1h-1zM770 320h1v1h-1zM771 320h1v1h-1zM772 320h1v1h-1zM773 321h1v1h-1zM774 321h1v1h-1zM775 322h1v1h-1zM776 322h1v1h-1zM777 323h1v1h-1zM778 323h1v1h-1zM779 324h1v1h-1zM780 324h1v1h-1zM781 325h1v1h-1zM782 326h1v1h-1zM783 327h1v1h-1zM784 328h1v1h-1zM785 328h1v1h-1zM786 329h1v1h-1zM787 330h1v1h-1zM788 331h1v1h-1zM789 332h1v1h-1zM790 333h1v1h-1zM791 334h1v1h-1zM792 335h1v1h-1zM793 335h1v1h-1zM794 336h1v1h-1zM795 336h1v1h-1zM796 337h1v1h-1zM797 337h1v1h-1zM798 338h1v1h-1zM799 338h1v1h-1zM800 339h1v1h-1zM801 340h1v1h-1zM802 340h1v1h-1zM803 341h1v1h-1zM804 342h1v1h-1zM805 342h1v1h-1zM806 343h1v1h-1zM807 343h1v1h-1zM808 344h1v1h-1zM809 345h1v1h-1zM810 345h1v1h-1zM811 346h1v1h-1zM812 347h1v1h-1zM813 348h1v1h-1zM814 348h1v1h-1zM815 349h1v1h-1zM816 349h1v1h-1zM817 350h1v1h-1zM818 350h1v1h-1zM819 351h1v1h-1zM820 351h1v1h-1zM821 351h1v1h-1zM822 352h1v1h-1zM823 352h1v1h-1zM824 353h1v1h-1zM825 353h1v1h-1zM826 354h1v1h-1zM827 355h1v1h-1zM828 355h1v1h-1zM829 356h1v1h-1zM830 357h1v1h-1zM831 357h1v1h-1zM832 358h1v1h-1zM833 358h1v1h-1zM834 359h1v1h-1zM835 360h1v1h-1zM836 361h1v1h-1zM837 362h1v1h-1zM838 363h1v1h-1zM839 364h1v2h-1zM840 366h1v1h-1zM841 367h1v1h-1zM842 368h1v2h-1zM843 370h1v1h-1zM844 371h1v1h-1zM845 372h1v2h-1zM846 374h1v1h-1zM847 375h1v2h-1zM848 377h1v1h-1zM849 378h1v2h-1zM850 380h1v1h-1zM851 381h1v2h-1zM852 383h1v1h-1zM853 384h1v2h-1zM854 386h1v2h-1zM855 388h1v1h-1zM856 389h1v2h-1zM857 391h1v2h-1zM858 393h1v2h-1zM859 395h1v2h-1zM860 397h1v3h-1zM861 400h1v2h-1zM862 402h1v2h-1zM863 404h1v3h-1zM864 407h1v2h-1zM865 409h1v2h-1zM866 411h1v3h-1zM867 414h1v2h-1zM868 416h1v2h-1zM869 418h1v3h-1zM870 421h1v3h-1zM871 424h1v3h-1zM872 427h1v3h-1zM873 430h1v3h-1zM874 433h1v2h-1zM875 435h1v3h-1zM876 438h1v2h-1zM877 440h1v2h-1zM878 442h1v2h-1zM879 444h1v2h-1zM880 446h1v1h-1zM881 447h1v2h-1zM882 449h1v2h-1zM883 451h1v2h-1zM884 453h1v3h-1zM885 456h1v2h-1zM886 458h1v3h-1zM887 461h1v3h-1zM888 464h1v3h-1zM889 467h1v2h-1zM890 469h1v3h-1zM891 472h1v2h-1zM892 474h1v2h-1zM893 476h1v1h-1zM894 477h1v1h-1zM895 478h1v2h-1zM896 480h1v1h-1zM897 481h1v1h-1zM898 482h1v1h-1zM899 483h1v1h-1zM900 484h1v1h-1zM901 485h1v1h-1zM902 486h1v1h-1zM903 486h1v1h-1zM904 487h1v1h-1zM905 488h1v1h-1zM906 488h1v1h-1zM907 489h1v1h-1zM908 489h1v1h-1zM909 490h1v1h-1zM910 491h1v1h-1zM911 491h1v1h-1zM912 492h1v1h-1zM913 493h1v1h-1zM914 494h1v1h-1zM915 494h1v1h-1zM916 495h1v1h-1zM917 496h1v1h-1zM918 496h1v1h-1zM919 497h1v1h-1zM920 497h1v1h-1zM921 497h1v1h-1zM922 498h1v1h-1zM923 498h1v1h-1zM924 498h1v1h-1zM925 498h1v1h-1zM926 499h1v1h-1zM927 499h1v1h-1zM928 500h1v1h-1zM929 500h1v1h-1zM930 501h1v1h-1zM931 502h1v1h-1zM932 503h1v1h-1zM933 504h1v1h-1zM934 505h1v1h-1zM935 506h1v1h-1zM936 506h1v1h-1zM937 507h1v1h-1zM938 508h1v1h-1zM939 508h1v1h-1zM940 509h1v1h-1zM941 509h1v1h-1zM942 509h1v1h-1zM943 508h1v1h-1zM944 507h1v1h-1zM945 507h1v1h-1zM946 507h1v1h-1zM947 506h1v1h-1zM948 506h1v1h-1zM949 506h1v1h-1zM950 506h1v1h-1zM951 506h1v1h-1zM952 507h1v1h-1zM953 507h1v1h-1zM954 507h1v1h-1zM955 508h1v1h-1zM956 508h1v1h-1zM957 509h1v1h-1zM958 509h1v1h-1zM959 510h1v1h-1zM960 510h1v1h-1zM961 511h1v1h-1zM962 512h1v1h-1zM963 512h1v1h-1zM964 513h1v1h-1zM965 514h1v1h-1zM966 515h1v1h-1zM967 515h1v1h-1zM968 516h1v1h-1zM969 516h1v1h-1zM970 516h1v1h-1zM971 517h1v1h-1zM972 517h1v1h-1zM973 518h1v1h-1zM974 518h1v1h-1zM975 519h1v1h-1zM976 520h1v1h-1zM977 521h1v1h-1zM978 521h1v1h-1zM979 521h1v1h-1zM980 521h1v1h-1zM981 521h1v1h-1zM982 521h1v1h-1zM983 520h1v1h-1zM984 520h1v1h-1zM985 520h1v1h-1zM986 519h1v1h-1zM987 518h1v1h-1zM988 518h1v1h-1zM989 517h1v1h-1zM990 517h1v1h-1zM991 516h1v1h-1zM992 516h1v1h-1zM993 516h1v1h-1zM994 515h1v1h-1zM995 515h1v1h-1zM996 515h1v1h-1zM997 514h1v1h-1zM998 514h1v1h-1zM999 514h1v1h-1zM1000 514h1v1h-1zM1001 514h1v1h-1zM1002 513h1v1h-1zM1003 513h1v1h-1zM1004 512h1v1h-1zM1005 512h1v1h-1zM1006 512h1v1h-1zM1007 511h1v1h-1zM1008 511h1v1h-1zM1009 511h1v1h-1zM1010 511h1v1h-1zM1011 511h1v1h-1zM1012 511h1v1h-1zM1013 511h1v1h-1zM1014 511h1v1h-1zM1015 511h1v1h-1zM1016 511h1v1h-1zM1017 511h1v1h-1zM1018 511h1v1h-1zM1019 511h1v1h-1zM1020 511h1v1h-1zM1021 510h1v1h-1zM1022 510h1v1h-1zM1023 510h1v1h-1zM1024 510h1v1h-1zM1025 510h1v1h-1zM1026 509h1v1h-1zM1027 509h1v1h-1zM1028 509h1v1h-1zM1029 508h1v1h-1zM1030 508h1v1h-1zM1031 507h1v1h-1zM1032 506h1v1h-1zM1033 506h1v1h-1zM1034 506h1v1h-1zM1035 505h1v1h-1zM1036 505h1v1h-1zM1037 505h1v1h-1zM1038 505h1v1h-1zM1039 505h1v1h-1zM1040 505h1v1h-1zM1041 505h1v1h-1zM1042 505h1v1h-1zM1043 505h1v1h-1zM1044 505h1v1h-1zM1045 506h1v1h-1zM1046 505h1v1h-1zM1047 505h1v1h-1zM1048 505h1v1h-1zM1049 505h1v1h-1zM1050 504h1v1h-1zM1051 504h1v1h-1zM1052 503h1v1h-1zM1053 502h1v1h-1zM1054 502h1v1h-1zM1055 501h1v1h-1zM1056 500h1v1h-1zM1057 500h1v1h-1zM1058 499h1v1h-1zM1059 498h1v1h-1zM1060 497h1v1h-1zM1061 496h1v1h-1zM1062 494h1v2h-1zM1063 493h1v1h-1zM1064 492h1v1h-1zM1065 490h1v2h-1zM1066 488h1v2h-1zM1067 486h1v2h-1zM1068 484h1v2h-1zM1069 483h1v1h-1zM1070 482h1v1h-1zM1071 480h1v2h-1zM1072 479h1v1h-1zM1073 478h1v1h-1zM1074 477h1v1h-1zM1075 476h1v1h-1zM1076 475h1v1h-1zM1077 474h1v1h-1zM1078 473h1v1h-1zM1079 471h1v2h-1zM1080 470h1v1h-1zM1081 469h1v1h-1zM1082 469h1v1h-1zM1083 468h1v1h-1zM1084 467h1v1h-1zM1085 466h1v1h-1zM1086 465h1v1h-1zM1087 464h1v1h-1zM1088 463h1v1h-1zM1089 462h1v1h-1zM1090 461h1v1h-1zM1091 460h1v1h-1zM1092 459h1v1h-1zM1093 458h1v1h-1zM1094 457h1v1h-1zM1095 457h1v1h-1zM1096 456h1v1h-1zM1097 456h1v1h-1zM1098 455h1v1h-1zM1099 455h1v1h-1zM1100 455h1v1h-1zM1101 454h1v1h-1zM1102 454h1v1h-1zM1103 454h1v1h-1zM1104 454h1v1h-1zM1105 454h1v1h-1zM1106 454h1v1h-1zM1107 454h1v1h-1zM1108 455h1v1h-1zM1109 455h1v1h-1zM1110 456h1v1h-1zM1111 457h1v1h-1zM1112 458h1v1h-1zM1113 459h1v2h-1zM1114 461h1v1h-1zM1115 462h1v2h-1zM1116 464h1v1h-1zM1117 465h1v2h-1zM1118 467h1v2h-1zM1119 469h1v1h-1zM1120 470h1v2h-1zM1121 472h1v1h-1zM1122 473h1v1h-1zM1123 474h1v2h-1zM1124 476h1v1h-1zM1125 477h1v1h-1zM1126 478h1v1h-1zM1127 479h1v1h-1zM1128 480h1v1h-1zM1129 481h1v1h-1zM1130 482h1v1h-1zM1131 482h1v1h-1zM1132 483h1v1h-1zM1133 483h1v1h-1zM1134 484h1v1h-1zM1135 484h1v1h-1zM1136 484h1v1h-1zM1137 485h1v1h-1zM1138 485h1v1h-1zM1139 485h1v1h-1zM1140 485h1v1h-1zM1141 486h1v1h-1zM1142 487h1v1h-1zM1143 488h1v1h-1zM1144 489h1v1h-1zM1145 490h1v1h-1zM1146 491h1v1h-1zM1147 492h1v1h-1zM1148 493h1v1h-1zM1149 494h1v2h-1zM1150 496h1v1h-1zM1151 496h1v2h-1zM1152 498h1v1h-1zM1153 498h1v1h-1zM1154 499h1v1h-1zM1155 500h1v1h-1zM1156 500h1v1h-1zM1157 501h1v1h-1zM1158 502h1v1h-1zM1159 503h1v1h-1zM1160 504h1v1h-1zM1161 505h1v1h-1zM1162 506h1v1h-1zM1163 507h1v1h-1zM1164 508h1v2h-1zM1165 510h1v1h-1zM1166 510h1v1h-1zM1167 510h1v1h-1zM1168 510h1v1h-1zM1169 511h1v1h-1zM1170 511h1v1h-1zM1171 511h1v1h-1zM1172 511h1v1h-1zM1173 512h1v1h-1zM1174 512h1v1h-1zM1175 512h1v1h-1zM1176 512h1v1h-1zM1177 512h1v1h-1zM1178 512h1v1h-1zM1179 511h1v1h-1zM1180 511h1v1h-1zM1181 511h1v1h-1zM1182 511h1v1h-1zM1183 510h1v1h-1zM1184 510h1v1h-1zM1185 510h1v1h-1zM1186 509h1v1h-1zM1187 509h1v1h-1zM1188 509h1v1h-1zM1189 509h1v1h-1zM1190 509h1v1h-1zM1191 508h1v1h-1zM1192 508h1v1h-1zM1193 507h1v1h-1zM1194 508h1v1h-1zM1195 508h1v1h-1zM1196 508h1v1h-1zM1197 508h1v1h-1zM1198 508h1v1h-1zM1199 508h1v1h-1zM1200 507h1v1h-1zM1201 507h1v1h-1zM1202 507h1v1h-1zM1203 507h1v1h-1zM1204 507h1v1h-1zM1205 507h1v1h-1zM1206 508h1v1h-1zM1207 508h1v1h-1zM1208 509h1v1h-1zM1209 509h1v1h-1zM1210 510h1v1h-1zM1211 511h1v1h-1zM1212 511h1v1h-1zM1213 512h1v1h-1zM1214 512h1v1h-1zM1215 511h1v1h-1zM1216 511h1v1h-1zM1217 510h1v1h-1zM1218 509h1v1h-1zM1219 509h1v1h-1zM1220 508h1v1h-1zM1221 507h1v1h-1zM1222 506h1v1h-1zM1223 505h1v1h-1zM1224 504h1v1h-1zM1225 503h1v1h-1zM1226 503h1v1h-1zM1227 502h1v1h-1zM1228 501h1v1h-1zM1229 501h1v1h-1zM1230 500h1v1h-1zM1231 500h1v1h-1zM1232 500h1v1h-1zM1233 499h1v1h-1zM1234 500h1v1h-1zM1235 500h1v1h-1zM1236 500h1v1h-1zM1237 501h1v1h-1zM1238 501h1v1h-1zM1239 502h1v1h-1zM1240 502h1v1h-1zM1241 502h1v1h-1zM1242 503h1v1h-1zM1243 503h1v1h-1zM1244 504h1v1h-1zM1245 504h1v1h-1zM1246 505h1v1h-1zM1247 506h1v1h-1zM1248 507h1v1h-1zM1249 508h1v1h-1zM1250 508h1v1h-1zM1251 508h1v1h-1zM1252 508h1v1h-1zM1253 508h1v1h-1zM1254 509h1v1h-1zM1255 509h1v1h-1zM1256 509h1v1h-1zM1257 509h1v1h-1zM1258 509h1v1h-1zM1259 508h1v1h-1zM1260 508h1v1h-1zM1261 507h1v1h-1zM1262 506h1v1h-1zM1263 504h1v2h-1zM1264 503h1v1h-1zM1265 502h1v1h-1zM1266 501h1v1h-1zM1267 500h1v1h-1zM1268 499h1v1h-1z" fill="#ff0000"/>
<path d="M4 111h1v2h-1zM5 110h1v1h-1zM6 110h1v1h-1zM7 109h1v1h-1zM8 108h1v1h-1zM9 107h1v1h-1zM10 107h1v1h-1zM11 107h1v1h-1zM12 106h1v1h-1zM13 106h1v1h-1zM14 105h1v1h-1zM15 105h1v1h-1zM16 104h1v1h-1zM17 104h1v1h-1zM18 103h1v1h-1zM19 103h1v1h-1zM20 103h1v1h-1zM21 102h1v1h-1zM22 102h1v1h-1zM23 102h1v1h-1zM24 102h1v1h-1zM25 101h1v1h-1zM26 101h1v1h-1zM27 101h1v1h-1zM28 101h1v1h-1zM29 101h1v1h-1zM30 101h1v1h-1zM31 101h1v1h-1zM32 100h1v1h-1zM33 100h1v1h-1zM34 100h1v1h-1zM35 100h1v1h-1zM36 100h1v1h-1zM37 100h1v1h-1zM38 100h1v1h-1zM39 100h1v1h-1zM40 100h1v1h-1zM41 100h1v1h-1zM42 100h1v1h-1zM43 100h1v1h-1zM44 100h1v1h-1zM45 101h1v1h-1zM46 101h1v1h-1zM47 101h1v1h-1zM48 101h1v1h-1zM49 101h1v1h-1zM50 101h1v1h-1zM51 101h1v1h-1zM52 101h1v1h-1zM53 101h1v1h-1zM54 101h1v1h-1zM55 101h1v1h-1zM56 101h1v1h-1zM57 101h1v1h-1zM58 100h1v1h-1zM59 100h1v1h-1zM60 100h1v1h-1zM61 100h1v1h-1zM62 100h1v1h-1zM63 100h1v1h-1zM64 100h1v1h-1zM65 100h1v1h-1zM66 100h1v1h-1zM67 100h1v1h-1zM68 100h1v1h-1zM69 100h1v1h-1zM70 101h1v1h-1zM71 101h1v1h-1zM72 102h1v1h-1zM73 102h1v1h-1zM74 103h1v1h-1zM75 103h1v1h-1zM76 104h1v1h-1zM77 104h1v1h-1zM78 105h1v1h-1zM79 105h1v1h-1zM80 106h1v1h-1zM81 106h1v1h-1zM82 107h1v1h-1zM83 107h1v1h-1zM84 108h1v1h-1zM85 108h1v1h-1zM86 109h1v1h-1zM87 109h1v1h-1zM88 110h1v1h-1zM89 110h1v1h-1zM90 111h1v1h-1zM91 111h1v1h-1zM92 112h1v1h-1zM93 112h1v1h-1zM94 112h1v1h-1zM95 113h1v1h-1zM96 113h1v1h-1zM97 114h1v1h-1zM98 114h1v1h-1zM99 114h1v1h-1zM100 115h1v1h-1zM101 115h1v1h-1zM102 115h1v1h-1zM103 116h1v1h-1zM104 116h1v1h-1zM105 116h1v1h-1zM106 117h1v1h-1zM107 117h1v1h-1zM108 117h1v1h-1zM109 118h1v1h-1zM110 118h1v1h-1zM111 118h1v1h-1zM112 118h1v1h-1zM113 119h1v1h-1zM114 119h1v1h-1zM115 119h1v1h-1zM116 119h1v1h-1zM117 120h1v1h-1zM118 120h1v1h-1zM119 120h1v1h-1zM120 121h1v1h-1zM121 121h1v1h-1zM122 122h1v1h-1zM123 122h1v1h-1zM124 122h1v1h-1zM125 123h1v1h-1zM126 123h1v1h-1zM127 124h1v1h-1zM128 125h1v1h-1zM129 126h1v1h-1zM130 127h1v1h-1zM131 128h1v1h-1zM132 129h1v1h-1zM133 130h1v1h-1zM134 131h1v1h-1zM135 132h1v1h-1zM136 133h1v1h-1zM137 134h1v2h-1zM138 136h1v1h-1zM139 137h1v1h-1zM140 138h1v1h-1zM141 139h1v2h-1zM142 141h1v1h-1zM143 142h1v1h-1zM144 143h1v2h-1zM145 145h1v1h-1zM146 146h1v1h-1zM147 147h1v1h-1zM148 148h1v2h-1zM149 150h1v1h-1zM150 151h1v1h-1zM151 152h1v1h-1zM152 153h1v1h-1zM153 154h1v1h-1zM154 155h1v2h-1zM155 157h1v1h-1zM156 158h1v1h-1zM157 159h1v1h-1zM158 160h1v1h-1zM159 161h1v1h-1zM160 162h1v1h-1zM161 163h1v1h-1zM162 163h1v1h-1zM163 164h1v1h-1zM164 165h1v1h-1zM165 165h1v1h-1zM166 166h1v1h-1zM167 167h1v1h-1zM168 168h1v1h-1zM169 168h1v1h-1zM170 169h1v1h-1zM171 170h1v1h-1zM172 170h1v1h-1zM173 171h1v1h-1zM174 172h1v1h-1zM175 172h1v1h-1zM176 173h1v1h-1zM177 174h1v1h-1zM178 174h1v1h-1zM179 175h1v1h-1zM180 176h1v1h-1zM181 177h1v1h-1zM182 177h1v1h-1zM183 178h1v1h-1zM184 179h1v1h-1zM185 180h1v1h-1zM186 180h1v1h-1zM187 181h1v1h-1zM188 182h1v1h-1zM189 182h1v1h-1zM190 183h1v1h-1zM191 184h1v1h-1zM192 185h1v1h-1zM193 186h1v1h-1zM194 187h1v1h-1zM195 188h1v1h-1zM196 189h1v1h-1zM197 190h1v1h-1zM198 190h1v1h-1zM199 191h1v1h-1zM200 192h1v1h-1zM201 192h1v1h-1zM202 193h1v1h-1zM203 194h1v1h-1zM204 194h1v1h-1zM205 195h1v1h-1zM206 196h1v1h-1zM207 196h1v1h-1zM208 197h1v1h-1zM209 197h1v1h-1zM210 198h1v1h-1zM211 198h1v1h-1zM212 199h1v1h-1zM213 199h1v1h-1zM214 200h1v1h-1zM215 200h1v1h-1zM216 201h1v1h-1zM217 201h1v1h-1zM218 202h1v1h-1zM219 202h1v1h-1zM220 202h1v1h-1zM221 203h1v1h-1zM222 203h1v1h-1zM223 204h1v1h-1zM224 204h1v1h-1zM225 205h1v1h-1zM226 205h1v1h-1zM227 206h1v1h-1zM228 206h1v1h-1zM229 207h1v1h-1zM230 207h1v1h-1zM231 208h1v1h-1zM232 208h1v1h-1zM233 209h1v1h-1zM234 209h1v1h-1zM235 209h1v1h-1zM236 210h1v1h-1zM237 210h1v1h-1zM238 210h1v1h-1zM239 210h1v1h-1zM240 210h1v1h-1zM241 211h1v1h-1zM242 211h1v1h-1zM243 212h1v1h-1zM244 212h1v1h-1zM245 213h1v1h-1zM246 213h1v1h-1zM247 214h1v1h-1zM248 214h1v1h-1zM249 215h1v1h-1zM250 215h1v1h-1zM251 215h1v1h-1zM252 216h1v1h-1zM253 216h1v1h-1zM254 216h1v1h-1zM255 217h1v1h-1zM256 217h1v1h-1zM257 217h1v1h-1zM258 217h1v1h-1zM259 217h1v1h-1zM260 217h1v1h-1zM261 217h1v1h-1zM262 216h1v1h-1zM263 216h1v1h-1zM264 216h1v1h-1zM265 216h1v1h-1zM266 215h1v1h-1zM267 215h1v1h-1zM268 215h1v1h-1zM269 215h1v1h-1zM270 215h1v1h-1zM271 214h1v1h-1zM272 214h1v1h-1zM273 214h1v1h-1zM274 214h1v1h-1zM275 213h1v1h-1zM276 213h1v1h-1zM277 213h1v1h-1zM278 213h1v1h-1zM279 212h1v1h-1zM280 212h1v1h-1zM281 212h1v1h-1zM282 211h1v1h-1zM283 211h1v1h-1zM284 211h1v1h-1zM285 211h1v1h-1zM286 210h1v1h-1zM287 210h1v1h-1zM288 210h1v1h-1zM289 210h1v1h-1zM290 209h1v1h-1zM291 209h1v1h-1zM292 209h1v1h-1zM293 209h1v1h-1zM294 208h1v1h-1zM295 208h1v1h-1zM296 208h1v1h-1zM297 207h1v1h-1zM298 207h1v1h-1zM299 207h1v1h-1zM300 206h1v1h-1zM301 206h1v1h-1zM302 205h1v1h-1zM303 205h1v1h-1zM304 205h1v1h-1zM305 204h1v1h-1zM306 204h1v1h-1zM307 203h1v1h-1zM308 202h1v1h-1zM309 202h1v1h-1zM310 201h1v1h-1zM311 200h1v1h-1zM312 200h1v1h-1zM313 199h1v1h-1zM314 198h1v1h-1zM315 197h1v1h-1zM316 197h1v1h-1zM317 196h1v1h-1zM318 195h1v1h-1zM319 195h1v1h-1zM320 195h1v1h-1zM321 194h1v1h-1zM322 194h1v1h-1zM323 193h1v1h-1zM324 193h1v1h-1zM325 192h1v1h-1zM326 192h1v1h-1zM327 192h1v1h-1zM328 191h1v1h-1zM329 191h1v1h-1zM330 191h1v1h-1zM331 190h1v1h-1zM332 190h1v1h-1zM333 190h1v1h-1zM334 189h1v1h-1zM335 189h1v1h-1zM336 189h1v1h-1zM337 188h1v1h-1zM338 188h1v1h-1zM339 188h1v1h-1zM340 188h1v1h-1zM341 188h1v1h-1zM342 188h1v1h-1zM343 188h1v1h-1zM344 188h1v1h-1zM345 189h1v1h-1zM346 189h1v1h-1zM347 189h1v1h-1zM348 189h1v1h-1zM349 189h1v1h-1zM350 190h1v1h-1zM351 190h1v1h-1zM352 191h1v1h-1zM353 191h1v1h-1zM354 192h1v1h-1zM355 193h1v1h-1zM356 193h1v1h-1zM357 194h1v1h-1zM358 195h1v1h-1zM359 196h1v1h-1zM360 196h1v1h-1zM361 197h1v1h-1zM362 198h1v1h-1zM363 199h1v1h-1zM364 199h1v1h-1zM365 200h1v1h-1zM366 201h1v1h-1zM367 202h1v1h-1zM368 203h1v2h-1zM369 205h1v1h-1zM370 206h1v1h-1zM371 207h1v1h-1zM372 208h1v1h-1zM373 209h1v1h-1zM374 210h1v2h-1zM375 212h1v1h-1zM376 213h1v2h-1zM377 215h1v1h-1zM378 216h1v2h-1zM379 218h1v1h-1zM380 219h1v2h-1zM381 221h1v1h-1zM382 222h1v2h-1zM383 224h1v1h-1zM384 225h1v2h-1zM385 227h1v1h-1zM386 228h1v1h-1zM387 228h1v1h-1zM388 229h1v1h-1zM389 230h1v1h-1zM390 231h1v1h-1zM391 232h1v1h-1zM392 233h1v1h-1zM393 234h1v1h-1zM394 235h1v1h-1zM395 236h1v1h-1zM396 237h1v1h-1zM397 238h1v1h-1zM398 239h1v1h-1zM399 240h1v1h-1zM400 241h1v2h-1zM401 243h1v1h-1zM402 243h1v1h-1zM403 244h1v1h-1zM404 244h1v1h-1zM405 245h1v1h-1zM406 245h1v1h-1zM407 245h1v1h-1zM408 245h1v1h-1zM409 245h1v1h-1zM410 245h1v1h-1zM411 245h1v1h-1zM412 244h1v1h-1zM413 244h1v1h-1zM414 244h1v1h-1zM415 244h1v1h-1zM416 244h1v1h-1zM417 243h1v1h-1zM418 243h1v1h-1zM419 243h1v1h-1zM420 242h1v1h-1zM421 242h1v1h-1zM422 242h1v1h-1zM423 242h1v1h-1zM424 242h1v1h-1zM425 242h1v1h-1zM426 242h1v1h-1zM427 242h1v1h-1zM428 242h1v1h-1zM429 242h1v1h-1zM430 242h1v1h-1zM431 242h1v1h-1zM432 243h1v1h-1zM433 243h1v1h-1zM434 244h1v1h-1zM435 244h1v1h-1zM436 245h1v1h-1zM437 246h1v1h-1zM438 247h1v1h-1zM439 248h1v1h-1zM440 249h1v1h-1zM441 249h1v1h-1zM442 250h1v1h-1zM443 251h1v1h-1zM444 252h1v2h-1zM445 254h1v1h-1zM446 254h1v1h-1zM447 255h1v1h-1zM448 256h1v1h-1zM449 256h1v1h-1zM450 257h1v1h-1zM451 258h1v1h-1zM452 258h1v1h-1zM453 259h1v1h-1zM454 259h1v1h-1zM455 259h1v1h-1zM456 260h1v1h-1zM457 260h1v1h-1zM458 260h1v1h-1zM459 260h1v1h-1zM460 260h1v1h-1zM461 260h1v1h-1zM462 259h1v1h-1zM463 259h1v1h-1zM464 259h1v1h-1zM465 258h1v1h-1zM466 258h1v1h-1zM467 257h1v1h-1zM468 257h1v1h-1zM469 257h1v1h-1zM470 256h1v1h-1zM471 255h1v1h-1zM472 254h1v1h-1zM473 254h1v1h-1zM474 253h1v1h-1zM475 252h1v1h-1zM476 252h1v1h-1zM477 251h1v1h-1zM478 251h1v1h-1zM479 250h1v1h-1zM480 249h1v1h-1zM481 249h1v1h-1zM482 248h1v1h-1zM483 247h1v1h-1zM484 247h1v1h-1zM485 246h1v1h-1zM486 245h1v1h-1zM487 244h1v1h-1zM488 243h1v1h-1zM489 241h1v2h-1zM490 240h1v1h-1zM491 239h1v1h-1zM492 238h1v1h-1zM493 236h1v2h-1zM494 235h1v1h-1zM495 233h1v2h-1zM496 232h1v1h-1zM497 230h1v2h-1zM498 229h1v1h-1zM499 228h1v1h-1zM500 227h1v1h-1zM501 226h1v1h-1zM502 225h1v1h-1zM503 224h1v1h-1zM504 223h1v1h-1zM505 222h1v1h-1zM506 221h1v1h-1zM507 220h1v1h-1zM508 220h1v1h-1zM509 219h1v1h-1zM510 219h1v1h-1zM511 218h1v1h-1zM512 218h1v1h-1zM513 217h1v1h-1zM514 217h1v1h-1zM515 216h1v1h-1zM516 216h1v1h-1zM517 215h1v1h-1zM518 214h1v1h-1zM519 213h1v1h-1zM520 212h1v1h-1zM521 212h1v1h-1zM522 211h1v1h-1zM523 211h1v1h-1zM524 211h1v1h-1zM525 211h1v1h-1zM526 211h1v1h-1zM527 211h1v1h-1zM528 211h1v1h-1zM529 211h1v1h-1zM530 212h1v1h-1zM531 212h1v1h-1zM532 213h1v1h-1zM533 213h1v1h-1zM534 214h1v1h-1zM535 214h1v1h-1zM536 215h1v1h-1zM537 215h1v1h-1zM538 216h1v1h-1zM539 216h1v1h-1zM540 217h1v1h-1zM541 217h1v1h-1zM542 218h1v1h-1zM543 218h1v1h-1zM544 218h1v1h-1zM545 218h1v1h-1zM546 219h1v1h-1zM547 219h1v1h-1zM548 219h1v1h-1zM549 220h1v1h-1zM550 220h1v1h-1zM551 220h1v1h-1zM552 220h1v1h-1zM553 220h1v1h-1zM554 220h1v1h-1zM555 220h1v1h-1zM556 220h1v1h-1zM557 220h1v1h-1zM558 220h1v1h-1zM559 219h1v1h-1zM560 219h1v1h-1zM561 219h1v1h-1zM562 219h1v1h-1zM563 218h1v1h-1zM564 218h1v1h-1zM565 218h1v1h-1zM566 217h1v1h-1zM567 217h1v1h-1zM568 217h1v1h-1zM569 217h1v1h-1zM570 217h1v1h-1zM571 216h1v1h-1zM572 216h1v1h-1zM573 215h1v1h-1zM574 215h1v1h-1zM575 215h1v1h-1zM576 215h1v1h-1zM577 214h1v1h-1zM578 214h1v1h-1zM579 214h1v1h-1zM580 214h1v1h-1zM581 214h1v1h-1zM582 214h1v1h-1zM583 215h1v1h-1zM584 215h1v1h-1zM585 215h1v1h-1zM586 215h1v1h-1zM587 216h1v1h-1zM588 216h1v1h-1zM589 216h1v1h-1zM590 216h1v1h-1zM591 216h1v1h-1zM592 217h1v1h-1zM593 217h1v1h-1zM594 217h1v1h-1zM595 217h1v1h-1zM596 217h1v1h-1zM597 217h1v1h-1zM598 217h1v1h-1zM599 217h1v1h-1zM600 217h1v1h-1zM601 217h1v1h-1zM602 217h1v1h-1zM603 217h1v1h-1zM604 217h1v1h-1zM605 216h1v1h-1zM606 216h1v1h-1zM607 216h1v1h-1zM608 215h1v1h-1zM609 215h1v1h-1zM610 215h1v1h-1zM611 214h1v1h-1zM612 214h1v1h-1zM613 214h1v1h-1zM614 214h1v1h-1zM615 214h1v1h-1zM616 214h1v1h-1zM617 214h1v1h-1zM618 213h1v1h-1zM619 213h1v1h-1zM620 212h1v1h-1zM621 212h1v1h-1zM622 212h1v1h-1zM623 212h1v1h-1zM624 212h1v1h-1zM625 212h1v1h-1zM626 212h1v1h-1zM627 211h1v1h-1zM628 211h1v1h-1zM629 211h1v1h-1zM630 211h1v1h-1zM631 211h1v1h-1zM632 211h1v1h-1zM633 210h1v1h-1zM634 210h1v1h-1zM635 210h1v1h-1zM636 210h1v1h-1zM637 210h1v1h-1zM638 209h1v1h-1zM639 209h1v1h-1zM640 209h1v1h-1zM641 209h1v1h-1zM642 209h1v1h-1zM643 209h1v1h-1zM644 209h1v1h-1zM645 209h1v1h-1zM646 209h1v1h-1zM647 209h1v1h-1zM648 209h1v1h-1zM649 210h1v1h-1zM650 210h1v1h-1zM651 210h1v1h-1zM652 211h1v1h-1zM653 211h1v1h-1zM654 212h1v1h-1zM655 212h1v1h-1zM656 213h1v1h-1zM657 213h1v1h-1zM658 214h1v1h-1zM659 214h1v1h-1zM660 215h1v1h-1zM661 215h1v1h-1zM662 216h1v1h-1zM663 217h1v1h-1zM664 217h1v1h-1zM665 218h1v1h-1zM666 218h1v1h-1zM667 219h1v1h-1zM668 219h1v1h-1zM669 220h1v1h-1zM670 220h1v1h-1zM671 221h1v1h-1zM672 221h1v1h-1zM673 222h1v1h-1zM674 222h1v1h-1zM675 223h1v1h-1zM676 223h1v1h-1zM677 224h1v1h-1zM678 224h1v1h-1zM679 224h1v1h-1zM680 223h1v1h-1zM681 223h1v1h-1zM682 223h1v1h-1zM683 223h1v1h-1zM684 223h1v1h-1zM685 223h1v1h-1zM686 224h1v1h-1zM687 224h1v1h-1zM688 224h1v1h-1zM689 225h1v1h-1zM690 226h1v1h-1zM691 227h1v1h-1zM692 227h1v1h-1zM693 228h1v2h-1zM694 230h1v1h-1zM695 231h1v1h-1zM696 232h1v1h-1zM697 233h1v2h-1zM698 235h1v1h-1zM699 236h1v2h-1zM700 238h1v1h-1zM701 239h1v1h-1zM702 240h1v1h-1zM703 241h1v1h-1zM704 242h1v1h-1zM705 242h1v1h-1zM706 243h1v1h-1zM707 244h1v1h-1zM708 244h1v1h-1zM709 245h1v1h-1zM710 246h1v1h-1zM711 247h1v1h-1zM712 248h1v1h-1zM713 249h1v1h-1zM714 249h1v1h-1zM715 250h1v1h-1zM716 251h1v1h-1zM717 252h1v1h-1zM718 253h1v1h-1zM719 253h1v1h-1zM720 254h1v1h-1zM721 255h1v1h-1zM722 256h1v1h-1zM723 257h1v1h-1zM724 258h1v1h-1zM725 258h1v1h-1zM726 259h1v1h-1zM727 260h1v1h-1zM728 261h1v1h-1zM729 262h1v1h-1zM730 263h1v1h-1zM731 264h1v1h-1zM732 264h1v1h-1zM733 265h1v1h-1zM734 266h1v1h-1zM735 267h1v1h-1zM736 268h1v1h-1zM737 269h1v1h-1zM738 270h1v1h-1zM739 271h1v2h-1zM740 273h1v1h-1zM741 274h1v1h-1zM742 274h1v1h-1zM743 275h1v1h-1zM744 276h1v1h-1zM745 277h1v1h-1zM746 278h1v1h-1zM747 278h1v1h-1zM748 279h1v1h-1zM749 280h1v1h-1zM750 281h1v1h-1zM751 282h1v1h-1zM752 283h1v1h-1zM753 284h1v1h-1zM754 285h1v1h-1zM755 286h1v1h-1zM756 287h1v1h-1zM757 288h1v1h-1zM758 289h1v1h-1zM759 290h1v1h-1zM760 291h1v1h-1zM761 292h1v1h-1zM762 293h1v1h-1zM763 293h1v1h-1zM764 294h1v1h-1zM765 295h1v1h-1zM766 296h1v1h-1zM767 297h1v1h-1zM768 298h1v1h-1zM769 299h1v1h-1zM770 300h1v1h-1zM771 301h1v1h-1zM772 301h1v1h-1zM773 302h1v1h-1zM774 303h1v1h-1zM775 304h1v1h-1zM776 304h1v1h-1zM777 305h1v1h-1zM778 306h1v1h-1zM779 306h1v1h-1zM780 307h1v1h-1zM781 308h1v1h-1zM782 308h1v1h-1zM783 309h1v1h-1zM784 310h1v1h-1zM785 311h1v1h-1zM786 312h1v1h-1zM787 313h1v1h-1zM788 314h1v1h-1zM789 314h1v1h-1zM790 315h1v1h-1zM791 316h1v1h-1zM792 317h1v1h-1zM793 318h1v1h-1zM794 319h1v1h-1zM795 320h1v1h-1zM796 320h1v1h-1zM797 321h1v1h-1zM798 322h1v1h-1zM799 323h1v1h-1zM800 324h1v1h-1zM801 325h1v1h-1zM802 326h1v1h-1zM803 327h1v1h-1zM804 327h1v1h-1zM805 328h1v1h-1zM806 329h1v1h-1zM807 330h1v1h-1zM808 330h1v1h-1zM809 331h1v1h-1zM810 331h1v1h-1zM811 332h1v1h-1zM812 332h1v1h-1zM813 333h1v1h-1zM814 333h1v1h-1zM815 333h1v1h-1zM816 333h1v1h-1zM817 333h1v1h-1zM818 333h1v1h-1zM819 332h1v1h-1zM820 332h1v1h-1zM821 332h1v1h-1zM822 332h1v1h-1zM823 333h1v1h-1zM824 333h1v1h-1zM825 334h1v1h-1zM826 335h1v1h-1zM827 335h1v1h-1zM828 336h1v1h-1zM829 337h1v1h-1zM830 337h1v1h-1zM831 338h1v1h-1zM832 338h1v1h-1zM833 339h1v1h-1zM834 339h1v1h-1zM835 340h1v1h-1zM836 340h1v1h-1zM837 341h1v1h-1zM838 342h1v1h-1zM839 343h1v1h-1zM840 344h1v1h-1zM841 345h1v1h-1zM842 346h1v1h-1zM843 347h1v1h-1zM844 348h1v1h-1zM845 349h1v1h-1zM846 350h1v2h-1zM847 352h1v1h-1zM848 353h1v1h-1zM849 354h1v1h-1zM850 355h1v1h-1zM851 356h1v2h-1zM852 358h1v1h-1zM853 359h1v1h-1zM854 360h1v1h-1zM855 361h1v1h-1zM856 362h1v1h-1zM857 363h1v1h-1zM858 364h1v1h-1zM859 365h1v2h-1zM860 367h1v1h-1zM861 368h1v1h-1zM862 369h1v1h-1zM863 370h1v2h-1zM864 372h1v1h-1zM865 373h1v2h-1zM866 375h1v1h-1zM867 376h1v2h-1zM868 378h1v1h-1zM869 379h1v2h-1zM870 381h1v1h-1zM871 382h1v2h-1zM872 384h1v1h-1zM873 385h1v2h-1zM874 387h1v1h-1zM875 388h1v1h-1zM876 389h1v2h-1zM877 391h1v1h-1zM878 392h1v1h-1zM879 393h1v2h-1zM880 395h1v1h-1zM881 396h1v1h-1zM882 397h1v1h-1zM883 398h1v2h-1zM884 400h1v1h-1zM885 401h1v2h-1zM886 403h1v1h-1zM887 404h1v2h-1zM888 406h1v2h-1zM889 408h1v1h-1zM890 409h1v2h-1zM891 411h1v1h-1zM892 412h1v2h-1zM893 414h1v1h-1zM894 415h1v1h-1zM895 416h1v1h-1zM896 417h1v2h-1zM897 419h1v1h-1zM898 420h1v1h-1zM899 421h1v2h-1zM900 423h1v1h-1zM901 424h1v1h-1zM902 425h1v1h-1zM903 426h1v1h-1zM904 427h1v1h-1zM905 428h1v1h-1zM906 429h1v1h-1zM907 430h1v1h-1zM908 431h1v1h-1zM909 432h1v1h-1zM910 433h1v2h-1zM911 435h1v1h-1zM912 436h1v1h-1zM913 437h1v1h-1zM914 438h1v1h-1zM915 439h1v1h-1zM916 440h1v2h-1zM917 442h1v1h-1zM918 443h1v1h-1zM919 444h1v1h-1zM920 445h1v2h-1zM921 447h1v1h-1zM922 448h1v1h-1zM923 449h1v2h-1zM924 451h1v1h-1zM925 452h1v1h-1zM926 453h1v2h-1zM927 455h1v1h-1zM928 456h1v2h-1zM929 458h1v1h-1zM930 459h1v2h-1zM931 461h1v1h-1zM932 462h1v2h-1zM933 464h1v1h-1zM934 465h1v1h-1zM935 466h1v2h-1zM936 468h1v1h-1zM937 469h1v2h-1zM938 471h1v1h-1zM939 472h1v1h-1zM940 473h1v2h-1zM941 475h1v1h-1zM942 476h1v1h-1zM943 477h1v1h-1zM944 478h1v1h-1zM945 479h1v1h-1zM946 480h1v1h-1zM947 481h1v1h-1zM948 482h1v1h-1zM949 483h1v2h-1zM950 485h1v1h-1zM951 486h1v1h-1zM952 487h1v1h-1zM953 488h1v1h-1zM954 489h1v1h-1zM955 490h1v1h-1zM956 491h1v1h-1zM957 492h1v1h-1zM958 493h1v1h-1zM959 494h1v1h-1zM960 495h1v1h-1zM961 496h1v1h-1zM962 496h1v1h-1zM963 497h1v1h-1zM964 498h1v1h-1zM965 498h1v1h-1zM966 499h1v1h-1zM967 500h1v1h-1zM968 500h1v1h-1zM969 501h1v1h-1zM970 502h1v1h-1zM971 503h1v1h-1zM972 503h1v1h-1zM973 504h1v1h-1zM974 505h1v1h-1zM975 506h1v1h-1zM976 506h1v1h-1zM977 507h1v1h-1zM978 508h1v1h-1zM979 508h1v1h-1zM980 508h1v1h-1zM981 509h1v1h-1zM982 509h1v1h-1zM983 509h1v1h-1zM984 509h1v1h-1zM985 509h1v1h-1zM986 509h1v1h-1zM987 510h1v1h-1zM988 510h1v1h-1zM989 510h1v1h-1zM990 510h1v1h-1zM991 509h1v1h-1zM992 509h1v1h-1zM993 509h1v1h-1zM994 509h1v1h-1zM995 509h1v1h-1zM996 509h1v1h-1zM997 509h1v1h-1zM998 510h1v1h-1zM999 510h1v1h-1zM1000 510h1v1h-1zM1001 510h1v1h-1zM1002 510h1v1h-1zM1003 510h1v1h-1zM1004 510h1v1h-1zM1005 510h1v1h-1zM1006 509h1v1h-1zM1007 509h1v1h-1zM1008 509h1v1h-1zM1009 508h1v1h-1zM1010 509h1v1h-1zM1011 509h1v1h-1zM1012 509h1v1h-1zM1013 509h1v1h-1zM1014 509h1v1h-1zM1015 509h1v1h-1zM1016 509h1v1h-1zM1017 510h1v1h-1zM1018 510h1v1h-1zM1019 510h1v1h-1zM1020 510h1v1h-1zM1021 510h1v1h-1zM1022 510h1v1h-1zM1023 511h1v1h-1zM1024 511h1v1h-1zM1025 512h1v1h-1zM1026 512h1v1h-1zM1027 512h1v1h-1zM1028 512h1v1h-1zM1029 513h1v1h-1zM1030 513h1v1h-1zM1031 513h1v1h-1zM1032 513h1v1h-1zM1033 513h1v1h-1zM1034 513h1v1h-1zM1035 513h1v1h-1zM1036 513h1v1h-1zM1037 513h1v1h-1zM1038 513h1v1h-1zM1039 513h1v1h-1zM1040 513h1v1h-1zM1041 513h1v1h-1zM1042 513h1v1h-1zM1043 513h1v1h-1zM1044 513h1v1h-1zM1045 513h1v1h-1zM1046 513h1v1h-1zM1047 512h1v1h-1zM1048 512h1v1h-1zM1049 511h1v1h-1zM1050 511h1v1h-1zM1051 510h1v1h-1zM1052 509h1v1h-1zM1053 508h1v1h-1zM1054 508h1v1h-1zM1055 508h1v1h-1zM1056 507h1v1h-1zM1057 507h1v1h-1zM1058 506h1v1h-1zM1059 505h1v1h-1zM1060 504h1v1h-1zM1061 504h1v1h-1zM1062 503h1v1h-1zM1063 502h1v1h-1zM1064 502h1v1h-1zM1065 501h1v1h-1zM1066 500h1v1h-1zM1067 500h1v1h-1zM1068 499h1v1h-1zM1069 498h1v1h-1zM1070 498h1v1h-1zM1071 497h1v1h-1zM1072 496h1v1h-1zM1073 496h1v1h-1zM1074 495h1v1h-1zM1075 495h1v1h-1zM1076 494h1v1h-1zM1077 494h1v1h-1zM1078 493h1v1h-1zM1079 493h1v1h-1zM1080 493h1v1h-1zM1081 492h1v1h-1zM1082 492h1v1h-1zM1083 491h1v1h-1zM1084 491h1v1h-1zM1085 490h1v1h-1zM1086 490h1v1h-1zM1087 489h1v1h-1zM1088 489h1v1h-1zM1089 488h1v1h-1zM1090 487h1v1h-1zM1091 487h1v1h-1zM1092 486h1v1h-1zM1093 485h1v1h-1zM1094 485h1v1h-1zM1095 484h1v1h-1zM1096 484h1v1h-1zM1097 483h1v1h-1zM1098 483h1v1h-1zM1099 482h1v1h-1zM1100 482h1v1h-1zM1101 482h1v1h-1zM1102 481h1v1h-1zM1103 481h1v1h-1zM1104 481h1v1h-1zM1105 481h1v1h-1zM1106 480h1v1h-1zM1107 480h1v1h-1zM1108 480h1v1h-1zM1109 479h1v1h-1zM1110 480h1v1h-1zM1111 480h1v1h-1zM1112 480h1v1h-1zM1113 480h1v1h-1zM1114 480h1v1h-1zM1115 480h1v1h-1zM1116 480h1v1h-1zM1117 481h1v1h-1zM1118 481h1v1h-1zM1119 481h1v1h-1zM1120 481h1v1h-1zM1121 482h1v1h-1zM1122 482h1v1h-1zM1123 482h1v1h-1zM1124 482h1v1h-1zM1125 482h1v1h-1zM1126 482h1v1h-1zM1127 482h1v1h-1zM1128 482h1v1h-1zM1129 482h1v1h-1zM1130 482h1v1h-1zM1131 481h1v1h-1zM1132 481h1v1h-1zM1133 481h1v1h-1zM1134 480h1v1h-1zM1135 480h1v1h-1zM1136 480h1v1h-1zM1137 480h1v1h-1zM1138 480h1v1h-1zM1139 479h1v1h-1zM1140 479h1v1h-1zM1141 479h1v1h-1zM1142 479h1v1h-1zM1143 479h1v1h-1zM1144 479h1v1h-1zM1145 479h1v1h-1zM1146 479h1v1h-1zM1147 479h1v1h-1zM1148 479h1v1h-1zM1149 479h1v1h-1zM1150 479h1v1h-1zM1151 479h1v1h-1zM1152 479h1v1h-1zM1153 479h1v1h-1zM1154 480h1v1h-1zM1155 480h1v1h-1zM1156 480h1v1h-1zM1157 480h1v1h-1zM1158 480h1v1h-1zM1159 480h1v1h-1zM1160 480h1v1h-1zM1161 480h1v1h-1zM1162 481h1v1h-1zM1163 481h1v1h-1zM1164 481h1v1h-1zM1165 481h1v1h-1zM1166 482h1v1h-1zM1167 482h1v1h-1zM1168 482h1v1h-1zM1169 483h1v1h-1zM1170 483h1v1h-1zM1171 484h1v1h-1zM1172 484h1v1h-1zM1173 485h1v1h-1zM1174 486h1v1h-1zM1175 486h1v1h-1zM1176 487h1v1h-1zM1177 487h1v1h-1zM1178 488h1v1h-1zM1179 488h1v1h-1zM1180 488h1v1h-1zM1181 489h1v1h-1zM1182 489h1v1h-1zM1183 490h1v1h-1zM1184 490h1v1h-1zM1185 491h1v1h-1zM1186 491h1v1h-1zM1187 492h1v1h-1zM1188 492h1v1h-1zM1189 493h1v1h-1zM1190 493h1v1h-1zM1191 493h1v1h-1zM1192 493h1v1h-1zM1193 494h1v1h-1zM1194 494h1v1h-1zM1195 494h1v1h-1zM1196 495h1v1h-1zM1197 495h1v1h-1zM1198 495h1v1h-1zM1199 496h1v1h-1zM1200 496h1v1h-1zM1201 496h1v1h-1zM1202 497h1v1h-1zM1203 497h1v1h-1zM1204 498h1v1h-1zM1205 498h1v1h-1zM1206 499h1v1h-1zM1207 500h1v1h-1zM1208 501h1v1h-1zM1209 502h1v1h-1zM1210 502h1v1h-1zM1211 503h1v1h-1zM1212 504h1v1h-1zM1213 505h1v1h-1zM1214 505h1v1h-1zM1215 505h1v1h-1zM1216 506h1v1h-1zM1217 506h1v1h-1zM1218 506h1v1h-1zM1219 506h1v1h-1zM1220 506h1v1h-1zM1221 506h1v1h-1zM1222 506h1v1h-1zM1223 506h1v1h-1zM1224 506h1v1h-1zM1225 506h1v1h-1zM1226 506h1v1h-1zM1227 506h1v1h-1zM1228 506h1v1h-1zM1229 506h1v1h-1zM1230 506h1v1h-1zM1231 506h1v1h-1zM1232 506h1v1h-1zM1233 506h1v1h-1zM1234 506h1v1h-1zM1235 506h1v1h-1zM1236 506h1v1h-1zM1237 505h1v1h-1zM1238 505h1v1h-1zM1239 505h1v1h-1zM1240 505h1v1h-1zM1241 505h1v1h-1zM1242 505h1v1h-1zM1243 505h1v1h-1zM1244 505h1v1h-1zM1245 506h1v1h-1zM1246 506h1v1h-1zM1247 506h1v1h-1zM1248 506h1v1h-1zM1249 506h1v1h-1zM1250 506h1v1h-1zM1251 506h1v1h-1zM1252 507h1v1h-1zM1253 507h1v1h-1zM1254 507h1v1h-1zM1255 507h1v1h-1zM1256 507h1v1h-1zM1257 508h1v1h-1zM1258 508h1v1h-1zM1259 508h1v1h-1zM1260 508h1v1h-1zM1261 508h1v1h-1zM1262 508h1v1h-1zM1263 508h1v1h-1zM1264 508h1v1h-1zM1265 507h1v1h-1zM1266 507h1v1h-1zM1267 507h1v1h-1zM1268 507h1v1h-1z" fill="#0000cd"/>
<rect x="5" y="274" width="1592" height="2" fill="#ff0000"/>
<rect x="4" y="272" width="6" height="6" fill="#ff0000"/><rect x="6" y="274" width="2" height="2" fill="#fff"/>
<rect x="1591" y="272" width="6" height="6" fill="#ff0000"/><rect x="1593" y="274" width="2" height="2" fill="#fff"/>
<rect x="5" y="340" width="1592" height="2" fill="#ff0000"/>
<rect x="4" y="338" width="6" height="6" fill="#ff0000"/><rect x="6" y="340" width="2" height="2" fill="#fff"/>
<rect x="1591" y="338" width="6" height="6" fill="#ff0000"/><rect x="1593" y="340" width="2" height="2" fill="#fff"/>
<rect x="5" y="409" width="1592" height="2" fill="#ff0000"/>
<rect x="4" y="407" width="6" height="6" fill="#ff0000"/><rect x="6" y="409" width="2" height="2" fill="#fff"/>
<rect x="1591" y="407" width="6" height="6" fill="#ff0000"/><rect x="1593" y="409" width="2" height="2" fill="#fff"/>
<rect x="5" y="474" width="1592" height="2" fill="#00ff00"/>
<rect x="4" y="472" width="6" height="6" fill="#00ff00"/><rect x="6" y="474" width="2" height="2" fill="#fff"/>
<rect x="1591" y="472" width="6" height="6" fill="#00ff00"/><rect x="1593" y="474" width="2" height="2" fill="#fff"/>
<rect x="5" y="557" width="1592" height="2" fill="#0000ff"/>
<rect x="4" y="555" width="6" height="6" fill="#0000ff"/><rect x="6" y="557" width="2" height="2" fill="#fff"/>
<rect x="1591" y="555" width="6" height="6" fill="#0000ff"/><rect x="1593" y="557" width="2" height="2" fill="#fff"/>
<path d="M5 635h1v3h-1zM6 633h1v2h-1zM7 631h1v2h-1zM8 630h1v1h-1zM9 629h1v1h-1zM10 628h1v1h-1zM11 627h1v1h-1zM12 626h1v1h-1zM13 626h1v1h-1zM14 626h1v1h-1zM15 625h1v1h-1zM16 625h1v1h-1zM17 625h1v1h-1zM18 625h1v1h-1zM19 624h1v1h-1zM20 624h1v1h-1zM21 624h1v1h-1zM22 623h1v1h-1zM23 623h1v1h-1zM24 623h1v1h-1zM25 623h1v1h-1zM26 623h1v1h-1zM27 623h1v1h-1zM28 623h1v1h-1zM29 623h1v1h-1zM30 623h1v1h-1zM31 623h1v1h-1zM32 622h1v1h-1zM33 622h1v1h-1zM34 622h1v1h-1zM35 622h1v1h-1zM36 621h1v1h-1zM37 621h1v3h-1zM38 624h1v4h-1zM39 628h1v4h-1zM40 632h1v4h-1zM41 636h1v4h-1zM42 640h1v3h-1zM43 643h1v2h-1zM44 645h1v3h-1zM45 648h1v1h-1zM46 647h1v1h-1zM47 646h1v1h-1zM48 646h1v1h-1zM49 645h1v1h-1zM50 644h1v1h-1zM51 644h1v1h-1zM52 644h1v1h-1zM53 644h1v1h-1zM54 644h1v1h-1zM55 643h1v1h-1zM56 641h1v2h-1zM57 640h1v1h-1zM58 640h1v1h-1zM59 640h1v1h-1zM60 640h1v1h-1zM61 641h1v1h-1zM62 641h1v1h-1zM63 641h1v1h-1zM64 642h1v1h-1zM65 643h1v1h-1zM66 644h1v1h-1zM67 645h1v1h-1zM68 646h1v1h-1zM69 647h1v1h-1zM70 648h1v1h-1zM71 647h1v1h-1zM72 647h1v1h-1zM73 646h1v1h-1zM74 646h1v1h-1zM75 646h1v1h-1zM76 646h1v1h-1zM77 646h1v1h-1zM78 646h1v2h-1zM79 648h1v1h-1zM80 649h1v1h-1zM81 650h1v1h-1zM82 651h1v1h-1zM83 650h1v1h-1zM84 649h1v1h-1zM85 648h1v1h-1zM86 648h1v1h-1zM87 648h1v1h-1zM88 648h1v1h-1zM89 648h1v1h-1zM90 649h1v2h-1zM91 651h1v1h-1zM92 652h1v2h-1zM93 654h1v1h-1zM94 653h1v1h-1zM95 652h1v1h-1zM96 651h1v1h-1zM97 650h1v1h-1zM98 649h1v1h-1zM99 650h1v1h-1zM100 651h1v1h-1zM101 652h1v1h-1zM102 652h1v2h-1zM103 650h1v2h-1zM104 648h1v2h-1zM105 647h1v1h-1zM106 646h1v1h-1zM107 645h1v1h-1zM108 644h1v1h-1zM109 644h1v1h-1zM110 643h1v1h-1zM111 643h1v1h-1zM112 644h1v1h-1zM113 644h1v1h-1zM114 645h1v1h-1zM115 646h1v1h-1zM116 646h1v1h-1zM117 647h1v1h-1zM118 648h1v1h-1zM119 648h1v1h-1zM120 648h1v1h-1zM121 648h1v1h-1zM122 647h1v1h-1zM123 647h1v1h-1zM124 646h1v1h-1zM125 645h1v1h-1zM126 645h1v3h-1zM127 648h1v2h-1zM128 650h1v2h-1zM129 652h1v1h-1zM130 653h1v1h-1zM131 654h1v1h-1zM132 654h1v1h-1zM133 655h1v1h-1zM134 656h1v1h-1zM135 657h1v1h-1zM136 658h1v1h-1zM137 659h1v1h-1zM138 660h1v1h-1zM139 660h1v1h-1zM140 660h1v1h-1zM141 660h1v1h-1zM142 660h1v1h-1zM143 660h1v1h-1zM144 660h1v1h-1zM145 660h1v1h-1zM146 659h1v1h-1zM147 658h1v1h-1zM148 658h1v1h-1zM149 657h1v1h-1zM150 656h1v1h-1zM151 655h1v1h-1zM152 653h1v2h-1zM153 652h1v1h-1zM154 651h1v1h-1zM155 650h1v1h-1zM156 650h1v1h-1zM157 649h1v1h-1zM158 650h1v1h-1zM159 650h1v2h-1zM160 652h1v1h-1zM161 652h1v1h-1zM162 651h1v2h-1zM163 649h1v2h-1zM164 647h1v2h-1zM165 646h1v1h-1zM166 646h1v1h-1zM167 647h1v1h-1zM168 647h1v1h-1zM169 648h1v1h-1zM170 647h1v1h-1zM171 646h1v1h-1zM172 644h1v2h-1zM173 643h1v1h-1zM174 643h1v1h-1zM175 643h1v1h-1zM176 643h1v1h-1zM177 643h1v1h-1zM178 643h1v1h-1zM179 643h1v1h-1zM180 643h1v1h-1zM181 644h1v1h-1zM182 644h1v1h-1zM183 645h1v1h-1zM184 645h1v1h-1zM185 646h1v1h-1zM186 647h1v1h-1zM187 647h1v1h-1zM188 648h1v1h-1zM189 649h1v1h-1zM190 650h1v1h-1zM191 650h1v1h-1zM192 651h1v1h-1zM193 652h1v1h-1zM194 653h1v1h-1zM195 653h1v1h-1zM196 654h1v1h-1zM197 654h1v1h-1zM198 652h1v2h-1zM199 650h1v2h-1zM200 649h1v1h-1zM201 648h1v1h-1zM202 647h1v1h-1zM203 646h1v1h-1zM204 646h1v1h-1zM205 646h1v1h-1zM206 646h1v1h-1zM207 645h1v1h-1zM208 644h1v1h-1zM209 643h1v1h-1zM210 643h1v1h-1zM211 644h1v1h-1zM212 644h1v1h-1zM213 645h1v1h-1zM214 644h1v1h-1zM215 643h1v1h-1zM216 642h1v1h-1zM217 641h1v1h-1zM218 641h1v1h-1zM219 641h1v1h-1zM220 641h1v1h-1zM221 641h1v1h-1zM222 640h1v1h-1zM223 640h1v1h-1zM224 639h1v1h-1zM225 638h1v1h-1zM226 638h1v1h-1zM227 638h1v1h-1zM228 638h1v1h-1zM229 638h1v1h-1zM230 638h1v1h-1zM231 639h1v1h-1zM232 639h1v1h-1zM233 640h1v1h-1zM234 638h1v2h-1zM235 636h1v2h-1zM236 634h1v2h-1zM237 633h1v1h-1zM238 632h1v1h-1zM239 631h1v1h-1zM240 631h1v1h-1zM241 630h1v2h-1zM242 632h1v4h-1zM243 636h1v3h-1zM244 639h1v2h-1zM245 641h1v2h-1zM246 643h1v1h-1zM247 644h1v2h-1zM248 646h1v1h-1zM249 647h1v1h-1zM250 647h1v1h-1zM251 648h1v1h-1zM252 648h1v1h-1zM253 649h1v1h-1zM254 648h1v1h-1zM255 646h1v2h-1zM256 645h1v1h-1zM257 643h1v2h-1zM258 641h1v2h-1zM259 640h1v1h-1zM260 638h1v2h-1zM261 637h1v1h-1zM262 636h1v1h-1zM263 634h1v2h-1zM264 633h1v1h-1zM265 632h1v1h-1zM266 631h1v1h-1zM267 630h1v1h-1zM268 630h1v1h-1zM269 629h1v1h-1zM270 629h1v1h-1zM271 628h1v1h-1zM272 628h1v1h-1zM273 627h1v1h-1zM274 627h1v1h-1zM275 626h1v1h-1zM276 626h1v1h-1zM277 626h1v1h-1zM278 626h1v1h-1zM279 626h1v1h-1zM280 626h1v1h-1zM281 626h1v1h-1zM282 626h1v1h-1zM283 626h1v1h-1zM284 626h1v1h-1zM285 626h1v1h-1zM286 626h1v1h-1zM287 626h1v1h-1zM288 627h1v1h-1zM289 627h1v1h-1zM290 627h1v1h-1zM291 626h1v1h-1zM292 625h1v1h-1zM293 625h1v1h-1zM294 624h1v1h-1zM295 623h1v1h-1zM296 622h1v1h-1zM297 621h1v1h-1zM298 621h1v1h-1zM299 620h1v1h-1zM300 620h1v1h-1zM301 620h1v1h-1zM302 620h1v1h-1zM303 620h1v1h-1zM304 620h1v1h-1zM305 620h1v1h-1zM306 620h1v1h-1zM307 620h1v1h-1zM308 620h1v1h-1zM309 620h1v1h-1zM310 620h1v1h-1zM311 620h1v1h-1zM312 619h1v1h-1zM313 618h1v1h-1zM314 618h1v1h-1zM315 619h1v1h-1zM316 619h1v1h-1zM317 620h1v2h-1zM318 622h1v2h-1zM319 624h1v3h-1zM320 627h1v2h-1zM321 629h1v2h-1zM322 631h1v1h-1zM323 632h1v1h-1zM324 632h1v1h-1zM325 633h1v1h-1zM326 634h1v1h-1zM327 634h1v1h-1zM328 634h1v1h-1zM329 634h1v1h-1zM330 634h1v1h-1zM331 634h1v1h-1zM332 635h1v1h-1zM333 636h1v1h-1zM334 636h1v1h-1zM335 635h1v1h-1zM336 635h1v1h-1zM337 635h1v3h-1zM338 638h1v3h-1zM339 641h1v4h-1zM340 645h1v3h-1zM341 648h1v1h-1zM342 649h1v1h-1zM343 650h1v1h-1zM344 650h1v1h-1zM345 651h1v1h-1zM346 652h1v1h-1zM347 652h1v1h-1zM348 653h1v1h-1zM349 654h1v2h-1zM350 656h1v1h-1zM351 657h1v1h-1zM352 658h1v2h-1zM353 660h1v1h-1zM354 661h1v1h-1zM355 662h1v1h-1zM356 662h1v1h-1zM357 663h1v1h-1zM358 663h1v1h-1zM359 663h1v1h-1zM360 664h1v1h-1zM361 664h1v1h-1zM362 665h1v1h-1zM363 665h1v1h-1zM364 666h1v1h-1zM365 667h1v1h-1zM366 668h1v2h-1zM367 670h1v1h-1zM368 671h1v1h-1zM369 672h1v1h-1zM370 672h1v1h-1zM371 672h1v1h-1zM372 673h1v1h-1zM373 673h1v1h-1zM374 673h1v1h-1zM375 674h1v1h-1zM376 674h1v1h-1zM377 675h1v1h-1zM378 673h1v2h-1zM379 671h1v2h-1zM380 669h1v2h-1zM381 667h1v2h-1zM382 665h1v2h-1zM383 662h1v3h-1zM384 660h1v2h-1zM385 656h1v4h-1zM386 652h1v4h-1zM387 647h1v5h-1zM388 643h1v4h-1zM389 642h1v1h-1zM390 641h1v1h-1zM391 640h1v1h-1zM392 640h1v1h-1zM393 640h1v1h-1zM394 640h1v1h-1zM395 639h1v1h-1zM396 639h1v1h-1zM397 638h1v1h-1zM398 639h1v2h-1zM399 641h1v2h-1zM400 643h1v1h-1zM401 644h1v1h-1zM402 641h1v3h-1zM403 637h1v4h-1zM404 634h1v3h-1zM405 631h1v3h-1zM406 630h1v1h-1zM407 629h1v1h-1zM408 627h1v2h-1zM409 626h1v1h-1zM410 625h1v1h-1zM411 623h1v2h-1zM412 622h1v1h-1zM413 621h1v1h-1zM414 620h1v1h-1zM415 620h1v1h-1zM416 620h1v1h-1zM417 619h1v1h-1zM418 619h1v1h-1zM419 619h1v1h-1zM420 619h1v1h-1zM421 619h1v1h-1zM422 619h1v2h-1zM423 621h1v1h-1zM424 622h1v1h-1zM425 623h1v1h-1zM426 624h1v1h-1zM427 624h1v1h-1zM428 625h1v1h-1zM429 625h1v1h-1zM430 625h1v1h-1zM431 626h1v1h-1zM432 626h1v1h-1zM433 627h1v1h-1zM434 628h1v3h-1zM435 631h1v2h-1zM436 633h1v3h-1zM437 636h1v2h-1zM438 638h1v2h-1zM439 640h1v1h-1zM440 641h1v2h-1zM441 643h1v1h-1zM442 643h1v1h-1zM443 643h1v1h-1zM444 644h1v1h-1zM445 644h1v1h-1zM446 643h1v1h-1zM447 642h1v1h-1zM448 641h1v1h-1zM449 640h1v1h-1zM450 639h1v1h-1zM451 638h1v1h-1zM452 638h1v1h-1zM453 637h1v1h-1zM454 637h1v1h-1zM455 636h1v1h-1zM456 636h1v1h-1zM457 635h1v1h-1zM458 634h1v1h-1zM459 633h1v1h-1zM460 633h1v1h-1zM461 632h1v1h-1zM462 631h1v1h-1zM463 630h1v1h-1zM464 630h1v1h-1zM465 629h1v1h-1zM466 629h1v1h-1zM467 629h1v1h-1zM468 629h1v1h-1zM469 629h1v1h-1zM470 630h1v1h-1zM471 629h1v1h-1zM472 629h1v1h-1zM473 629h1v1h-1zM474 629h1v2h-1zM475 631h1v1h-1zM476 632h1v1h-1zM477 633h1v2h-1zM478 635h1v1h-1zM479 634h1v1h-1zM480 634h1v1h-1zM481 634h1v1h-1zM482 634h1v1h-1zM483 635h1v1h-1zM484 635h1v1h-1zM485 636h1v1h-1zM486 637h1v1h-1zM487 637h1v1h-1zM488 638h1v1h-1zM489 638h1v1h-1zM490 638h1v1h-1zM491 638h1v1h-1zM492 638h1v1h-1zM493 638h1v1h-1zM494 638h1v1h-1zM495 638h1v1h-1zM496 637h1v1h-1zM497 637h1v1h-1zM498 637h1v2h-1zM499 639h1v1h-1zM500 640h1v1h-1zM501 641h1v1h-1zM502 641h1v1h-1zM503 641h1v1h-1zM504 640h1v1h-1zM505 639h1v1h-1zM506 638h1v1h-1zM507 637h1v1h-1zM508 636h1v1h-1zM509 635h1v1h-1zM510 635h1v1h-1zM511 635h1v1h-1zM512 636h1v1h-1zM513 636h1v1h-1zM514 637h1v1h-1zM515 636h1v1h-1zM516 636h1v1h-1zM517 636h1v1h-1zM518 636h1v1h-1zM519 636h1v1h-1zM520 636h1v1h-1zM521 637h1v1h-1zM522 636h1v1h-1zM523 635h1v1h-1zM524 635h1v1h-1zM525 634h1v1h-1zM526 634h1v1h-1zM527 633h1v1h-1zM528 633h1v1h-1zM529 632h1v1h-1zM530 632h1v1h-1zM531 631h1v1h-1zM532 631h1v1h-1zM533 630h1v1h-1zM534 630h1v1h-1zM535 629h1v1h-1zM536 629h1v1h-1zM537 629h1v1h-1zM538 629h1v1h-1zM539 629h1v1h-1zM540 629h1v1h-1zM541 629h1v1h-1zM542 628h1v1h-1zM543 628h1v1h-1zM544 627h1v1h-1zM545 627h1v1h-1zM546 628h1v1h-1zM547 628h1v1h-1zM548 629h1v1h-1zM549 630h1v1h-1zM550 630h1v1h-1zM551 630h1v1h-1zM552 630h1v1h-1zM553 630h1v2h-1zM554 632h1v2h-1zM555 634h1v2h-1zM556 636h1v1h-1zM557 637h1v2h-1zM558 639h1v2h-1zM559 641h1v2h-1zM560 643h1v2h-1zM561 645h1v1h-1zM562 646h1v1h-1zM563 645h1v1h-1zM564 645h1v1h-1zM565 644h1v1h-1zM566 643h1v1h-1zM567 643h1v1h-1zM568 642h1v1h-1zM569 640h1v2h-1zM570 638h1v2h-1zM571 637h1v1h-1zM572 635h1v2h-1zM573 634h1v1h-1zM574 633h1v1h-1zM575 632h1v1h-1zM576 631h1v1h-1zM577 630h1v1h-1zM578 630h1v1h-1zM579 630h1v1h-1zM580 630h1v1h-1zM581 630h1v1h-1zM582 630h1v2h-1zM583 632h1v1h-1zM584 633h1v2h-1zM585 635h1v1h-1zM586 636h1v1h-1zM587 635h1v1h-1zM588 635h1v1h-1zM589 635h1v1h-1zM590 634h1v1h-1zM591 634h1v1h-1zM592 633h1v1h-1zM593 633h1v1h-1zM594 633h1v2h-1zM595 635h1v1h-1zM596 636h1v1h-1zM597 637h1v1h-1zM598 638h1v1h-1zM599 637h1v1h-1zM600 636h1v1h-1zM601 635h1v1h-1zM602 635h1v1h-1zM603 634h1v1h-1zM604 634h1v1h-1zM605 633h1v1h-1zM606 633h1v1h-1zM607 632h1v1h-1zM608 632h1v1h-1zM609 632h1v1h-1zM610 632h1v1h-1zM611 632h1v1h-1zM612 633h1v1h-1zM613 633h1v1h-1zM614 634h1v1h-1zM615 634h1v1h-1zM616 635h1v1h-1zM617 636h1v1h-1zM618 636h1v1h-1zM619 635h1v1h-1zM620 634h1v1h-1zM621 633h1v1h-1zM622 634h1v2h-1zM623 636h1v2h-1zM624 638h1v3h-1zM625 641h1v1h-1zM626 641h1v1h-1zM627 639h1v2h-1zM628 637h1v2h-1zM629 636h1v1h-1zM630 635h1v1h-1zM631 634h1v1h-1zM632 634h1v1h-1zM633 633h1v1h-1zM634 633h1v1h-1zM635 633h1v1h-1zM636 633h1v1h-1zM637 633h1v1h-1zM638 634h1v1h-1zM639 634h1v1h-1zM640 634h1v1h-1zM641 635h1v1h-1zM642 635h1v2h-1zM643 637h1v1h-1zM644 638h1v2h-1zM645 640h1v1h-1zM646 639h1v1h-1zM647 638h1v1h-1zM648 637h1v1h-1zM649 636h1v1h-1zM650 637h1v2h-1zM651 639h1v2h-1zM652 641h1v2h-1zM653 643h1v1h-1zM654 643h1v1h-1zM655 644h1v1h-1zM656 644h1v1h-1zM657 645h1v1h-1zM658 645h1v1h-1zM659 645h1v1h-1zM660 645h1v1h-1zM661 645h1v1h-1zM662 645h1v1h-1zM663 646h1v1h-1zM664 646h1v1h-1zM665 647h1v1h-1zM666 646h1v1h-1zM667 645h1v1h-1zM668 645h1v1h-1zM669 644h1v1h-1zM670 644h1v1h-1zM671 644h1v1h-1zM672 645h1v1h-1zM673 645h1v1h-1zM674 646h1v2h-1zM675 648h1v2h-1zM676 650h1v1h-1zM677 650h1v2h-1zM678 647h1v3h-1zM679 645h1v2h-1zM680 643h1v2h-1zM681 642h1v1h-1zM682 642h1v1h-1zM683 642h1v1h-1zM684 642h1v1h-1zM685 642h1v1h-1zM686 643h1v1h-1zM687 644h1v2h-1zM688 646h1v1h-1zM689 647h1v2h-1zM690 649h1v1h-1zM691 650h1v2h-1zM692 652h1v2h-1zM693 654h1v1h-1zM694 655h1v1h-1zM695 656h1v1h-1zM696 656h1v1h-1zM697 657h1v1h-1zM698 658h1v1h-1zM699 659h1v1h-1zM700 660h1v1h-1zM701 658h1v4h-1zM702 654h1v4h-1zM703 650h1v4h-1zM704 647h1v3h-1zM705 645h1v2h-1zM706 644h1v1h-1zM707 643h1v1h-1zM708 642h1v1h-1zM709 642h1v1h-1zM710 642h1v1h-1zM711 643h1v1h-1zM712 643h1v1h-1zM713 644h1v1h-1zM714 644h1v1h-1zM715 645h1v1h-1zM716 645h1v1h-1zM717 645h1v1h-1zM718 645h1v1h-1zM719 645h1v1h-1zM720 644h1v1h-1zM721 643h1v1h-1zM722 643h1v1h-1zM723 643h1v1h-1zM724 643h1v1h-1zM725 643h1v1h-1zM726 643h1v1h-1zM727 642h1v1h-1zM728 642h1v1h-1zM729 641h1v1h-1zM730 641h1v1h-1zM731 641h1v1h-1zM732 642h1v1h-1zM733 642h1v1h-1zM734 643h1v1h-1zM735 644h1v1h-1zM736 645h1v1h-1zM737 646h1v1h-1zM738 647h1v1h-1zM739 648h1v1h-1zM740 648h1v1h-1zM741 649h1v1h-1zM742 648h1v1h-1zM743 647h1v1h-1zM744 646h1v1h-1zM745 645h1v1h-1zM746 644h1v1h-1zM747 643h1v1h-1zM748 643h1v1h-1zM749 642h1v1h-1zM750 642h1v1h-1zM751 642h1v1h-1zM752 643h1v1h-1zM753 643h1v1h-1zM754 643h1v1h-1zM755 643h1v1h-1zM756 644h1v1h-1zM757 644h1v1h-1zM758 643h1v2h-1zM759 642h1v1h-1zM760 641h1v1h-1zM761 640h1v1h-1zM762 640h1v1h-1zM763 641h1v2h-1zM764 643h1v1h-1zM765 644h1v1h-1zM766 644h1v1h-1zM767 645h1v1h-1zM768 645h1v1h-1zM769 645h1v1h-1zM770 646h1v1h-1zM771 646h1v1h-1zM772 646h1v1h-1zM773 646h1v1h-1zM774 646h1v1h-1zM775 646h1v1h-1zM776 646h1v1h-1zM777 646h1v1h-1zM778 646h1v1h-1zM779 646h1v1h-1zM780 646h1v1h-1zM781 646h1v1h-1zM782 647h1v1h-1zM783 648h1v1h-1zM784 649h1v1h-1zM785 649h1v1h-1zM786 650h1v1h-1zM787 651h1v1h-1zM788 651h1v1h-1zM789 652h1v1h-1zM790 652h1v1h-1zM791 653h1v1h-1zM792 653h1v1h-1zM793 654h1v1h-1zM794 654h1v1h-1zM795 653h1v1h-1zM796 652h1v1h-1zM797 651h1v1h-1zM798 650h1v1h-1zM799 650h1v1h-1zM800 651h1v1h-1zM801 651h1v1h-1zM802 650h1v1h-1zM803 649h1v1h-1zM804 648h1v1h-1zM805 647h1v1h-1zM806 646h1v1h-1zM807 646h1v1h-1zM808 647h1v1h-1zM809 647h1v1h-1zM810 648h1v1h-1zM811 648h1v1h-1zM812 649h1v1h-1zM813 649h1v1h-1zM814 648h1v3h-1zM815 646h1v2h-1zM816 643h1v3h-1zM817 641h1v2h-1zM818 640h1v1h-1zM819 640h1v1h-1zM820 640h1v1h-1zM821 640h1v2h-1zM822 642h1v1h-1zM823 643h1v1h-1zM824 644h1v2h-1zM825 646h1v1h-1zM826 647h1v1h-1zM827 647h1v1h-1zM828 647h1v1h-1zM829 647h1v1h-1zM830 647h1v1h-1zM831 647h1v1h-1zM832 647h1v1h-1zM833 647h1v1h-1zM834 647h1v2h-1zM835 649h1v1h-1zM836 650h1v2h-1zM837 652h1v1h-1zM838 653h1v1h-1zM839 654h1v2h-1zM840 656h1v1h-1zM841 657h1v1h-1zM842 658h1v1h-1zM843 659h1v1h-1zM844 659h1v1h-1zM845 660h1v1h-1zM846 661h1v1h-1zM847 661h1v1h-1zM848 661h1v1h-1zM849 662h1v1h-1zM850 662h1v1h-1zM851 662h1v1h-1zM852 662h1v1h-1zM853 662h1v1h-1zM854 662h1v1h-1zM855 662h1v1h-1zM856 663h1v1h-1zM857 664h1v1h-1zM858 664h1v1h-1zM859 665h1v1h-1zM860 665h1v1h-1zM861 666h1v1h-1zM862 666h1v1h-1zM863 667h1v1h-1zM864 667h1v1h-1zM865 668h1v1h-1zM866 668h1v1h-1zM867 668h1v1h-1zM868 668h1v1h-1zM869 668h1v1h-1zM870 668h1v1h-1zM871 668h1v1h-1zM872 669h1v1h-1zM873 668h1v2h-1zM874 667h1v1h-1zM875 665h1v2h-1zM876 663h1v2h-1zM877 661h1v2h-1zM878 658h1v3h-1zM879 655h1v3h-1zM880 653h1v2h-1zM881 652h1v1h-1zM882 651h1v1h-1zM883 652h1v1h-1zM884 653h1v1h-1zM885 654h1v1h-1zM886 655h1v2h-1zM887 657h1v2h-1zM888 659h1v1h-1zM889 660h1v1h-1zM890 659h1v2h-1zM891 657h1v2h-1zM892 655h1v2h-1zM893 653h1v2h-1zM894 652h1v1h-1zM895 651h1v1h-1zM896 650h1v1h-1zM897 649h1v1h-1zM898 649h1v1h-1zM899 648h1v1h-1zM900 648h1v1h-1zM901 648h1v1h-1zM902 648h1v1h-1zM903 647h1v1h-1zM904 647h1v1h-1zM905 646h1v1h-1zM906 646h1v1h-1zM907 645h1v1h-1zM908 644h1v1h-1zM909 644h1v1h-1zM910 645h1v1h-1zM911 646h1v1h-1zM912 647h1v1h-1zM913 648h1v1h-1zM914 649h1v1h-1zM915 649h1v1h-1zM916 650h1v1h-1zM917 650h1v1h-1zM918 650h1v1h-1zM919 650h1v1h-1zM920 651h1v1h-1zM921 651h1v1h-1zM922 651h1v1h-1zM923 650h1v1h-1zM924 650h1v1h-1zM925 650h1v1h-1zM926 651h1v1h-1zM927 651h1v1h-1zM928 652h1v1h-1zM929 653h1v1h-1zM930 653h1v1h-1zM931 654h1v1h-1zM932 655h1v1h-1zM933 656h1v1h-1zM934 652h1v4h-1zM935 648h1v4h-1zM936 644h1v4h-1zM937 643h1v1h-1zM938 643h1v1h-1zM939 644h1v1h-1zM940 644h1v1h-1zM941 645h1v1h-1zM942 644h1v1h-1zM943 643h1v1h-1zM944 641h1v2h-1zM945 640h1v1h-1zM946 640h1v1h-1zM947 640h1v1h-1zM948 640h1v1h-1zM949 640h1v1h-1zM950 640h1v1h-1zM951 640h1v1h-1zM952 641h1v1h-1zM953 641h1v1h-1zM954 642h1v1h-1zM955 642h1v1h-1zM956 643h1v1h-1zM957 644h1v1h-1zM958 644h1v1h-1zM959 644h1v1h-1zM960 644h1v1h-1zM961 644h1v1h-1zM962 644h1v1h-1zM963 645h1v1h-1zM964 645h1v1h-1zM965 646h1v1h-1zM966 646h1v1h-1zM967 647h1v1h-1zM968 648h1v1h-1zM969 649h1v1h-1zM970 649h1v1h-1zM971 648h1v1h-1zM972 648h1v1h-1zM973 648h1v1h-1zM974 648h1v1h-1zM975 649h1v1h-1zM976 650h1v1h-1zM977 651h1v1h-1zM978 648h1v3h-1zM979 646h1v2h-1zM980 643h1v3h-1zM981 641h1v2h-1zM982 640h1v1h-1zM983 639h1v2h-1zM984 638h1v1h-1zM985 638h1v1h-1zM986 637h1v1h-1zM987 637h1v1h-1zM988 637h1v1h-1zM989 637h1v1h-1zM990 636h1v1h-1zM991 634h1v2h-1zM992 633h1v1h-1zM993 632h1v1h-1zM994 633h1v1h-1zM995 634h1v1h-1zM996 635h1v1h-1zM997 635h1v2h-1zM998 634h1v1h-1zM999 633h1v1h-1zM1000 632h1v1h-1zM1001 631h1v1h-1zM1002 631h1v1h-1zM1003 630h1v1h-1zM1004 630h1v1h-1zM1005 630h1v1h-1zM1006 631h1v1h-1zM1007 632h1v1h-1zM1008 633h1v1h-1zM1009 634h1v2h-1zM1010 636h1v2h-1zM1011 638h1v1h-1zM1012 639h1v2h-1zM1013 641h1v1h-1zM1014 640h1v1h-1zM1015 640h1v1h-1zM1016 640h1v1h-1zM1017 639h1v1h-1zM1018 639h1v1h-1zM1019 639h1v1h-1zM1020 639h1v1h-1zM1021 640h1v1h-1zM1022 640h1v1h-1zM1023 641h1v1h-1zM1024 641h1v1h-1zM1025 642h1v1h-1zM1026 641h1v1h-1zM1027 641h1v1h-1zM1028 640h1v1h-1zM1029 639h1v1h-1zM1030 639h1v1h-1zM1031 639h1v1h-1zM1032 640h1v1h-1zM1033 640h1v1h-1zM1034 640h1v1h-1zM1035 639h1v1h-1zM1036 638h1v1h-1zM1037 637h1v1h-1zM1038 637h1v1h-1zM1039 637h1v1h-1zM1040 638h1v1h-1zM1041 638h1v1h-1zM1042 638h1v1h-1zM1043 638h1v1h-1zM1044 637h1v1h-1zM1045 637h1v1h-1zM1046 634h1v3h-1zM1047 632h1v2h-1zM1048 629h1v3h-1zM1049 627h1v2h-1zM1050 626h1v1h-1zM1051 625h1v2h-1zM1052 624h1v1h-1zM1053 623h1v2h-1zM1054 622h1v1h-1zM1055 621h1v2h-1zM1056 620h1v1h-1zM1057 619h1v2h-1zM1058 618h1v1h-1zM1059 618h1v1h-1zM1060 617h1v1h-1zM1061 617h1v1h-1zM1062 616h1v1h-1zM1063 615h1v1h-1zM1064 615h1v1h-1zM1065 615h1v1h-1zM1066 615h1v1h-1zM1067 615h1v1h-1zM1068 615h1v1h-1zM1069 616h1v2h-1zM1070 618h1v1h-1zM1071 619h1v2h-1zM1072 621h1v2h-1zM1073 623h1v1h-1zM1074 624h1v1h-1zM1075 625h1v1h-1zM1076 626h1v1h-1zM1077 627h1v1h-1zM1078 628h1v1h-1zM1079 629h1v1h-1zM1080 630h1v1h-1zM1081 631h1v1h-1zM1082 632h1v1h-1zM1083 633h1v1h-1zM1084 633h1v1h-1zM1085 634h1v1h-1zM1086 634h1v1h-1zM1087 633h1v1h-1zM1088 632h1v1h-1zM1089 631h1v1h-1zM1090 630h1v1h-1zM1091 630h1v1h-1zM1092 630h1v1h-1zM1093 630h1v1h-1zM1094 631h1v2h-1zM1095 633h1v2h-1zM1096 635h1v2h-1zM1097 637h1v1h-1zM1098 638h1v1h-1zM1099 638h1v1h-1zM1100 639h1v1h-1zM1101 639h1v1h-1zM1102 638h1v1h-1zM1103 638h1v1h-1zM1104 637h1v1h-1zM1105 637h1v1h-1zM1106 636h1v1h-1zM1107 636h1v1h-1zM1108 635h1v1h-1zM1109 635h1v2h-1zM1110 637h1v2h-1zM1111 639h1v3h-1zM1112 642h1v2h-1zM1113 644h1v1h-1zM1114 645h1v1h-1zM1115 646h1v1h-1zM1116 646h1v1h-1zM1117 646h1v1h-1zM1118 647h1v1h-1zM1119 646h1v1h-1zM1120 646h1v1h-1zM1121 646h1v1h-1zM1122 644h1v2h-1zM1123 641h1v3h-1zM1124 639h1v2h-1zM1125 638h1v1h-1zM1126 638h1v1h-1zM1127 639h1v1h-1zM1128 639h1v1h-1zM1129 640h1v1h-1zM1130 640h1v1h-1zM1131 639h1v1h-1zM1132 638h1v1h-1zM1133 638h1v1h-1zM1134 637h1v1h-1zM1135 637h1v1h-1zM1136 636h1v1h-1zM1137 636h1v1h-1zM1138 636h1v1h-1zM1139 636h1v1h-1zM1140 636h1v1h-1zM1141 637h1v2h-1zM1142 639h1v1h-1zM1143 640h1v2h-1zM1144 642h1v2h-1zM1145 644h1v1h-1zM1146 645h1v1h-1zM1147 646h1v1h-1zM1148 646h1v1h-1zM1149 647h1v1h-1zM1150 648h1v1h-1zM1151 649h1v1h-1zM1152 650h1v1h-1zM1153 650h1v1h-1zM1154 650h1v1h-1zM1155 649h1v1h-1zM1156 647h1v2h-1zM1157 646h1v1h-1zM1158 645h1v1h-1zM1159 646h1v1h-1zM1160 646h1v1h-1zM1161 646h1v1h-1zM1162 647h1v1h-1zM1163 647h1v1h-1zM1164 648h1v1h-1zM1165 648h1v1h-1zM1166 647h1v1h-1zM1167 646h1v1h-1zM1168 645h1v1h-1zM1169 644h1v1h-1zM1170 643h1v1h-1zM1171 643h1v1h-1zM1172 644h1v1h-1zM1173 644h1v1h-1zM1174 643h1v1h-1zM1175 641h1v2h-1zM1176 640h1v1h-1zM1177 637h1v3h-1zM1178 635h1v2h-1zM1179 632h1v3h-1zM1180 630h1v2h-1zM1181 629h1v1h-1zM1182 629h1v1h-1zM1183 629h1v1h-1zM1184 629h1v1h-1zM1185 629h1v1h-1zM1186 629h1v1h-1zM1187 629h1v1h-1zM1188 629h1v1h-1zM1189 629h1v1h-1zM1190 628h1v1h-1zM1191 627h1v1h-1zM1192 626h1v1h-1zM1193 626h1v1h-1zM1194 627h1v3h-1zM1195 630h1v3h-1zM1196 633h1v2h-1zM1197 635h1v1h-1zM1198 636h1v1h-1zM1199 637h1v1h-1zM1200 637h1v1h-1zM1201 637h1v2h-1zM1202 639h1v1h-1zM1203 640h1v2h-1zM1204 642h1v2h-1zM1205 644h1v1h-1zM1206 645h1v2h-1zM1207 647h1v2h-1zM1208 649h1v1h-1zM1209 650h1v1h-1zM1210 651h1v1h-1zM1211 651h1v1h-1zM1212 651h1v1h-1zM1213 650h1v2h-1zM1214 646h1v4h-1zM1215 642h1v4h-1zM1216 638h1v4h-1zM1217 636h1v2h-1zM1218 635h1v1h-1zM1219 635h1v1h-1zM1220 634h1v1h-1zM1221 633h1v1h-1zM1222 632h1v1h-1zM1223 631h1v1h-1zM1224 630h1v1h-1zM1225 629h1v1h-1zM1226 629h1v1h-1zM1227 630h1v1h-1zM1228 631h1v1h-1zM1229 632h1v1h-1zM1230 633h1v1h-1zM1231 633h1v1h-1zM1232 633h1v1h-1zM1233 633h1v1h-1zM1234 633h1v1h-1zM1235 633h1v1h-1zM1236 634h1v1h-1zM1237 634h1v1h-1zM1238 635h1v1h-1zM1239 635h1v1h-1zM1240 635h1v1h-1zM1241 635h1v1h-1zM1242 635h1v1h-1zM1243 636h1v1h-1zM1244 636h1v1h-1zM1245 637h1v1h-1zM1246 637h1v1h-1zM1247 638h1v1h-1zM1248 638h1v1h-1zM1249 638h1v1h-1zM1250 638h1v1h-1zM1251 638h1v1h-1zM1252 637h1v1h-1zM1253 636h1v1h-1zM1254 636h1v1h-1zM1255 636h1v1h-1zM1256 636h1v1h-1zM1257 636h1v1h-1zM1258 637h1v1h-1zM1259 636h1v1h-1zM1260 636h1v1h-1zM1261 636h1v1h-1zM1262 636h1v1h-1zM1263 635h1v1h-1zM1264 634h1v1h-1zM1265 633h1v1h-1zM1266 632h1v1h-1zM1267 633h1v1h-1zM1268 633h1v1h-1z" fill="#1e90ff"/>
<rect x="5" y="723" width="1" height="2" fill="#c0c0c0"/>
<rect x="9" y="721" width="1" height="3" fill="#c0c0c0"/>
<rect x="13" y="720" width="1" height="4" fill="#c0c0c0"/>
<rect x="17" y="718" width="1" height="6" fill="#c0c0c0"/>
<rect x="21" y="716" width="1" height="8" fill="#c0c0c0"/>
<rect x="25" y="714" width="1" height="10" fill="#c0c0c0"/>
<rect x="29" y="714" width="1" height="10" fill="#c0c0c0"/>
<rect x="33" y="712" width="1" height="12" fill="#c0c0c0"/>
<rect x="37" y="712" width="1" height="12" fill="#c0c0c0"/>
<rect x="41" y="715" width="1" height="9" fill="#c0c0c0"/>
<rect x="45" y="719" width="1" height="5" fill="#c0c0c0"/>
<rect x="49" y="722" width="1" height="2" fill="#c0c0c0"/>
<rect x="53" y="723" width="1" height="2" fill="#c0c0c0"/>
<rect x="57" y="723" width="1" height="3" fill="#c0c0c0"/>
<rect x="61" y="723" width="1" height="4" fill="#c0c0c0"/>
<rect x="65" y="723" width="1" height="5" fill="#c0c0c0"/>
<rect x="69" y="723" width="1" height="7" fill="#c0c0c0"/>
<rect x="73" y="723" width="1" height="9" fill="#c0c0c0"/>
<rect x="77" y="723" width="1" height="10" fill="#c0c0c0"/>
<rect x="81" y="723" width="1" height="12" fill="#c0c0c0"/>
<rect x="85" y="723" width="1" height="13" fill="#c0c0c0"/>
<rect x="89" y="723" width="1" height="15" fill="#c0c0c0"/>
<rect x="93" y="723" width="1" height="17" fill="#c0c0c0"/>
<rect x="97" y="723" width="1" height="18" fill="#c0c0c0"/>
<rect x="101" y="723" width="1" height="20" fill="#c0c0c0"/>
<rect x="105" y="723" width="1" height="18" fill="#c0c0c0"/>
<rect x="109" y="723" width="1" height="18" fill="#c0c0c0"/>
<rect x="113" y="723" width="1" height="18" fill="#c0c0c0"/>
<rect x="117" y="723" width="1" height="18" fill="#c0c0c0"/>
<rect x="121" y="723" width="1" height="19" fill="#c0c0c0"/>
<rect x="125" y="723" width="1" height="19" fill="#c0c0c0"/>
<rect x="129" y="723" width="1" height="20" fill="#c0c0c0"/>
<rect x="133" y="723" width="1" height="21" fill="#c0c0c0"/>
<rect x="137" y="723" width="1" height="25" fill="#c0c0c0"/>
<rect x="141" y="723" width="1" height="28" fill="#c0c0c0"/>
<rect x="145" y="723" width="1" height="30" fill="#c0c0c0"/>
<rect x="149" y="723" width="1" height="31" fill="#c0c0c0"/>
<rect x="153" y="723" width="1" height="29" fill="#c0c0c0"/>
<rect x="157" y="723" width="1" height="28" fill="#c0c0c0"/>
<rect x="161" y="723" width="1" height="27" fill="#c0c0c0"/>
<rect x="165" y="723" width="1" height="26" fill="#c0c0c0"/>
<rect x="169" y="723" width="1" height="25" fill="#c0c0c0"/>
<rect x="173" y="723" width="1" height="23" fill="#c0c0c0"/>
<rect x="177" y="723" width="1" height="22" fill="#c0c0c0"/>
<rect x="181" y="723" width="1" height="21" fill="#c0c0c0"/>
<rect x="185" y="723" width="1" height="20" fill="#c0c0c0"/>
<rect x="189" y="723" width="1" height="21" fill="#c0c0c0"/>
<rect x="193" y="723" width="1" height="21" fill="#c0c0c0"/>
<rect x="197" y="723" width="1" height="21" fill="#c0c0c0"/>
<rect x="201" y="723" width="1" height="19" fill="#c0c0c0"/>
<rect x="205" y="723" width="1" height="18" fill="#c0c0c0"/>
<rect x="209" y="723" width="1" height="18" fill="#c0c0c0"/>
<rect x="213" y="723" width="1" height="17" fill="#c0c0c0"/>
<rect x="217" y="723" width="1" height="16" fill="#c0c0c0"/>
<rect x="221" y="723" width="1" height="15" fill="#c0c0c0"/>
<rect x="225" y="723" width="1" height="14" fill="#c0c0c0"/>
<rect x="229" y="723" width="1" height="12" fill="#c0c0c0"/>
<rect x="233" y="723" width="1" height="10" fill="#c0c0c0"/>
<rect x="237" y="723" width="1" height="8" fill="#c0c0c0"/>
<rect x="241" y="723" width="1" height="6" fill="#c0c0c0"/>
<rect x="245" y="723" width="1" height="7" fill="#c0c0c0"/>
<rect x="249" y="723" width="1" height="9" fill="#c0c0c0"/>
<rect x="253" y="723" width="1" height="10" fill="#c0c0c0"/>
<rect x="257" y="723" width="1" height="9" fill="#c0c0c0"/>
<rect x="261" y="723" width="1" height="8" fill="#c0c0c0"/>
<rect x="265" y="723" width="1" height="7" fill="#c0c0c0"/>
<rect x="269" y="723" width="1" height="5" fill="#c0c0c0"/>
<rect x="277" y="721" width="1" height="3" fill="#c0c0c0"/>
<rect x="281" y="719" width="1" height="5" fill="#c0c0c0"/>
<rect x="285" y="718" width="1" height="6" fill="#c0c0c0"/>
<rect x="289" y="717" width="1" height="7" fill="#c0c0c0"/>
<rect x="293" y="715" width="1" height="9" fill="#c0c0c0"/>
<rect x="297" y="713" width="1" height="11" fill="#c0c0c0"/>
<rect x="301" y="711" width="1" height="13" fill="#c0c0c0"/>
<rect x="305" y="709" width="1" height="15" fill="#c0c0c0"/>
<rect x="309" y="708" width="1" height="16" fill="#c0c0c0"/>
<rect x="313" y="707" width="1" height="17" fill="#c0c0c0"/>
<rect x="317" y="708" width="1" height="16" fill="#c0c0c0"/>
<rect x="321" y="708" width="1" height="16" fill="#c0c0c0"/>
<rect x="325" y="709" width="1" height="15" fill="#c0c0c0"/>
<rect x="329" y="712" width="1" height="12" fill="#c0c0c0"/>
<rect x="333" y="714" width="1" height="10" fill="#c0c0c0"/>
<rect x="337" y="715" width="1" height="9" fill="#c0c0c0"/>
<rect x="341" y="719" width="1" height="5" fill="#c0c0c0"/>
<rect x="349" y="723" width="1" height="5" fill="#c0c0c0"/>
<rect x="353" y="723" width="1" height="11" fill="#c0c0c0"/>
<rect x="357" y="723" width="1" height="18" fill="#c0c0c0"/>
<rect x="361" y="723" width="1" height="23" fill="#c0c0c0"/>
<rect x="365" y="723" width="1" height="29" fill="#c0c0c0"/>
<rect x="369" y="723" width="1" height="39" fill="#c0c0c0"/>
<rect x="373" y="723" width="1" height="48" fill="#c0c0c0"/>
<rect x="377" y="723" width="1" height="56" fill="#c0c0c0"/>
<rect x="381" y="723" width="1" height="61" fill="#c0c0c0"/>
<rect x="385" y="723" width="1" height="62" fill="#c0c0c0"/>
<rect x="389" y="723" width="1" height="55" fill="#c0c0c0"/>
<rect x="393" y="723" width="1" height="48" fill="#c0c0c0"/>
<rect x="397" y="723" width="1" height="42" fill="#c0c0c0"/>
<rect x="401" y="723" width="1" height="40" fill="#c0c0c0"/>
<rect x="405" y="723" width="1" height="31" fill="#c0c0c0"/>
<rect x="409" y="723" width="1" height="19" fill="#c0c0c0"/>
<rect x="413" y="723" width="1" height="5" fill="#c0c0c0"/>
<rect x="417" y="715" width="1" height="9" fill="#c0c0c0"/>
<rect x="421" y="704" width="1" height="20" fill="#c0c0c0"/>
<rect x="425" y="699" width="1" height="25" fill="#c0c0c0"/>
<rect x="429" y="696" width="1" height="28" fill="#c0c0c0"/>
<rect x="433" y="695" width="1" height="29" fill="#c0c0c0"/>
<rect x="437" y="701" width="1" height="23" fill="#c0c0c0"/>
<rect x="441" y="710" width="1" height="14" fill="#c0c0c0"/>
<rect x="445" y="718" width="1" height="6" fill="#c0c0c0"/>
<rect x="449" y="721" width="1" height="3" fill="#c0c0c0"/>
<rect x="453" y="723" width="1" height="1" fill="#c0c0c0"/>
<rect x="457" y="722" width="1" height="2" fill="#c0c0c0"/>
<rect x="461" y="719" width="1" height="5" fill="#c0c0c0"/>
<rect x="465" y="713" width="1" height="11" fill="#c0c0c0"/>
<rect x="469" y="711" width="1" height="13" fill="#c0c0c0"/>
<rect x="473" y="709" width="1" height="15" fill="#c0c0c0"/>
<rect x="477" y="710" width="1" height="14" fill="#c0c0c0"/>
<rect x="481" y="711" width="1" height="13" fill="#c0c0c0"/>
<rect x="485" y="714" width="1" height="10" fill="#c0c0c0"/>
<rect x="489" y="717" width="1" height="7" fill="#c0c0c0"/>
<rect x="493" y="720" width="1" height="4" fill="#c0c0c0"/>
<rect x="497" y="720" width="1" height="4" fill="#c0c0c0"/>
<rect x="505" y="723" width="1" height="1" fill="#c0c0c0"/>
<rect x="529" y="722" width="1" height="2" fill="#c0c0c0"/>
<rect x="533" y="720" width="1" height="4" fill="#c0c0c0"/>
<rect x="537" y="717" width="1" height="7" fill="#c0c0c0"/>
<rect x="541" y="715" width="1" height="9" fill="#c0c0c0"/>
<rect x="545" y="713" width="1" height="11" fill="#c0c0c0"/>
<rect x="549" y="713" width="1" height="11" fill="#c0c0c0"/>
<rect x="553" y="712" width="1" height="12" fill="#c0c0c0"/>
<rect x="557" y="715" width="1" height="9" fill="#c0c0c0"/>
<rect x="561" y="721" width="1" height="3" fill="#c0c0c0"/>
<rect x="565" y="723" width="1" height="2" fill="#c0c0c0"/>
<rect x="569" y="723" width="1" height="4" fill="#c0c0c0"/>
<rect x="573" y="723" width="1" height="2" fill="#c0c0c0"/>
<rect x="577" y="722" width="1" height="2" fill="#c0c0c0"/>
<rect x="581" y="720" width="1" height="4" fill="#c0c0c0"/>
<rect x="585" y="720" width="1" height="4" fill="#c0c0c0"/>
<rect x="589" y="721" width="1" height="3" fill="#c0c0c0"/>
<rect x="593" y="719" width="1" height="5" fill="#c0c0c0"/>
<rect x="597" y="721" width="1" height="3" fill="#c0c0c0"/>
<rect x="601" y="722" width="1" height="2" fill="#c0c0c0"/>
<rect x="605" y="720" width="1" height="4" fill="#c0c0c0"/>
<rect x="609" y="720" width="1" height="4" fill="#c0c0c0"/>
<rect x="613" y="720" width="1" height="4" fill="#c0c0c0"/>
<rect x="617" y="721" width="1" height="3" fill="#c0c0c0"/>
<rect x="621" y="720" width="1" height="4" fill="#c0c0c0"/>
<rect x="625" y="723" width="1" height="1" fill="#c0c0c0"/>
<rect x="633" y="722" width="1" height="2" fill="#c0c0c0"/>
<rect x="637" y="721" width="1" height="3" fill="#c0c0c0"/>
<rect x="641" y="722" width="1" height="2" fill="#c0c0c0"/>
<rect x="653" y="723" width="1" height="3" fill="#c0c0c0"/>
<rect x="657" y="723" width="1" height="7" fill="#c0c0c0"/>
<rect x="661" y="723" width="1" height="9" fill="#c0c0c0"/>
<rect x="665" y="723" width="1" height="11" fill="#c0c0c0"/>
<rect x="669" y="723" width="1" height="12" fill="#c0c0c0"/>
<rect x="673" y="723" width="1" height="13" fill="#c0c0c0"/>
<rect x="677" y="723" width="1" height="16" fill="#c0c0c0"/>
<rect x="681" y="723" width="1" height="16" fill="#c0c0c0"/>
<rect x="685" y="723" width="1" height="14" fill="#c0c0c0"/>
<rect x="689" y="723" width="1" height="17" fill="#c0c0c0"/>
<rect x="693" y="723" width="1" height="22" fill="#c0c0c0"/>
<rect x="697" y="723" width="1" height="27" fill="#c0c0c0"/>
<rect x="701" y="723" width="1" height="34" fill="#c0c0c0"/>
<rect x="705" y="723" width="1" height="33" fill="#c0c0c0"/>
<rect x="709" y="723" width="1" height="31" fill="#c0c0c0"/>
<rect x="713" y="723" width="1" height="30" fill="#c0c0c0"/>
<rect x="717" y="723" width="1" height="30" fill="#c0c0c0"/>
<rect x="721" y="723" width="1" height="29" fill="#c0c0c0"/>
<rect x="725" y="723" width="1" height="28" fill="#c0c0c0"/>
<rect x="729" y="723" width="1" height="26" fill="#c0c0c0"/>
<rect x="733" y="723" width="1" height="24" fill="#c0c0c0"/>
<rect x="737" y="723" width="1" height="24" fill="#c0c0c0"/>
<rect x="741" y="723" width="1" height="25" fill="#c0c0c0"/>
<rect x="745" y="723" width="1" height="25" fill="#c0c0c0"/>
<rect x="749" y="723" width="1" height="24" fill="#c0c0c0"/>
<rect x="753" y="723" width="1" height="23" fill="#c0c0c0"/>
<rect x="757" y="723" width="1" height="22" fill="#c0c0c0"/>
<rect x="761" y="723" width="1" height="21" fill="#c0c0c0"/>
<rect x="765" y="723" width="1" height="20" fill="#c0c0c0"/>
<rect x="769" y="723" width="1" height="20" fill="#c0c0c0"/>
<rect x="773" y="723" width="1" height="20" fill="#c0c0c0"/>
<rect x="777" y="723" width="1" height="20" fill="#c0c0c0"/>
<rect x="781" y="723" width="1" height="21" fill="#c0c0c0"/>
<rect x="785" y="723" width="1" height="22" fill="#c0c0c0"/>
<rect x="789" y="723" width="1" height="23" fill="#c0c0c0"/>
<rect x="793" y="723" width="1" height="24" fill="#c0c0c0"/>
<rect x="797" y="723" width="1" height="24" fill="#c0c0c0"/>
<rect x="801" y="723" width="1" height="23" fill="#c0c0c0"/>
<rect x="805" y="723" width="1" height="22" fill="#c0c0c0"/>
<rect x="809" y="723" width="1" height="21" fill="#c0c0c0"/>
<rect x="813" y="723" width="1" height="20" fill="#c0c0c0"/>
<rect x="817" y="723" width="1" height="19" fill="#c0c0c0"/>
<rect x="821" y="723" width="1" height="18" fill="#c0c0c0"/>
<rect x="825" y="723" width="1" height="18" fill="#c0c0c0"/>
<rect x="829" y="723" width="1" height="18" fill="#c0c0c0"/>
<rect x="833" y="723" width="1" height="18" fill="#c0c0c0"/>
<rect x="837" y="723" width="1" height="20" fill="#c0c0c0"/>
<rect x="841" y="723" width="1" height="24" fill="#c0c0c0"/>
<rect x="845" y="723" width="1" height="28" fill="#c0c0c0"/>
<rect x="849" y="723" width="1" height="32" fill="#c0c0c0"/>
<rect x="853" y="723" width="1" height="36" fill="#c0c0c0"/>
<rect x="857" y="723" width="1" height="38" fill="#c0c0c0"/>
<rect x="861" y="723" width="1" height="42" fill="#c0c0c0"/>
<rect x="865" y="723" width="1" height="45" fill="#c0c0c0"/>
<rect x="869" y="723" width="1" height="48" fill="#c0c0c0"/>
<rect x="873" y="723" width="1" height="51" fill="#c0c0c0"/>
<rect x="877" y="723" width="1" height="51" fill="#c0c0c0"/>
<rect x="881" y="723" width="1" height="48" fill="#c0c0c0"/>
<rect x="885" y="723" width="1" height="47" fill="#c0c0c0"/>
<rect x="889" y="723" width="1" height="49" fill="#c0c0c0"/>
<rect x="893" y="723" width="1" height="48" fill="#c0c0c0"/>
<rect x="897" y="723" width="1" height="47" fill="#c0c0c0"/>
<rect x="901" y="723" width="1" height="45" fill="#c0c0c0"/>
<rect x="905" y="723" width="1" height="40" fill="#c0c0c0"/>
<rect x="909" y="723" width="1" height="37" fill="#c0c0c0"/>
<rect x="913" y="723" width="1" height="37" fill="#c0c0c0"/>
<rect x="917" y="723" width="1" height="37" fill="#c0c0c0"/>
<rect x="921" y="723" width="1" height="37" fill="#c0c0c0"/>
<rect x="925" y="723" width="1" height="36" fill="#c0c0c0"/>
<rect x="929" y="723" width="1" height="35" fill="#c0c0c0"/>
<rect x="933" y="723" width="1" height="35" fill="#c0c0c0"/>
<rect x="937" y="723" width="1" height="34" fill="#c0c0c0"/>
<rect x="941" y="723" width="1" height="32" fill="#c0c0c0"/>
<rect x="945" y="723" width="1" height="28" fill="#c0c0c0"/>
<rect x="949" y="723" width="1" height="26" fill="#c0c0c0"/>
<rect x="953" y="723" width="1" height="25" fill="#c0c0c0"/>
<rect x="957" y="723" width="1" height="24" fill="#c0c0c0"/>
<rect x="961" y="723" width="1" height="23" fill="#c0c0c0"/>
<rect x="965" y="723" width="1" height="22" fill="#c0c0c0"/>
<rect x="969" y="723" width="1" height="22" fill="#c0c0c0"/>
<rect x="973" y="723" width="1" height="24" fill="#c0c0c0"/>
<rect x="977" y="723" width="1" height="25" fill="#c0c0c0"/>
<rect x="981" y="723" width="1" height="25" fill="#c0c0c0"/>
<rect x="985" y="723" width="1" height="22" fill="#c0c0c0"/>
<rect x="989" y="723" width="1" height="17" fill="#c0c0c0"/>
<rect x="993" y="723" width="1" height="13" fill="#c0c0c0"/>
<rect x="997" y="723" width="1" height="10" fill="#c0c0c0"/>
<rect x="1001" y="723" width="1" height="7" fill="#c0c0c0"/>
<rect x="1005" y="723" width="1" height="3" fill="#c0c0c0"/>
<rect x="1009" y="723" width="1" height="2" fill="#c0c0c0"/>
<rect x="1013" y="723" width="1" height="4" fill="#c0c0c0"/>
<rect x="1017" y="723" width="1" height="5" fill="#c0c0c0"/>
<rect x="1021" y="723" width="1" height="6" fill="#c0c0c0"/>
<rect x="1025" y="723" width="1" height="7" fill="#c0c0c0"/>
<rect x="1029" y="723" width="1" height="7" fill="#c0c0c0"/>
<rect x="1033" y="723" width="1" height="7" fill="#c0c0c0"/>
<rect x="1037" y="723" width="1" height="7" fill="#c0c0c0"/>
<rect x="1041" y="723" width="1" height="7" fill="#c0c0c0"/>
<rect x="1045" y="723" width="1" height="6" fill="#c0c0c0"/>
<rect x="1049" y="723" width="1" height="2" fill="#c0c0c0"/>
<rect x="1053" y="721" width="1" height="3" fill="#c0c0c0"/>
<rect x="1057" y="716" width="1" height="8" fill="#c0c0c0"/>
<rect x="1061" y="711" width="1" height="13" fill="#c0c0c0"/>
<rect x="1065" y="706" width="1" height="18" fill="#c0c0c0"/>
<rect x="1069" y="702" width="1" height="22" fill="#c0c0c0"/>
<rect x="1073" y="701" width="1" height="23" fill="#c0c0c0"/>
<rect x="1077" y="703" width="1" height="21" fill="#c0c0c0"/>
<rect x="1081" y="705" width="1" height="19" fill="#c0c0c0"/>
<rect x="1085" y="707" width="1" height="17" fill="#c0c0c0"/>
<rect x="1089" y="708" width="1" height="16" fill="#c0c0c0"/>
<rect x="1093" y="709" width="1" height="15" fill="#c0c0c0"/>
<rect x="1097" y="712" width="1" height="12" fill="#c0c0c0"/>
<rect x="1101" y="715" width="1" height="9" fill="#c0c0c0"/>
<rect x="1105" y="717" width="1" height="7" fill="#c0c0c0"/>
<rect x="1109" y="717" width="1" height="7" fill="#c0c0c0"/>
<rect x="1113" y="722" width="1" height="2" fill="#c0c0c0"/>
<rect x="1121" y="723" width="1" height="5" fill="#c0c0c0"/>
<rect x="1125" y="723" width="1" height="5" fill="#c0c0c0"/>
<rect x="1129" y="723" width="1" height="5" fill="#c0c0c0"/>
<rect x="1133" y="723" width="1" height="5" fill="#c0c0c0"/>
<rect x="1137" y="723" width="1" height="4" fill="#c0c0c0"/>
<rect x="1141" y="723" width="1" height="4" fill="#c0c0c0"/>
<rect x="1145" y="723" width="1" height="6" fill="#c0c0c0"/>
<rect x="1149" y="723" width="1" height="9" fill="#c0c0c0"/>
<rect x="1153" y="723" width="1" height="12" fill="#c0c0c0"/>
<rect x="1157" y="723" width="1" height="13" fill="#c0c0c0"/>
<rect x="1161" y="723" width="1" height="15" fill="#c0c0c0"/>
<rect x="1165" y="723" width="1" height="16" fill="#c0c0c0"/>
<rect x="1169" y="723" width="1" height="16" fill="#c0c0c0"/>
<rect x="1173" y="723" width="1" height="15" fill="#c0c0c0"/>
<rect x="1177" y="723" width="1" height="13" fill="#c0c0c0"/>
<rect x="1181" y="723" width="1" height="9" fill="#c0c0c0"/>
<rect x="1185" y="723" width="1" height="5" fill="#c0c0c0"/>
<rect x="1189" y="723" width="1" height="2" fill="#c0c0c0"/>
<rect x="1193" y="722" width="1" height="2" fill="#c0c0c0"/>
<rect x="1197" y="723" width="1" height="1" fill="#c0c0c0"/>
<rect x="1205" y="723" width="1" height="2" fill="#c0c0c0"/>
<rect x="1209" y="723" width="1" height="8" fill="#c0c0c0"/>
<rect x="1213" y="723" width="1" height="13" fill="#c0c0c0"/>
<rect x="1217" y="723" width="1" height="11" fill="#c0c0c0"/>
<rect x="1221" y="723" width="1" height="7" fill="#c0c0c0"/>
<rect x="1225" y="723" width="1" height="2" fill="#c0c0c0"/>
<rect x="1249" y="723" width="1" height="2" fill="#c0c0c0"/>
<rect x="1253" y="723" width="1" height="2" fill="#c0c0c0"/>
<rect x="1257" y="723" width="1" height="2" fill="#c0c0c0"/>
<rect x="1269" y="722" width="1" height="2" fill="#c0c0c0"/>
<path d="M5 725h1v1h-1zM6 725h1v1h-1zM7 724h1v1h-1zM11 724h1v1h-1zM12 724h1v1h-1zM13 724h1v1h-1zM17 723h1v1h-1zM18 723h1v1h-1zM19 723h1v1h-1zM23 722h1v1h-1zM24 721h1v1h-1zM25 721h1v1h-1zM29 720h1v1h-1zM30 720h1v1h-1zM31 719h1v1h-1zM35 718h1v1h-1zM36 718h1v1h-1zM37 717h1v1h-1zM41 716h1v1h-1zM42 716h1v1h-1zM43 716h1v1h-1zM47 716h1v1h-1zM48 716h1v1h-1zM49 716h1v1h-1zM53 716h1v1h-1zM54 716h1v1h-1zM55 716h1v1h-1zM59 718h1v1h-1zM60 718h1v1h-1zM61 718h1v1h-1zM65 720h1v1h-1zM66 721h1v1h-1zM67 722h1v1h-1zM71 724h1v1h-1zM72 724h1v1h-1zM73 725h1v1h-1zM77 727h1v1h-1zM78 727h1v1h-1zM79 727h1v1h-1zM83 729h1v1h-1zM84 729h1v1h-1zM85 730h1v1h-1zM89 731h1v1h-1zM90 731h1v1h-1zM91 732h1v1h-1zM95 733h1v1h-1zM96 734h1v1h-1zM97 734h1v1h-1zM101 736h1v1h-1zM102 736h1v1h-1zM103 736h1v1h-1zM107 738h1v1h-1zM108 738h1v1h-1zM109 738h1v1h-1zM113 739h1v1h-1zM114 739h1v1h-1zM115 739h1v1h-1zM119 740h1v1h-1zM120 740h1v1h-1zM121 740h1v1h-1zM125 740h1v1h-1zM126 741h1v1h-1zM127 741h1v1h-1zM131 741h1v1h-1zM132 741h1v1h-1zM133 741h1v1h-1zM137 742h1v1h-1zM138 742h1v1h-1zM139 742h1v1h-1zM143 743h1v1h-1zM144 744h1v1h-1zM145 744h1v1h-1zM149 746h1v1h-1zM150 746h1v1h-1zM151 746h1v1h-1zM155 748h1v1h-1zM156 748h1v1h-1zM157 749h1v1h-1zM161 749h1v1h-1zM162 750h1v1h-1zM163 750h1v1h-1zM167 750h1v1h-1zM168 750h1v1h-1zM169 750h1v1h-1zM173 750h1v1h-1zM174 750h1v1h-1zM175 750h1v1h-1zM179 749h1v1h-1zM180 749h1v1h-1zM181 749h1v1h-1zM185 748h1v1h-1zM186 747h1v1h-1zM187 747h1v1h-1zM191 746h1v1h-1zM192 746h1v1h-1zM193 745h1v1h-1zM197 745h1v1h-1zM198 745h1v1h-1zM199 745h1v1h-1zM203 744h1v1h-1zM204 744h1v1h-1zM205 744h1v1h-1zM209 744h1v1h-1zM210 744h1v1h-1zM211 743h1v1h-1zM215 743h1v1h-1zM216 743h1v1h-1zM217 743h1v1h-1zM221 743h1v1h-1zM222 743h1v1h-1zM223 743h1v1h-1zM227 741h1v1h-1zM228 741h1v1h-1zM229 741h1v1h-1zM233 739h1v1h-1zM234 739h1v1h-1zM235 739h1v1h-1zM239 737h1v1h-1zM240 737h1v1h-1zM241 737h1v1h-1zM245 735h1v1h-1zM246 734h1v1h-1zM247 734h1v1h-1zM251 733h1v1h-1zM252 733h1v1h-1zM253 733h1v1h-1zM257 733h1v1h-1zM258 732h1v1h-1zM259 732h1v1h-1zM263 732h1v1h-1zM264 732h1v1h-1zM265 732h1v1h-1zM269 731h1v1h-1zM270 731h1v1h-1zM271 731h1v1h-1zM275 730h1v1h-1zM276 730h1v1h-1zM277 729h1v1h-1zM281 728h1v1h-1zM282 728h1v1h-1zM283 727h1v1h-1zM287 726h1v1h-1zM288 725h1v1h-1zM289 724h1v1h-1zM293 722h1v1h-1zM294 722h1v1h-1zM295 721h1v1h-1zM299 719h1v1h-1zM300 718h1v1h-1zM301 718h1v1h-1zM305 716h1v1h-1zM306 716h1v1h-1zM307 715h1v1h-1zM311 713h1v1h-1zM312 713h1v1h-1zM313 712h1v1h-1zM317 711h1v1h-1zM318 710h1v1h-1zM319 710h1v1h-1zM323 709h1v1h-1zM324 709h1v1h-1zM325 709h1v1h-1zM329 709h1v1h-1zM330 709h1v1h-1zM331 709h1v1h-1zM335 709h1v1h-1zM336 709h1v1h-1zM337 709h1v1h-1zM341 710h1v1h-1zM342 710h1v1h-1zM343 711h1v1h-1zM347 713h1v1h-1zM348 714h1v1h-1zM349 714h1v1h-1zM353 717h1v1h-1zM354 718h1v1h-1zM355 719h1v1h-1zM359 723h1v1h-1zM360 724h1v1h-1zM361 725h1v1h-1zM364 729h1v1h-1zM365 730h1v1h-1zM366 731h1v1h-1zM368 735h1v1h-1zM369 736h1v1h-1zM370 737h1v1h-1zM372 741h1v1h-1zM373 742h1v1h-1zM374 743h1v1h-1zM376 747h1v1h-1zM377 748h1v1h-1zM378 749h1v1h-1zM380 753h1v1h-1zM381 754h1v1h-1zM382 755h1v1h-1zM384 759h1v1h-1zM385 760h1v1h-1zM386 761h1v1h-1zM389 765h1v1h-1zM390 766h1v1h-1zM391 767h1v1h-1zM395 770h1v1h-1zM396 771h1v1h-1zM397 771h1v1h-1zM401 772h1v1h-1zM402 771h1v1h-1zM403 771h1v1h-1zM407 770h1v1h-1zM408 769h1v1h-1zM409 768h1v1h-1zM413 764h1v1h-1zM413 763h1v1h-1zM414 762h1v1h-1zM416 758h1v1h-1zM416 757h1v1h-1zM417 756h1v1h-1zM419 752h1v1h-1zM419 751h1v1h-1zM419 750h1v1h-1zM421 746h1v1h-1zM421 745h1v1h-1zM422 744h1v1h-1zM423 740h1v1h-1zM424 739h1v1h-1zM424 738h1v1h-1zM426 734h1v1h-1zM427 733h1v1h-1zM427 732h1v1h-1zM429 728h1v1h-1zM430 727h1v1h-1zM430 726h1v1h-1zM433 722h1v1h-1zM433 721h1v1h-1zM434 720h1v1h-1zM436 716h1v1h-1zM437 715h1v1h-1zM437 714h1v1h-1zM441 710h1v1h-1zM442 709h1v1h-1zM443 708h1v1h-1zM447 706h1v1h-1zM448 706h1v1h-1zM449 706h1v1h-1zM453 706h1v1h-1zM454 707h1v1h-1zM455 707h1v1h-1zM459 709h1v1h-1zM460 710h1v1h-1zM461 710h1v1h-1zM465 713h1v1h-1zM466 713h1v1h-1zM467 714h1v1h-1zM471 715h1v1h-1zM472 715h1v1h-1zM473 715h1v1h-1zM477 715h1v1h-1zM478 715h1v1h-1zM479 715h1v1h-1zM483 715h1v1h-1zM484 715h1v1h-1zM485 714h1v1h-1zM489 714h1v1h-1zM490 714h1v1h-1zM491 714h1v1h-1zM495 714h1v1h-1zM496 714h1v1h-1zM497 714h1v1h-1zM501 714h1v1h-1zM502 715h1v1h-1zM503 715h1v1h-1zM507 716h1v1h-1zM508 717h1v1h-1zM509 717h1v1h-1zM513 718h1v1h-1zM514 719h1v1h-1zM515 719h1v1h-1zM519 720h1v1h-1zM520 721h1v1h-1zM521 721h1v1h-1zM525 722h1v1h-1zM526 722h1v1h-1zM527 722h1v1h-1zM531 723h1v1h-1zM532 722h1v1h-1zM533 722h1v1h-1zM537 722h1v1h-1zM538 722h1v1h-1zM539 721h1v1h-1zM543 720h1v1h-1zM544 720h1v1h-1zM545 719h1v1h-1zM549 718h1v1h-1zM550 718h1v1h-1zM551 718h1v1h-1zM555 717h1v1h-1zM556 716h1v1h-1zM557 716h1v1h-1zM561 716h1v1h-1zM562 716h1v1h-1zM563 716h1v1h-1zM567 716h1v1h-1zM568 717h1v1h-1zM569 717h1v1h-1zM573 717h1v1h-1zM574 717h1v1h-1zM575 718h1v1h-1zM579 719h1v1h-1zM580 719h1v1h-1zM581 719h1v1h-1zM585 720h1v1h-1zM586 721h1v1h-1zM587 721h1v1h-1zM591 721h1v1h-1zM592 721h1v1h-1zM593 721h1v1h-1zM597 721h1v1h-1zM598 721h1v1h-1zM599 721h1v1h-1zM603 721h1v1h-1zM604 721h1v1h-1zM605 720h1v1h-1zM609 720h1v1h-1zM610 720h1v1h-1zM611 720h1v1h-1zM615 720h1v1h-1zM616 720h1v1h-1zM617 720h1v1h-1zM621 720h1v1h-1zM622 720h1v1h-1zM623 720h1v1h-1zM627 720h1v1h-1zM628 720h1v1h-1zM629 720h1v1h-1zM633 720h1v1h-1zM634 720h1v1h-1zM635 720h1v1h-1zM639 721h1v1h-1zM640 721h1v1h-1zM641 721h1v1h-1zM645 721h1v1h-1zM646 721h1v1h-1zM647 721h1v1h-1zM651 722h1v1h-1zM652 722h1v1h-1zM653 722h1v1h-1zM657 724h1v1h-1zM658 724h1v1h-1zM659 724h1v1h-1zM663 725h1v1h-1zM664 725h1v1h-1zM665 726h1v1h-1zM669 727h1v1h-1zM670 727h1v1h-1zM671 728h1v1h-1zM675 729h1v1h-1zM676 729h1v1h-1zM677 730h1v1h-1zM681 732h1v1h-1zM682 732h1v1h-1zM683 732h1v1h-1zM687 734h1v1h-1zM688 735h1v1h-1zM689 736h1v1h-1zM693 737h1v1h-1zM694 738h1v1h-1zM695 738h1v1h-1zM699 740h1v1h-1zM700 741h1v1h-1zM701 742h1v1h-1zM705 744h1v1h-1zM706 745h1v1h-1zM707 745h1v1h-1zM711 746h1v1h-1zM712 747h1v1h-1zM713 747h1v1h-1zM717 749h1v1h-1zM718 749h1v1h-1zM719 749h1v1h-1zM723 750h1v1h-1zM724 751h1v1h-1zM725 751h1v1h-1zM729 752h1v1h-1zM730 752h1v1h-1zM731 751h1v1h-1zM735 750h1v1h-1zM736 750h1v1h-1zM737 750h1v1h-1zM741 750h1v1h-1zM742 750h1v1h-1zM743 750h1v1h-1zM747 749h1v1h-1zM748 749h1v1h-1zM749 748h1v1h-1zM753 748h1v1h-1zM754 747h1v1h-1zM755 747h1v1h-1zM759 746h1v1h-1zM760 746h1v1h-1zM761 746h1v1h-1zM765 745h1v1h-1zM766 745h1v1h-1zM767 745h1v1h-1zM771 745h1v1h-1zM772 745h1v1h-1zM773 744h1v1h-1zM777 744h1v1h-1zM778 744h1v1h-1zM779 744h1v1h-1zM783 744h1v1h-1zM784 744h1v1h-1zM785 744h1v1h-1zM789 744h1v1h-1zM790 744h1v1h-1zM791 744h1v1h-1zM795 744h1v1h-1zM796 744h1v1h-1zM797 744h1v1h-1zM801 744h1v1h-1zM802 744h1v1h-1zM803 744h1v1h-1zM807 744h1v1h-1zM808 744h1v1h-1zM809 744h1v1h-1zM813 744h1v1h-1zM814 744h1v1h-1zM815 744h1v1h-1zM819 744h1v1h-1zM820 744h1v1h-1zM821 744h1v1h-1zM825 744h1v1h-1zM826 743h1v1h-1zM827 743h1v1h-1zM831 743h1v1h-1zM832 743h1v1h-1zM833 743h1v1h-1zM837 743h1v1h-1zM838 743h1v1h-1zM839 743h1v1h-1zM843 743h1v1h-1zM844 743h1v1h-1zM845 743h1v1h-1zM849 744h1v1h-1zM850 744h1v1h-1zM851 745h1v1h-1zM855 747h1v1h-1zM856 748h1v1h-1zM857 748h1v1h-1zM861 751h1v1h-1zM862 752h1v1h-1zM863 752h1v1h-1zM867 756h1v1h-1zM868 756h1v1h-1zM869 757h1v1h-1zM873 760h1v1h-1zM874 761h1v1h-1zM875 761h1v1h-1zM879 764h1v1h-1zM880 764h1v1h-1zM881 765h1v1h-1zM885 766h1v1h-1zM886 767h1v1h-1zM887 767h1v1h-1zM891 769h1v1h-1zM892 769h1v1h-1zM893 769h1v1h-1zM897 770h1v1h-1zM898 770h1v1h-1zM899 770h1v1h-1zM903 769h1v1h-1zM904 769h1v1h-1zM905 769h1v1h-1zM909 768h1v1h-1zM910 767h1v1h-1zM911 767h1v1h-1zM915 766h1v1h-1zM916 765h1v1h-1zM917 765h1v1h-1zM921 764h1v1h-1zM922 764h1v1h-1zM923 763h1v1h-1zM927 762h1v1h-1zM928 762h1v1h-1zM929 762h1v1h-1zM933 760h1v1h-1zM934 760h1v1h-1zM935 760h1v1h-1zM939 759h1v1h-1zM940 758h1v1h-1zM941 758h1v1h-1zM945 757h1v1h-1zM946 757h1v1h-1zM947 757h1v1h-1zM951 756h1v1h-1zM952 755h1v1h-1zM953 755h1v1h-1zM957 753h1v1h-1zM958 753h1v1h-1zM959 753h1v1h-1zM963 751h1v1h-1zM964 751h1v1h-1zM965 750h1v1h-1zM969 749h1v1h-1zM970 748h1v1h-1zM971 748h1v1h-1zM975 747h1v1h-1zM976 747h1v1h-1zM977 747h1v1h-1zM981 746h1v1h-1zM982 746h1v1h-1zM983 746h1v1h-1zM987 745h1v1h-1zM988 744h1v1h-1zM989 744h1v1h-1zM993 743h1v1h-1zM994 742h1v1h-1zM995 742h1v1h-1zM999 740h1v1h-1zM1000 740h1v1h-1zM1001 740h1v1h-1zM1005 738h1v1h-1zM1006 737h1v1h-1zM1007 736h1v1h-1zM1011 735h1v1h-1zM1012 734h1v1h-1zM1013 734h1v1h-1zM1017 732h1v1h-1zM1018 731h1v1h-1zM1019 731h1v1h-1zM1023 729h1v1h-1zM1024 729h1v1h-1zM1025 729h1v1h-1zM1029 728h1v1h-1zM1030 728h1v1h-1zM1031 728h1v1h-1zM1035 728h1v1h-1zM1036 728h1v1h-1zM1037 728h1v1h-1zM1041 728h1v1h-1zM1042 728h1v1h-1zM1043 728h1v1h-1zM1047 727h1v1h-1zM1048 727h1v1h-1zM1049 727h1v1h-1zM1053 727h1v1h-1zM1054 726h1v1h-1zM1055 726h1v1h-1zM1059 725h1v1h-1zM1060 724h1v1h-1zM1061 724h1v1h-1zM1065 721h1v1h-1zM1066 721h1v1h-1zM1067 720h1v1h-1zM1071 717h1v1h-1zM1072 716h1v1h-1zM1073 716h1v1h-1zM1077 713h1v1h-1zM1078 712h1v1h-1zM1079 711h1v1h-1zM1083 708h1v1h-1zM1084 708h1v1h-1zM1085 708h1v1h-1zM1089 706h1v1h-1zM1090 706h1v1h-1zM1091 706h1v1h-1zM1095 705h1v1h-1zM1096 705h1v1h-1zM1097 706h1v1h-1zM1101 707h1v1h-1zM1102 707h1v1h-1zM1103 707h1v1h-1zM1107 708h1v1h-1zM1108 708h1v1h-1zM1109 709h1v1h-1zM1113 711h1v1h-1zM1114 712h1v1h-1zM1115 713h1v1h-1zM1119 715h1v1h-1zM1120 716h1v1h-1zM1121 716h1v1h-1zM1125 718h1v1h-1zM1126 719h1v1h-1zM1127 719h1v1h-1zM1131 721h1v1h-1zM1132 722h1v1h-1zM1133 722h1v1h-1zM1137 724h1v1h-1zM1138 724h1v1h-1zM1139 724h1v1h-1zM1143 726h1v1h-1zM1144 726h1v1h-1zM1145 726h1v1h-1zM1149 727h1v1h-1zM1150 727h1v1h-1zM1151 727h1v1h-1zM1155 728h1v1h-1zM1156 728h1v1h-1zM1157 729h1v1h-1zM1161 730h1v1h-1zM1162 730h1v1h-1zM1163 730h1v1h-1zM1167 732h1v1h-1zM1168 732h1v1h-1zM1169 733h1v1h-1zM1173 735h1v1h-1zM1174 735h1v1h-1zM1175 735h1v1h-1zM1179 736h1v1h-1zM1180 736h1v1h-1zM1181 735h1v1h-1zM1185 735h1v1h-1zM1186 735h1v1h-1zM1187 734h1v1h-1zM1191 733h1v1h-1zM1192 732h1v1h-1zM1193 732h1v1h-1zM1197 731h1v1h-1zM1198 731h1v1h-1zM1199 730h1v1h-1zM1203 729h1v1h-1zM1204 729h1v1h-1zM1205 728h1v1h-1zM1209 728h1v1h-1zM1210 728h1v1h-1zM1211 728h1v1h-1zM1215 728h1v1h-1zM1216 728h1v1h-1zM1217 728h1v1h-1zM1221 728h1v1h-1zM1222 727h1v1h-1zM1223 727h1v1h-1zM1227 727h1v1h-1zM1228 727h1v1h-1zM1229 727h1v1h-1zM1233 728h1v1h-1zM1234 728h1v1h-1zM1235 728h1v1h-1zM1239 728h1v1h-1zM1240 727h1v1h-1zM1241 727h1v1h-1zM1245 726h1v1h-1zM1246 726h1v1h-1zM1247 726h1v1h-1zM1251 725h1v1h-1zM1252 725h1v1h-1zM1253 724h1v1h-1zM1257 723h1v1h-1zM1258 723h1v1h-1zM1259 723h1v1h-1zM1263 723h1v1h-1zM1264 723h1v1h-1zM1265 723h1v1h-1z" fill="#ff0000"/>
<rect x="0" y="810" width="1641" height="25" fill="#f0f0f0"/>
<rect x="0" y="810" width="1641" height="1" fill="#e3e3e3"/>
<rect x="0" y="812" width="1641" height="1" fill="#000"/>
<rect x="0" y="813" width="1" height="19" fill="#a0a0a0"/><rect x="1" y="813" width="1" height="18" fill="#696969"/>
<rect x="110" y="812" width="100" height="19" fill="#fff"/>
<rect x="110" y="812" width="1" height="19" fill="#000"/><rect x="209" y="812" width="1" height="19" fill="#000"/><rect x="110" y="830" width="100" height="1" fill="#000"/>
<rect x="111" y="812" width="98" height="1" fill="#fff"/>
<rect x="0" y="832" width="1641" height="3" fill="#f5f5f5"/>
<rect x="314" y="816" width="1" height="13" fill="#808080"/>
<rect x="418" y="816" width="1" height="13" fill="#808080"/>
<rect x="522" y="816" width="1" height="13" fill="#808080"/>
<rect x="626" y="816" width="1" height="13" fill="#808080"/>
<rect x="718" y="816" width="1" height="13" fill="#808080"/>
<rect x="822" y="816" width="1" height="13" fill="#808080"/>
<rect x="894" y="816" width="1" height="13" fill="#808080"/>
<rect x="974" y="816" width="1" height="13" fill="#808080"/>
<rect x="1054" y="816" width="1" height="13" fill="#808080"/>
<rect x="1134" y="816" width="1" height="13" fill="#808080"/>
<rect x="1210" y="816" width="1" height="13" fill="#808080"/>
<rect x="1282" y="816" width="1" height="13" fill="#808080"/>
<rect x="1366" y="816" width="1" height="13" fill="#808080"/>
<rect x="1446" y="816" width="1" height="13" fill="#808080"/>
<rect x="1546" y="816" width="1" height="13" fill="#808080"/>
<polygon points="1617,819 1617,826 1613,822.5" fill="#a0a0a0" shape-rendering="auto"/>
<polygon points="1631,819 1631,826 1635,822.5" fill="#000" shape-rendering="auto"/>
<polygon points="8,33 15,33 11.5,37" fill="#000" shape-rendering="auto"/>
</svg>
<div class="tb" style="left:44.5px">M1</div>
<div class="tb" style="left:72.4px">M5</div>
<div class="tb" style="left:98.3px">M15</div>
<div class="tb" style="left:126.5px">M30</div>
<div class="tb" style="left:157.6px">H1</div>
<div class="tb" style="left:184.4px">H4</div>
<div class="tb" style="left:213.5px">D1</div>
<div class="tb" style="left:241px">W1</div>
<div class="tb" style="left:267.5px">MN</div>
<div class="t" style="left:20px;top:30px">USDCHF,Daily&nbsp; 0.91367 0.91470 0.91173 0.91244</div>
<div class="t" style="left:9px;top:589px;letter-spacing:-0.1px">RSI(14) 51.2213</div>
<div class="t" style="left:9px;top:693px;letter-spacing:-0.07px">MACD(12,26,9) 0.000168 0.000046</div>
<div class="ax" style="top:46px">1.00270</div>
<div class="ax" style="top:79px">0.99610</div>
<div class="ax" style="top:112px">0.98950</div>
<div class="ax" style="top:145px">0.98270</div>
<div class="ax" style="top:178px">0.97610</div>
<div class="ax" style="top:211px">0.96930</div>
<div class="ax" style="top:244px">0.96270</div>
<div class="ax" style="top:277px">0.95610</div>
<div class="ax" style="top:310px">0.94930</div>
<div class="ax" style="top:343px">0.94270</div>
<div class="ax" style="top:376px">0.93610</div>
<div class="ax" style="top:409px">0.92950</div>
<div class="ax" style="top:442px">0.92270</div>
<div class="ax" style="top:475px">0.91610</div>
<div class="ax" style="top:508px">0.90930</div>
<div class="ax" style="top:541px">0.90270</div>
<div class="ax" style="top:574px">0.89610</div>
<div class="ax" style="left:1600.6px;top:586px">100</div>
<div class="ax" style="left:1599.8px;top:610px">70</div>
<div class="ax" style="left:1599.8px;top:650px">30</div>
<div class="ax" style="left:1600.6px;top:674px">0</div>
<div class="ax" style="left:1600.6px;top:690px">0.005818</div>
<div class="ax" style="left:1600.6px;top:718px">0.00</div>
<div class="ax" style="left:1600.6px;top:778px">-0.011514</div>
<div class="lb" style="top:269px;background:#ff0000"><span>0.95756</span></div>
<div class="lb" style="top:335px;background:#ff0000"><span>0.94406</span></div>
<div class="lb" style="top:404px;background:#ff0000"><span>0.93016</span></div>
<div class="lb" style="top:469px;background:#00ff00"><span>0.91706</span></div>
<div class="lb" style="top:493px;background:#000"><span>0.91244</span></div>
<div class="lb" style="top:552px;background:#0000ff"><span>0.90018</span></div>
<div class="dt" style="left:4px">21 Nov 2019</div>
<div class="dt" style="left:68px">10 Dec 2019</div>
<div class="dt" style="left:132px">28 Dec 2019</div>
<div class="dt" style="left:196px">16 Jan 2020</div>
<div class="dt" style="left:260px">4 Feb 2020</div>
<div class="dt" style="left:324px">22 Feb 2020</div>
<div class="dt" style="left:388px">12 Mar 2020</div>
<div class="dt" style="left:452px">31 Mar 2020</div>
<div class="dt" style="left:516px">18 Apr 2020</div>
<div class="dt" style="left:580px">7 May 2020</div>
<div class="dt" style="left:644px">26 May 2020</div>
<div class="dt" style="left:708px">13 Jun 2020</div>
<div class="dt" style="left:772px">2 Jul 2020</div>
<div class="dt" style="left:836px">21 Jul 2020</div>
<div class="dt" style="left:900px">8 Aug 2020</div>
<div class="dt" style="left:964px">27 Aug 2020</div>
<div class="dt" style="left:1028px">15 Sep 2020</div>
<div class="dt" style="left:1092px">3 Oct 2020</div>
<div class="dt" style="left:1156px">22 Oct 2020</div>
<div class="dt" style="left:1220px">10 Nov 2020</div>
<div class="tab" style="left:18.3px">EURUSD,Daily</div>
<div class="tab" style="left:220.8px">AUDUSD,Daily</div>
<div class="tab" style="left:325px">USDCAD,Daily</div>
<div class="tab" style="left:428px">USDCNH,Daily</div>
<div class="tab" style="left:534px">EURUSD,Daily</div>
<div class="tab" style="left:638px">GBPUSD,H4</div>
<div class="tab" style="left:729px">XAUUSD,Daily</div>
<div class="tab" style="left:833.4px">HK50,H1</div>
<div class="tab" style="left:905px">UK100,H1</div>
<div class="tab" style="left:985px">UK100,H1</div>
<div class="tab" style="left:1064.7px">GER30,H1</div>
<div class="tab" style="left:1144px">FRA40,H1</div>
<div class="tab" style="left:1220px">USOil,H4</div>
<div class="tab" style="left:1292px">USDJPY,H1</div>
<div class="tab" style="left:1376px">DJ30,Daily</div>
<div class="tab" style="left:1455.8px">CHINA300,H1</div>
<div class="tab" style="left:1556px;width:50px;overflow:hidden">USOil,Da</div>
<div class="tab" style="left:119.9px;color:#000">USDCHF,Daily</div>
</body></html>
